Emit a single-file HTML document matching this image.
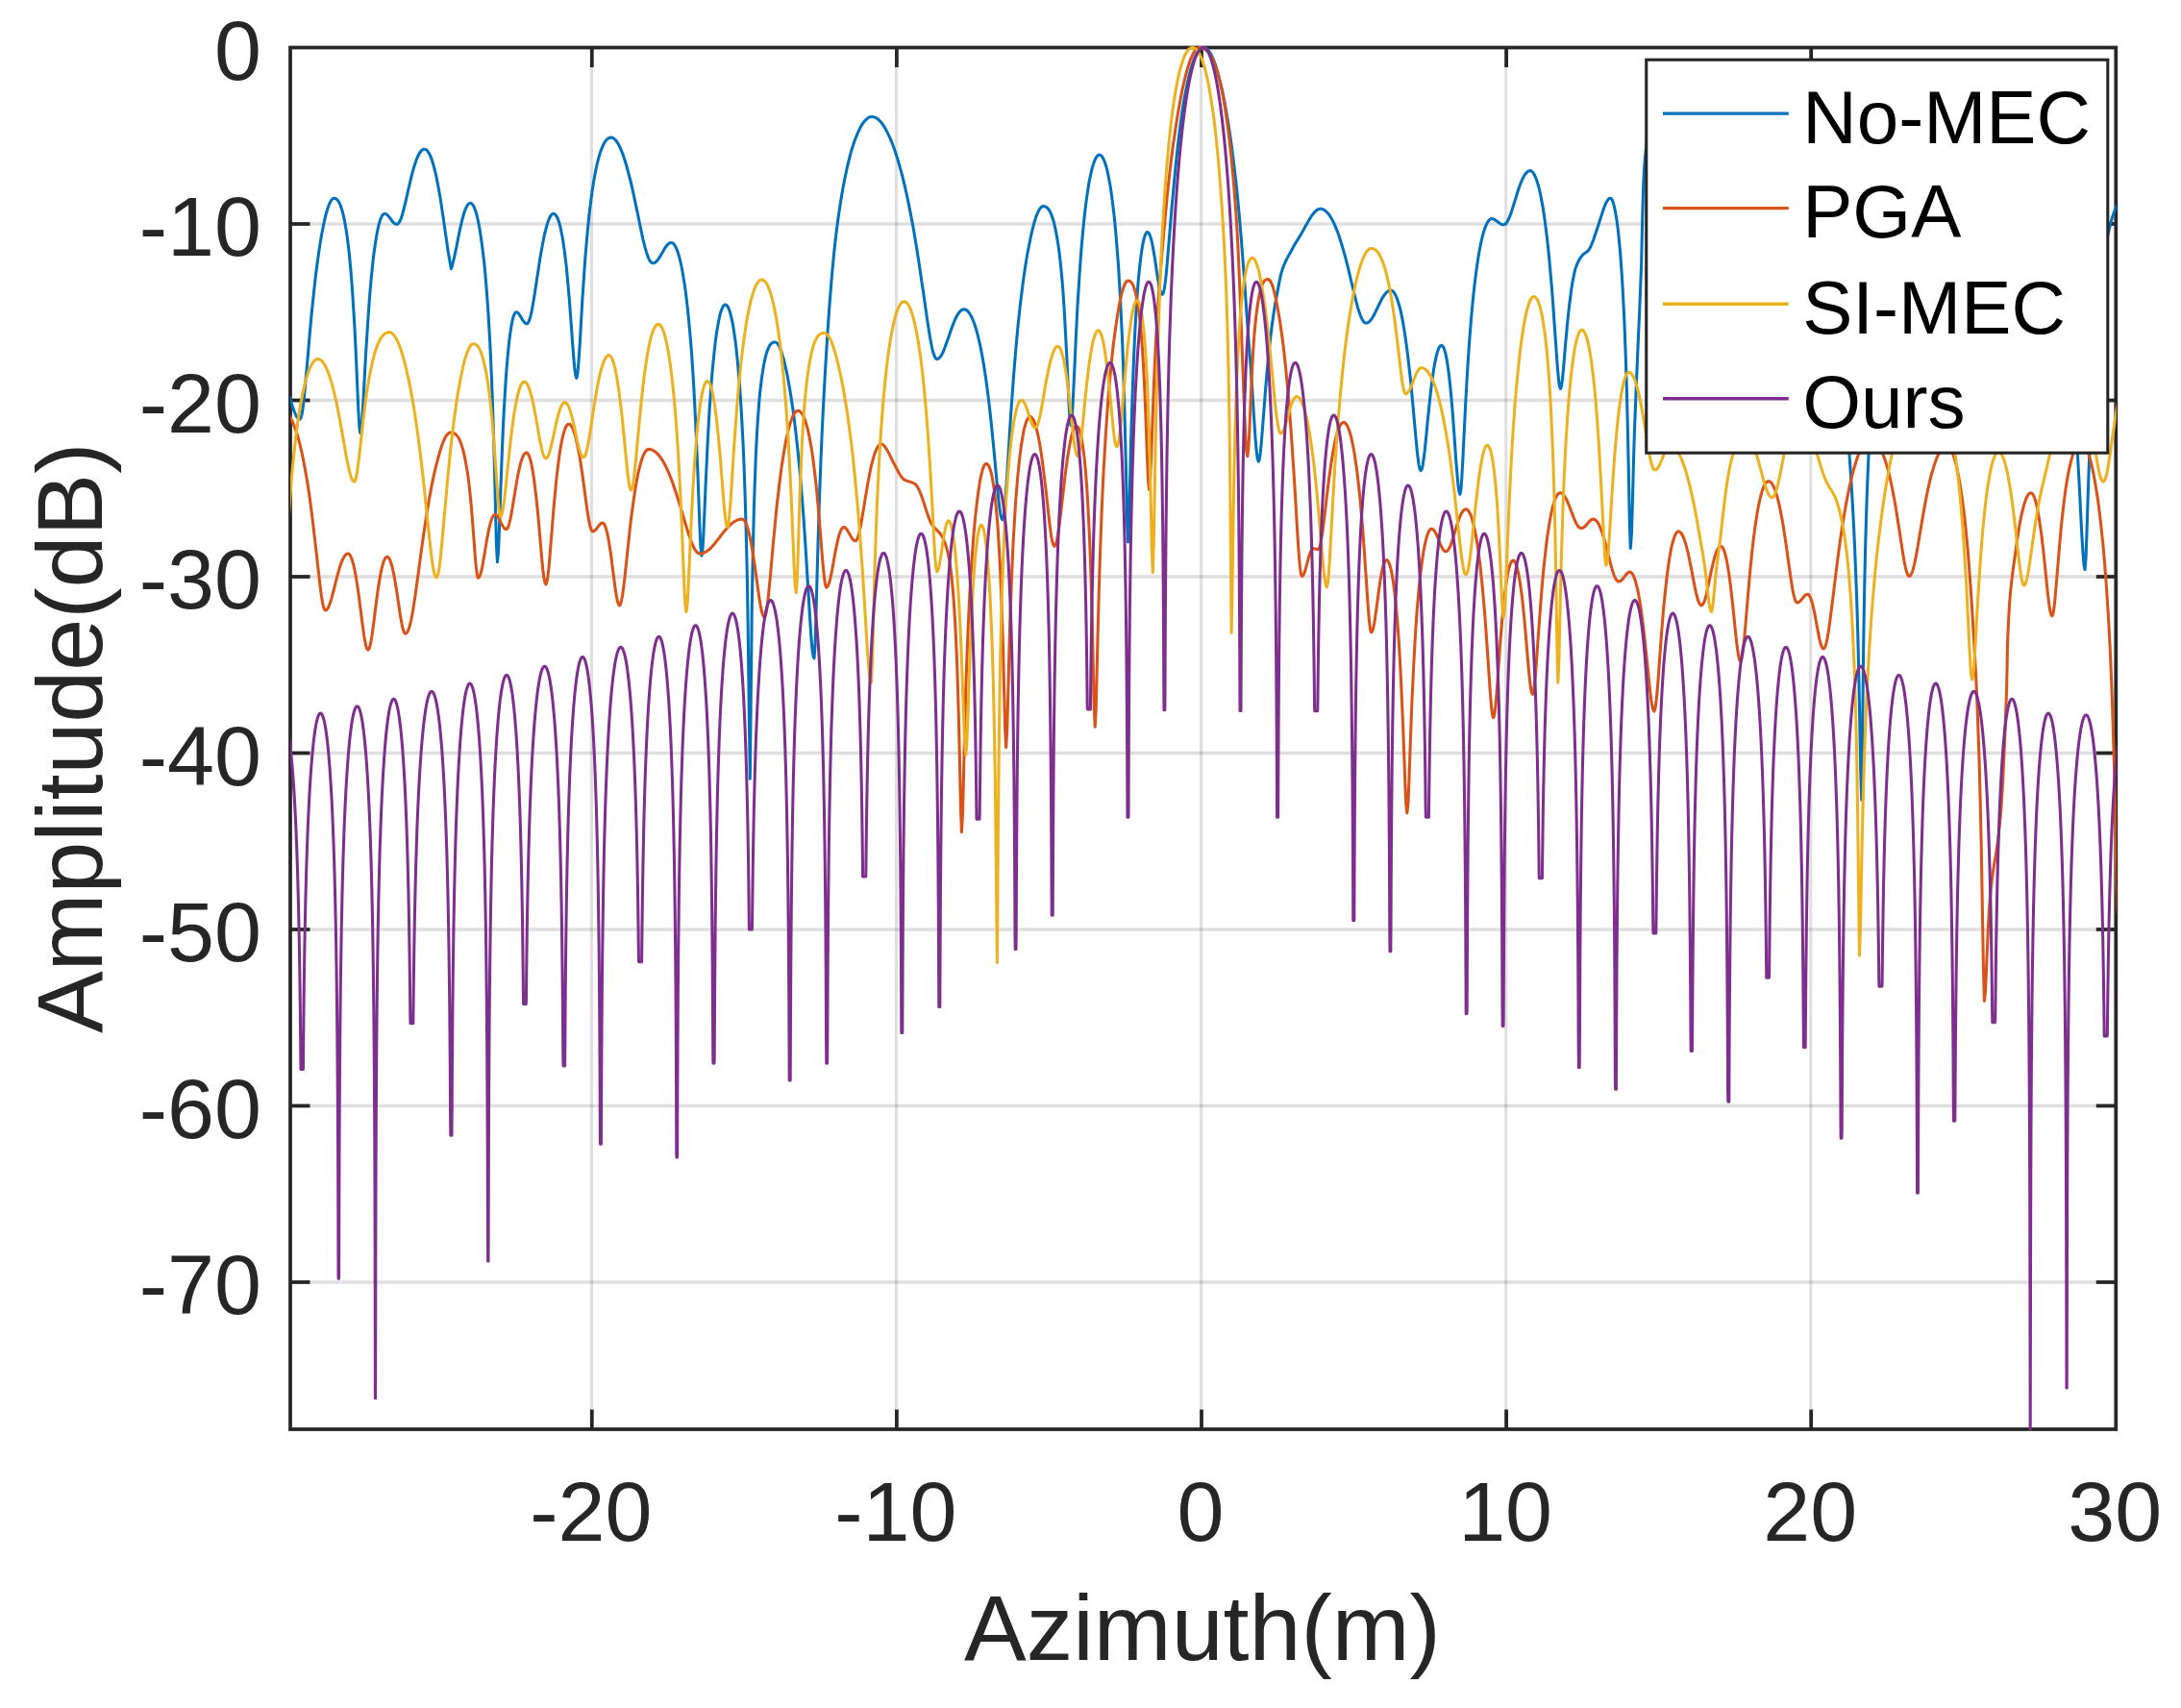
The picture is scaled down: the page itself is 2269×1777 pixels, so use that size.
<!DOCTYPE html>
<html lang="en"><head><meta charset="utf-8"><title>Azimuth profile</title>
<style>html,body{margin:0;padding:0;background:#fff}svg{display:block}text{font-family:"Liberation Sans",Arial,Helvetica,sans-serif}</style></head><body>
<svg width="2269" height="1777" viewBox="0 0 2269 1777">
<rect width="2269" height="1777" fill="#fff"/>
<defs><clipPath id="cp"><rect x="302.00" y="47.62" width="1899.80" height="1441.25"/></clipPath></defs>
<g stroke="#262626" stroke-opacity="0.15">
<line x1="615.40" y1="49.50" x2="615.40" y2="1487.00" stroke-width="3.1"/>
<line x1="932.50" y1="49.50" x2="932.50" y2="1487.00" stroke-width="3.1"/>
<line x1="1249.60" y1="49.50" x2="1249.60" y2="1487.00" stroke-width="3.1"/>
<line x1="1566.70" y1="49.50" x2="1566.70" y2="1487.00" stroke-width="3.1"/>
<line x1="1883.80" y1="49.50" x2="1883.80" y2="1487.00" stroke-width="3.1"/>
<line x1="302.00" y1="1334.00" x2="2201.30" y2="1334.00" stroke-width="3.5"/>
<line x1="302.00" y1="1150.50" x2="2201.30" y2="1150.50" stroke-width="3.5"/>
<line x1="302.00" y1="967.00" x2="2201.30" y2="967.00" stroke-width="3.5"/>
<line x1="302.00" y1="783.50" x2="2201.30" y2="783.50" stroke-width="3.5"/>
<line x1="302.00" y1="600.00" x2="2201.30" y2="600.00" stroke-width="3.5"/>
<line x1="302.00" y1="416.50" x2="2201.30" y2="416.50" stroke-width="3.5"/>
<line x1="302.00" y1="233.00" x2="2201.30" y2="233.00" stroke-width="3.5"/>
</g>
<g stroke="#262626" stroke-width="3.75" fill="none">
<rect x="302.00" y="49.50" width="1899.30" height="1437.50"/>
<line x1="615.80" y1="1487.00" x2="615.80" y2="1466.50"/>
<line x1="615.80" y1="49.50" x2="615.80" y2="70.00"/>
<line x1="932.90" y1="1487.00" x2="932.90" y2="1466.50"/>
<line x1="932.90" y1="49.50" x2="932.90" y2="70.00"/>
<line x1="1250.00" y1="1487.00" x2="1250.00" y2="1466.50"/>
<line x1="1250.00" y1="49.50" x2="1250.00" y2="70.00"/>
<line x1="1567.10" y1="1487.00" x2="1567.10" y2="1466.50"/>
<line x1="1567.10" y1="49.50" x2="1567.10" y2="70.00"/>
<line x1="1884.20" y1="1487.00" x2="1884.20" y2="1466.50"/>
<line x1="1884.20" y1="49.50" x2="1884.20" y2="70.00"/>
<line x1="302.00" y1="1334.00" x2="322.50" y2="1334.00"/>
<line x1="2201.30" y1="1334.00" x2="2180.80" y2="1334.00"/>
<line x1="302.00" y1="1150.50" x2="322.50" y2="1150.50"/>
<line x1="2201.30" y1="1150.50" x2="2180.80" y2="1150.50"/>
<line x1="302.00" y1="967.00" x2="322.50" y2="967.00"/>
<line x1="2201.30" y1="967.00" x2="2180.80" y2="967.00"/>
<line x1="302.00" y1="783.50" x2="322.50" y2="783.50"/>
<line x1="2201.30" y1="783.50" x2="2180.80" y2="783.50"/>
<line x1="302.00" y1="600.00" x2="322.50" y2="600.00"/>
<line x1="2201.30" y1="600.00" x2="2180.80" y2="600.00"/>
<line x1="302.00" y1="416.50" x2="322.50" y2="416.50"/>
<line x1="2201.30" y1="416.50" x2="2180.80" y2="416.50"/>
<line x1="302.00" y1="233.00" x2="322.50" y2="233.00"/>
<line x1="2201.30" y1="233.00" x2="2180.80" y2="233.00"/>
</g>
<g clip-path="url(#cp)">
<polyline points="290.0,392.0 291.0,392.2 292.0,392.8 293.0,393.7 294.0,395.0 295.0,396.6 296.0,398.6 297.0,400.9 298.0,403.5 299.0,406.2 300.0,409.2 301.0,412.3 302.0,415.5 303.0,418.7 304.0,421.9 305.0,424.9 306.0,427.6 307.0,430.1 308.0,432.2 309.0,433.9 310.0,435.2 311.0,435.9 312.0,436.1 313.0,434.8 314.1,430.9 315.1,424.4 316.1,416.0 317.1,405.9 318.1,394.9 319.2,383.2 320.2,371.4 321.2,359.6 322.2,348.0 323.2,336.8 324.2,326.0 325.3,315.7 326.3,305.9 327.3,296.6 328.3,287.8 329.3,279.5 330.4,271.7 331.4,264.4 332.4,257.5 333.4,251.2 334.4,245.2 335.5,239.7 336.5,234.5 337.5,229.7 338.5,225.4 339.5,221.5 340.6,218.0 341.6,214.9 342.6,212.3 343.6,210.1 344.6,208.4 345.6,207.2 346.7,206.5 347.7,206.2 348.7,206.4 349.7,206.9 350.7,207.7 351.7,208.9 352.7,210.5 353.7,212.5 354.7,215.1 355.7,218.2 356.7,221.8 357.7,226.1 358.7,231.0 359.7,236.6 360.7,243.0 361.7,250.3 362.7,258.5 363.7,267.8 364.7,278.5 365.7,290.7 366.7,304.4 367.7,320.1 368.8,337.8 369.8,357.6 370.8,379.6 371.8,403.0 372.8,425.7 373.8,443.5 374.8,450.5 375.8,446.4 376.8,435.1 377.8,419.0 378.8,400.8 379.8,382.2 380.8,364.2 381.9,347.4 382.9,331.8 383.9,317.6 384.9,304.7 385.9,292.9 386.9,282.3 387.9,272.8 388.9,264.2 390.0,256.6 391.0,249.8 392.0,243.8 393.0,238.7 394.0,234.3 395.0,230.6 396.0,227.6 397.1,225.3 398.1,223.6 399.1,222.6 400.1,222.3 401.2,222.5 402.2,223.1 403.3,224.0 404.3,225.1 405.4,226.5 406.5,227.9 407.5,229.4 408.6,230.7 409.7,231.8 410.7,232.7 411.8,233.2 412.9,233.3 413.9,233.0 414.9,232.0 415.9,230.3 417.0,228.0 418.0,225.1 419.0,221.7 420.0,217.9 421.0,213.8 422.1,209.4 423.1,205.0 424.1,200.4 425.1,195.9 426.2,191.5 427.2,187.2 428.2,183.0 429.2,179.1 430.2,175.4 431.3,172.0 432.3,168.9 433.3,166.0 434.3,163.5 435.4,161.3 436.4,159.4 437.4,157.9 438.4,156.7 439.4,155.8 440.5,155.3 441.5,155.2 442.5,155.4 443.6,155.9 444.6,156.9 445.6,158.3 446.7,160.1 447.7,162.3 448.7,164.9 449.8,167.9 450.8,171.3 451.8,175.1 452.9,179.3 453.9,183.9 454.9,188.9 456.0,194.4 457.0,200.2 458.1,206.3 459.1,212.9 460.1,219.7 461.2,226.7 462.2,233.9 463.2,241.2 464.3,248.5 465.3,255.5 466.3,262.3 467.4,268.6 468.4,274.4 469.4,279.6 470.5,276.2 471.5,272.2 472.6,267.8 473.6,263.0 474.7,257.9 475.7,252.7 476.7,247.5 477.8,242.3 478.8,237.4 479.9,232.7 480.9,228.4 482.0,224.5 483.0,221.1 484.0,218.1 485.1,215.7 486.1,213.8 487.2,212.4 488.2,211.6 489.3,211.3 490.3,211.6 491.3,212.4 492.3,213.8 493.3,215.7 494.3,218.2 495.3,221.3 496.3,225.0 497.3,229.3 498.3,234.3 499.3,240.0 500.3,246.4 501.3,253.6 502.3,261.6 503.4,270.6 504.4,280.5 505.4,291.6 506.4,303.9 507.4,317.7 508.4,333.1 509.4,350.5 510.4,370.2 511.4,392.8 512.4,418.8 513.4,449.3 514.4,484.9 515.4,525.6 516.4,565.6 517.4,584.8 518.5,574.4 519.5,549.1 520.5,519.0 521.6,489.9 522.6,463.8 523.6,440.8 524.7,420.7 525.7,403.3 526.7,388.2 527.8,375.1 528.8,363.9 529.8,354.2 530.9,346.1 531.9,339.4 532.9,334.0 533.9,329.9 535.0,327.0 536.0,325.3 537.0,324.7 538.0,324.9 539.0,325.7 540.0,326.8 541.0,328.3 542.0,330.0 543.0,331.8 544.0,333.4 545.1,334.8 546.1,335.9 547.1,336.6 548.1,336.8 549.1,336.3 550.1,334.6 551.1,331.9 552.2,328.1 553.2,323.4 554.2,318.0 555.2,311.9 556.3,305.5 557.3,298.7 558.3,291.9 559.4,285.0 560.4,278.3 561.4,271.7 562.4,265.5 563.5,259.5 564.5,254.0 565.5,248.7 566.5,243.9 567.6,239.6 568.6,235.6 569.6,232.2 570.7,229.2 571.7,226.8 572.7,224.8 573.7,223.4 574.8,222.6 575.8,222.3 576.8,222.6 577.9,223.4 578.9,224.8 580.0,226.9 581.0,229.5 582.1,232.9 583.1,237.0 584.1,241.8 585.2,247.5 586.2,254.0 587.3,261.4 588.3,269.8 589.4,279.2 590.4,289.7 591.4,301.3 592.5,314.0 593.5,327.7 594.6,342.1 595.6,356.7 596.7,370.6 597.7,382.4 598.8,390.5 599.8,393.4 600.8,389.5 601.8,378.7 602.9,363.4 603.9,346.1 604.9,328.4 605.9,311.3 607.0,295.1 608.0,280.2 609.0,266.4 610.1,253.8 611.1,242.3 612.1,231.8 613.1,222.2 614.2,213.4 615.2,205.3 616.2,198.0 617.2,191.3 618.3,185.3 619.3,179.7 620.3,174.7 621.3,170.1 622.4,165.9 623.4,162.2 624.4,158.9 625.4,155.9 626.5,153.3 627.5,151.0 628.5,149.0 629.5,147.4 630.6,146.0 631.6,144.9 632.6,144.1 633.6,143.5 634.7,143.2 635.7,143.0 636.7,143.2 637.7,143.6 638.7,144.2 639.7,145.1 640.8,146.2 641.8,147.5 642.8,149.1 643.8,150.9 644.8,152.9 645.8,155.2 646.8,157.6 647.9,160.3 648.9,163.2 649.9,166.2 650.9,169.5 651.9,172.9 652.9,176.5 653.9,180.3 654.9,184.2 656.0,188.4 657.0,192.6 658.0,197.0 659.0,201.6 660.0,206.3 661.0,211.1 662.0,215.9 663.1,220.8 664.1,225.8 665.1,230.7 666.1,235.6 667.1,240.4 668.1,245.1 669.1,249.6 670.2,253.8 671.2,257.8 672.2,261.4 673.2,264.6 674.2,267.4 675.2,269.7 676.2,271.5 677.3,272.8 678.3,273.6 679.3,273.8 680.3,273.7 681.3,273.3 682.3,272.6 683.3,271.6 684.3,270.4 685.3,269.0 686.3,267.4 687.3,265.7 688.4,264.0 689.4,262.2 690.4,260.4 691.4,258.7 692.4,257.2 693.4,255.8 694.4,254.7 695.4,253.7 696.4,253.0 697.4,252.6 698.4,252.5 699.5,252.7 700.5,253.4 701.5,254.5 702.5,256.0 703.5,258.1 704.5,260.5 705.5,263.5 706.6,267.0 707.6,271.0 708.6,275.5 709.6,280.5 710.6,286.2 711.6,292.4 712.7,299.3 713.7,307.0 714.7,315.4 715.7,324.6 716.7,334.7 717.7,345.8 718.8,358.1 719.8,371.6 720.8,386.6 721.8,403.2 722.8,421.7 723.8,442.3 724.8,465.4 725.9,491.0 726.9,518.7 727.9,546.5 728.9,569.1 729.9,578.2 731.0,571.4 732.0,553.8 733.0,530.8 734.0,506.7 735.1,483.7 736.1,462.5 737.1,443.4 738.1,426.2 739.2,410.8 740.2,397.0 741.2,384.7 742.3,373.8 743.3,364.0 744.3,355.3 745.3,347.7 746.4,341.0 747.4,335.2 748.4,330.3 749.4,326.1 750.5,322.8 751.5,320.3 752.5,318.4 753.6,317.4 754.6,317.0 755.6,317.3 756.6,318.4 757.7,320.1 758.7,322.6 759.7,325.8 760.7,329.7 761.8,334.4 762.8,340.0 763.8,346.4 764.9,353.8 765.9,362.2 766.9,371.7 767.9,382.4 769.0,394.5 770.0,408.3 771.0,423.8 772.0,441.6 773.1,462.1 774.1,486.0 775.1,514.4 776.1,549.1 777.2,593.1 778.2,652.1 779.2,735.7 780.3,810.3 781.3,718.1 782.3,629.3 783.4,570.5 784.4,528.2 785.5,496.0 786.5,470.6 787.5,450.2 788.6,433.5 789.6,419.9 790.6,408.7 791.7,399.4 792.7,391.5 793.8,384.6 794.8,378.7 795.8,373.7 796.9,369.4 797.9,366.0 799.0,363.1 800.0,360.8 801.0,359.1 802.1,357.8 803.1,356.9 804.2,356.3 805.2,356.0 806.2,356.0 807.3,356.2 808.3,356.9 809.3,358.1 810.3,359.7 811.3,361.8 812.3,364.3 813.4,367.2 814.4,370.6 815.4,374.3 816.4,378.4 817.4,382.9 818.5,387.7 819.5,392.8 820.5,398.3 821.5,404.0 822.5,410.1 823.5,416.6 824.6,423.6 825.6,431.0 826.6,438.9 827.6,447.3 828.6,456.2 829.7,465.7 830.7,475.7 831.7,486.4 832.7,497.7 833.7,509.7 834.8,522.4 835.8,535.9 836.8,550.2 837.8,565.3 838.8,581.1 839.8,597.6 840.9,614.6 841.9,631.6 842.9,648.1 843.9,662.9 844.9,674.7 846.0,682.4 847.0,685.0 848.0,671.7 849.0,639.3 850.0,601.7 851.0,565.7 852.0,533.2 853.0,504.1 854.0,478.2 855.0,454.7 856.0,433.5 857.0,414.0 858.0,395.7 859.0,378.2 860.0,361.6 861.0,345.9 862.0,331.2 863.0,317.3 864.0,304.3 865.0,292.1 866.0,280.7 867.0,270.1 868.0,260.1 869.0,250.9 870.0,242.4 871.0,234.4 872.0,227.0 873.0,220.1 874.0,213.5 875.0,207.2 876.0,201.3 877.0,195.6 878.0,190.3 879.0,185.2 880.0,180.4 881.0,175.8 882.0,171.4 883.0,167.3 884.0,163.4 885.0,159.7 886.0,156.2 887.0,152.8 888.0,149.7 889.0,146.7 890.1,144.0 891.1,141.4 892.1,138.9 893.1,136.7 894.1,134.6 895.1,132.6 896.1,130.8 897.1,129.2 898.1,127.7 899.1,126.4 900.1,125.3 901.1,124.3 902.1,123.4 903.1,122.7 904.1,122.2 905.1,121.8 906.1,121.5 907.1,121.5 908.1,121.5 909.1,121.7 910.1,122.1 911.1,122.5 912.1,123.1 913.1,123.8 914.1,124.7 915.2,125.7 916.2,126.8 917.2,128.0 918.2,129.3 919.2,130.8 920.2,132.4 921.2,134.1 922.2,135.9 923.2,137.8 924.2,139.9 925.2,142.1 926.3,144.4 927.3,146.8 928.3,149.3 929.3,152.0 930.3,154.8 931.3,157.7 932.3,160.8 933.3,163.9 934.3,167.2 935.3,170.7 936.3,174.2 937.3,177.9 938.4,181.7 939.4,185.7 940.4,189.8 941.4,194.1 942.4,198.5 943.4,203.0 944.4,207.7 945.4,212.6 946.4,217.6 947.4,222.8 948.4,228.1 949.5,233.6 950.5,239.3 951.5,245.1 952.5,251.1 953.5,257.3 954.5,263.6 955.5,270.0 956.5,276.6 957.5,283.3 958.5,290.2 959.5,297.1 960.6,304.1 961.6,311.2 962.6,318.2 963.6,325.2 964.6,332.1 965.6,338.8 966.6,345.2 967.6,351.2 968.6,356.7 969.6,361.6 970.6,365.8 971.7,369.2 972.7,371.6 973.7,373.1 974.7,373.6 975.7,373.4 976.7,372.8 977.7,371.9 978.7,370.6 979.7,369.0 980.7,367.0 981.7,364.8 982.7,362.3 983.7,359.6 984.7,356.8 985.7,353.9 986.8,350.9 987.8,348.0 988.8,345.1 989.8,342.2 990.8,339.5 991.8,336.8 992.8,334.4 993.8,332.1 994.8,330.0 995.8,328.1 996.8,326.5 997.8,325.1 998.8,323.9 999.8,323.0 1000.8,322.4 1001.9,322.0 1002.9,321.8 1003.9,322.0 1004.9,322.3 1005.9,323.0 1006.9,323.9 1007.9,325.0 1008.9,326.4 1009.9,328.1 1010.9,330.0 1011.9,332.2 1012.9,334.7 1013.9,337.5 1014.9,340.5 1015.9,343.9 1016.9,347.5 1017.9,351.5 1018.9,355.8 1019.9,360.4 1020.9,365.4 1021.9,370.7 1022.9,376.4 1023.9,382.4 1024.9,388.9 1025.9,395.8 1026.9,403.1 1027.9,410.9 1028.9,419.1 1029.9,427.8 1030.9,437.0 1031.9,446.6 1032.9,456.7 1033.9,467.2 1034.9,478.0 1035.9,488.9 1036.9,499.8 1037.9,510.4 1038.9,520.1 1039.9,528.6 1040.9,535.1 1041.9,539.3 1042.9,540.7 1043.9,538.2 1045.0,530.9 1046.0,519.4 1047.0,505.2 1048.0,489.5 1049.0,473.1 1050.0,456.8 1051.0,440.9 1052.0,425.6 1053.1,411.0 1054.1,397.2 1055.1,384.1 1056.1,371.8 1057.1,360.1 1058.1,349.1 1059.1,338.7 1060.1,328.9 1061.1,319.6 1062.2,310.8 1063.2,302.6 1064.2,294.8 1065.2,287.4 1066.2,280.5 1067.2,274.0 1068.2,267.9 1069.2,262.1 1070.3,256.7 1071.3,251.6 1072.3,246.7 1073.3,242.2 1074.3,238.0 1075.3,234.0 1076.3,230.5 1077.3,227.2 1078.3,224.3 1079.4,221.8 1080.4,219.6 1081.4,217.8 1082.4,216.4 1083.4,215.4 1084.4,214.8 1085.4,214.6 1086.5,214.7 1087.5,215.0 1088.5,215.5 1089.5,216.3 1090.5,217.4 1091.6,218.8 1092.6,220.6 1093.6,222.9 1094.6,225.6 1095.7,228.8 1096.7,232.5 1097.7,236.9 1098.7,241.9 1099.7,247.5 1100.8,253.9 1101.8,261.2 1102.8,269.5 1103.8,279.2 1104.9,290.3 1105.9,303.2 1106.9,317.9 1107.9,334.8 1108.9,353.8 1110.0,374.9 1111.0,397.4 1112.0,419.2 1113.0,436.2 1114.1,442.8 1115.1,436.7 1116.1,420.8 1117.1,399.5 1118.2,376.7 1119.2,354.5 1120.2,333.8 1121.2,314.9 1122.3,297.7 1123.3,282.0 1124.3,267.9 1125.3,255.0 1126.4,243.3 1127.4,232.7 1128.4,223.1 1129.4,214.3 1130.5,206.4 1131.5,199.3 1132.5,192.9 1133.5,187.1 1134.6,182.0 1135.6,177.5 1136.6,173.6 1137.6,170.2 1138.7,167.4 1139.7,165.1 1140.7,163.4 1141.7,162.1 1142.8,161.3 1143.8,161.1 1144.8,161.4 1145.8,162.1 1146.9,163.4 1147.9,165.2 1148.9,167.6 1149.9,170.4 1151.0,173.9 1152.0,177.9 1153.0,182.6 1154.0,187.8 1155.1,193.8 1156.1,200.4 1157.1,207.9 1158.1,216.1 1159.2,225.3 1160.2,235.5 1161.2,246.8 1162.2,259.3 1163.3,273.3 1164.3,289.0 1165.3,306.7 1166.3,326.8 1167.4,349.8 1168.4,376.7 1169.4,408.3 1170.4,446.2 1171.5,491.3 1172.5,538.9 1173.5,563.9 1174.5,544.2 1175.5,503.4 1176.5,462.2 1177.6,426.5 1178.6,396.3 1179.6,370.7 1180.6,348.9 1181.6,330.1 1182.6,314.0 1183.6,300.0 1184.6,287.9 1185.7,277.5 1186.7,268.7 1187.7,261.2 1188.7,255.0 1189.7,250.1 1190.7,246.3 1191.7,243.6 1192.7,242.0 1193.8,241.5 1194.8,242.0 1195.8,243.6 1196.8,246.2 1197.9,249.9 1198.9,254.5 1199.9,259.9 1201.0,266.1 1202.0,272.7 1203.0,279.7 1204.0,286.6 1205.1,293.0 1206.1,298.6 1207.1,302.9 1208.1,305.5 1209.2,306.4 1210.2,305.1 1211.2,301.1 1212.2,294.4 1213.2,285.5 1214.2,274.8 1215.2,263.1 1216.2,250.9 1217.2,238.5 1218.2,226.3 1219.2,214.4 1220.3,202.9 1221.3,191.7 1222.3,181.1 1223.3,171.0 1224.3,161.3 1225.3,152.2 1226.3,143.6 1227.3,135.5 1228.3,127.8 1229.3,120.6 1230.3,113.8 1231.3,107.5 1232.3,101.5 1233.4,96.0 1234.4,90.8 1235.4,86.0 1236.4,81.5 1237.4,77.4 1238.4,73.5 1239.4,70.0 1240.4,66.9 1241.4,64.0 1242.4,61.4 1243.4,59.0 1244.4,57.0 1245.4,55.2 1246.5,53.6 1247.5,52.4 1248.5,51.3 1249.5,50.5 1250.5,49.9 1251.5,49.6 1252.5,49.5 1253.5,49.6 1254.5,50.1 1255.5,50.7 1256.6,51.7 1257.6,52.9 1258.6,54.3 1259.6,56.0 1260.6,58.0 1261.6,60.2 1262.6,62.6 1263.7,65.3 1264.7,68.2 1265.7,71.4 1266.7,74.8 1267.7,78.4 1268.7,82.3 1269.7,86.4 1270.7,90.7 1271.8,95.4 1272.8,100.2 1273.8,105.4 1274.8,110.8 1275.8,116.4 1276.8,122.4 1277.8,128.6 1278.9,135.2 1279.9,142.0 1280.9,149.2 1281.9,156.8 1282.9,164.7 1283.9,173.0 1284.9,181.7 1286.0,190.9 1287.0,200.5 1288.0,210.6 1289.0,221.3 1290.0,232.6 1291.0,244.6 1292.0,257.2 1293.0,270.5 1294.1,284.3 1295.1,298.4 1296.1,312.8 1297.1,327.2 1298.1,341.3 1299.1,355.0 1300.1,368.6 1301.2,382.4 1302.2,396.9 1303.2,412.4 1304.2,428.3 1305.2,443.9 1306.2,458.1 1307.2,469.8 1308.3,477.5 1309.3,480.2 1310.3,477.6 1311.3,470.5 1312.3,460.1 1313.3,447.8 1314.3,434.7 1315.3,421.6 1316.3,408.8 1317.3,396.6 1318.3,385.1 1319.3,374.4 1320.3,364.4 1321.3,355.1 1322.3,346.5 1323.3,338.6 1324.3,331.4 1325.3,324.8 1326.3,318.6 1327.3,312.7 1328.4,307.0 1329.4,301.4 1330.4,296.0 1331.4,290.9 1332.4,286.4 1333.4,282.6 1334.4,279.5 1335.4,276.8 1336.4,274.3 1337.4,272.1 1338.4,270.0 1339.4,268.1 1340.4,266.2 1341.4,264.5 1342.4,262.7 1343.4,260.9 1344.4,259.0 1345.4,257.1 1346.4,255.3 1347.4,253.6 1348.4,252.0 1349.4,250.3 1350.5,248.7 1351.5,247.0 1352.5,245.4 1353.5,243.7 1354.5,242.0 1355.5,240.2 1356.5,238.4 1357.5,236.6 1358.5,234.8 1359.5,233.0 1360.5,231.2 1361.5,229.5 1362.5,227.8 1363.5,226.2 1364.5,224.7 1365.5,223.3 1366.5,222.0 1367.5,220.8 1368.5,219.8 1369.5,218.9 1370.5,218.2 1371.5,217.7 1372.6,217.4 1373.6,217.2 1374.6,217.3 1375.6,217.6 1376.6,217.9 1377.6,218.5 1378.6,219.1 1379.6,220.0 1380.6,221.0 1381.7,222.1 1382.7,223.4 1383.7,224.9 1384.7,226.5 1385.7,228.2 1386.7,230.1 1387.7,232.2 1388.7,234.4 1389.7,236.8 1390.8,239.3 1391.8,242.0 1392.8,244.8 1393.8,247.8 1394.8,250.9 1395.8,254.2 1396.8,257.6 1397.8,261.1 1398.9,264.8 1399.9,268.6 1400.9,272.5 1401.9,276.5 1402.9,280.6 1403.9,284.8 1404.9,289.0 1405.9,293.3 1407.0,297.6 1408.0,301.8 1409.0,306.0 1410.0,310.1 1411.0,314.0 1412.0,317.8 1413.0,321.3 1414.0,324.6 1415.0,327.5 1416.1,330.1 1417.1,332.2 1418.1,333.9 1419.1,335.2 1420.1,335.9 1421.1,336.1 1422.1,336.0 1423.2,335.6 1424.2,334.9 1425.2,333.9 1426.3,332.7 1427.3,331.3 1428.3,329.6 1429.4,327.8 1430.4,325.8 1431.4,323.7 1432.5,321.5 1433.5,319.3 1434.5,317.2 1435.5,315.1 1436.6,313.0 1437.6,311.1 1438.6,309.3 1439.7,307.7 1440.7,306.2 1441.7,305.0 1442.8,303.9 1443.8,303.1 1444.8,302.5 1445.8,302.1 1446.9,302.0 1447.9,302.2 1448.9,302.8 1449.9,303.9 1450.9,305.3 1451.9,307.1 1452.9,309.4 1453.9,312.1 1454.9,315.3 1456.0,318.9 1457.0,322.9 1458.0,327.4 1459.0,332.4 1460.0,337.9 1461.0,344.0 1462.0,350.5 1463.0,357.6 1464.0,365.3 1465.0,373.6 1466.0,382.4 1467.1,391.8 1468.1,401.8 1469.1,412.3 1470.1,423.3 1471.1,434.5 1472.1,445.9 1473.1,456.9 1474.1,467.3 1475.1,476.4 1476.1,483.5 1477.1,488.1 1478.1,489.7 1479.2,488.2 1480.2,483.8 1481.2,477.0 1482.3,468.3 1483.3,458.4 1484.3,447.9 1485.3,437.3 1486.4,426.9 1487.4,417.1 1488.4,407.9 1489.4,399.4 1490.5,391.7 1491.5,384.9 1492.5,378.8 1493.6,373.6 1494.6,369.2 1495.6,365.6 1496.6,362.8 1497.7,360.8 1498.7,359.7 1499.7,359.3 1500.7,359.8 1501.7,361.3 1502.7,363.9 1503.8,367.5 1504.8,372.3 1505.8,378.1 1506.8,385.0 1507.8,393.1 1508.8,402.4 1509.8,412.8 1510.8,424.5 1511.8,437.2 1512.8,451.0 1513.8,465.3 1514.8,479.6 1515.9,493.0 1516.9,504.2 1517.9,511.7 1518.9,514.3 1519.9,509.3 1520.9,495.8 1521.9,477.2 1522.9,456.7 1523.9,436.2 1524.9,416.6 1525.9,398.5 1526.9,381.7 1527.9,366.3 1528.9,352.3 1529.9,339.4 1530.9,327.5 1531.9,316.7 1532.9,306.7 1533.9,297.6 1534.9,289.2 1535.9,281.5 1536.9,274.4 1537.9,268.0 1538.9,262.1 1539.9,256.7 1540.9,251.9 1541.9,247.5 1542.9,243.6 1543.9,240.2 1544.9,237.2 1545.9,234.6 1546.9,232.5 1547.9,230.7 1548.9,229.3 1549.9,228.4 1550.9,227.8 1551.9,227.6 1552.9,227.7 1554.0,228.0 1555.0,228.5 1556.0,229.2 1557.0,230.0 1558.1,230.8 1559.1,231.6 1560.1,232.3 1561.2,232.9 1562.2,233.4 1563.2,233.7 1564.2,233.8 1565.3,233.5 1566.3,232.9 1567.3,231.7 1568.3,230.2 1569.3,228.2 1570.4,225.9 1571.4,223.3 1572.4,220.4 1573.4,217.3 1574.4,214.0 1575.4,210.7 1576.5,207.4 1577.5,204.1 1578.5,200.8 1579.5,197.7 1580.5,194.7 1581.6,191.9 1582.6,189.3 1583.6,186.9 1584.6,184.8 1585.6,182.9 1586.7,181.3 1587.7,180.0 1588.7,179.0 1589.7,178.2 1590.7,177.8 1591.8,177.6 1592.8,177.8 1593.8,178.5 1594.8,179.5 1595.8,181.0 1596.9,183.0 1597.9,185.3 1598.9,188.2 1599.9,191.5 1601.0,195.2 1602.0,199.5 1603.0,204.3 1604.0,209.6 1605.1,215.4 1606.1,221.8 1607.1,228.9 1608.1,236.6 1609.1,244.9 1610.2,254.0 1611.2,263.8 1612.2,274.5 1613.2,285.9 1614.3,298.3 1615.3,311.4 1616.3,325.4 1617.3,339.9 1618.4,354.8 1619.4,369.5 1620.4,383.1 1621.4,394.3 1622.4,401.8 1623.5,404.4 1624.5,401.7 1625.5,394.3 1626.5,383.8 1627.5,371.9 1628.5,359.7 1629.6,347.9 1630.6,336.9 1631.6,326.9 1632.6,318.0 1633.6,310.0 1634.6,302.5 1635.6,295.8 1636.7,289.8 1637.7,284.7 1638.7,280.5 1639.7,277.4 1640.7,274.8 1641.7,272.5 1642.7,270.6 1643.8,268.9 1644.8,267.4 1645.8,266.1 1646.8,265.0 1647.8,264.1 1648.8,263.4 1649.8,262.8 1650.9,262.0 1651.9,261.1 1652.9,260.0 1653.9,258.4 1654.9,256.5 1655.9,254.1 1656.9,251.5 1658.0,248.7 1659.0,245.7 1660.0,242.8 1661.0,239.8 1662.0,236.8 1663.0,233.7 1664.0,230.5 1665.1,227.3 1666.1,224.1 1667.1,221.0 1668.1,218.0 1669.1,215.2 1670.1,212.7 1671.1,210.5 1672.2,208.7 1673.2,207.4 1674.2,206.5 1675.2,206.2 1676.2,206.7 1677.2,208.2 1678.2,210.6 1679.2,214.1 1680.2,218.6 1681.2,224.2 1682.3,231.0 1683.3,239.1 1684.3,248.5 1685.3,259.3 1686.3,271.9 1687.3,286.4 1688.3,303.1 1689.3,322.4 1690.3,345.0 1691.3,371.7 1692.3,403.6 1693.3,442.5 1694.3,489.7 1695.3,541.8 1696.3,570.5 1697.4,556.0 1698.4,521.6 1699.4,482.2 1700.4,449.1 1701.5,421.5 1702.5,396.9 1703.5,373.4 1704.5,349.9 1705.6,325.7 1706.6,300.8 1707.6,274.9 1708.6,231.4 1709.7,192.3 1710.7,173.4 1711.7,161.4 1712.7,151.7 1713.8,144.0 1714.8,138.0 1715.8,133.5 1716.8,130.2 1717.9,127.9 1718.9,126.5 1719.9,125.6 1720.9,125.2 1722.0,125.0 1723.0,125.0 1724.0,125.0 1725.0,125.0 1726.0,125.2 1727.0,125.4 1728.0,125.7 1729.0,126.1 1730.0,126.6 1731.0,127.2 1732.0,127.8 1733.0,128.6 1734.0,129.4 1735.0,130.4 1736.0,131.4 1737.0,132.5 1738.0,133.7 1739.0,135.0 1740.0,136.4 1741.0,137.9 1742.0,139.5 1743.0,141.2 1744.0,143.0 1745.0,144.9 1746.0,146.9 1747.0,149.0 1748.0,151.2 1749.0,153.5 1750.0,155.8 1751.0,158.4 1752.0,161.0 1753.0,163.7 1754.0,166.5 1755.0,169.5 1756.0,172.5 1757.0,175.7 1758.0,179.0 1759.0,182.4 1760.0,185.9 1761.0,189.5 1762.0,193.2 1763.0,197.1 1764.0,201.1 1765.0,205.2 1766.0,209.4 1767.0,213.7 1768.0,218.1 1769.0,222.6 1770.0,227.2 1771.0,231.9 1772.0,236.6 1773.0,241.4 1774.0,246.3 1775.0,251.1 1776.0,256.0 1777.0,260.8 1778.0,265.5 1779.0,270.2 1780.0,274.6 1781.0,278.9 1782.0,282.9 1783.0,286.7 1784.0,290.0 1785.0,293.0 1786.0,295.4 1787.0,297.4 1788.0,298.8 1789.0,299.7 1790.0,300.0 1791.0,299.7 1792.0,298.8 1793.0,297.3 1794.0,295.3 1795.0,292.8 1796.0,289.9 1797.0,286.6 1798.0,283.0 1799.0,279.2 1800.0,275.3 1801.0,271.2 1802.0,267.0 1803.0,262.8 1804.0,258.6 1805.0,254.5 1806.0,250.5 1807.0,246.5 1808.0,242.7 1809.0,239.0 1810.0,235.4 1811.0,231.9 1812.0,228.6 1813.0,225.5 1814.0,222.5 1815.0,219.6 1816.0,216.9 1817.0,214.3 1818.0,211.8 1819.0,209.5 1820.0,207.3 1821.0,205.1 1822.0,203.1 1823.0,201.2 1824.0,199.3 1825.0,197.6 1826.0,196.0 1827.0,194.4 1828.0,193.0 1829.0,191.6 1830.0,190.4 1831.0,189.2 1832.0,188.1 1833.0,187.1 1834.0,186.2 1835.0,185.3 1836.0,184.5 1837.0,183.8 1838.0,183.2 1839.0,182.6 1840.0,182.1 1841.0,181.7 1842.0,181.3 1843.0,181.0 1844.0,180.7 1845.0,180.5 1846.0,180.3 1847.0,180.2 1848.0,180.1 1849.0,180.0 1850.0,180.0 1851.0,180.0 1852.0,180.2 1853.0,180.4 1854.0,180.8 1855.0,181.2 1856.0,181.7 1857.1,182.3 1858.1,183.1 1859.1,183.9 1860.1,184.7 1861.1,185.7 1862.1,186.8 1863.1,188.0 1864.1,189.2 1865.1,190.5 1866.1,191.9 1867.1,193.4 1868.1,195.0 1869.2,196.7 1870.2,198.4 1871.2,200.3 1872.2,202.2 1873.2,204.2 1874.2,206.2 1875.2,208.4 1876.2,210.6 1877.2,212.9 1878.2,215.3 1879.2,217.8 1880.2,220.3 1881.3,222.9 1882.3,225.5 1883.3,228.3 1884.3,231.1 1885.3,234.0 1886.3,237.0 1887.3,240.2 1888.3,243.4 1889.3,246.7 1890.3,250.1 1891.3,253.7 1892.3,257.3 1893.3,261.1 1894.4,265.0 1895.4,269.0 1896.4,273.1 1897.4,277.4 1898.4,281.8 1899.4,286.3 1900.4,291.0 1901.4,295.8 1902.4,300.8 1903.4,306.0 1904.4,311.3 1905.4,316.9 1906.5,322.6 1907.5,328.5 1908.5,334.7 1909.5,341.0 1910.5,347.6 1911.5,354.5 1912.5,361.7 1913.5,369.1 1914.5,376.9 1915.5,385.1 1916.5,393.6 1917.5,402.5 1918.5,411.9 1919.6,421.8 1920.6,432.3 1921.6,443.4 1922.6,455.2 1923.6,467.9 1924.6,481.4 1925.6,496.1 1926.6,512.1 1927.6,529.5 1928.6,548.9 1929.6,570.5 1930.6,595.0 1931.7,623.4 1932.7,656.8 1933.7,697.0 1934.7,746.0 1935.7,801.0 1936.7,832.3 1937.7,755.0 1938.7,670.8 1939.7,611.8 1940.7,567.7 1941.7,532.9 1942.7,504.0 1943.7,479.5 1944.7,458.2 1945.7,439.4 1946.7,422.6 1947.8,407.4 1948.8,393.5 1949.8,380.8 1950.8,369.1 1951.8,358.2 1952.8,348.1 1953.8,338.7 1954.8,329.8 1955.8,321.5 1956.8,313.7 1957.8,306.4 1958.8,299.4 1959.8,292.8 1960.8,286.6 1961.8,280.7 1962.8,275.1 1963.8,269.8 1964.8,264.8 1965.8,260.0 1966.9,255.5 1967.9,251.2 1968.9,247.2 1969.9,243.3 1970.9,239.7 1971.9,236.2 1972.9,232.9 1973.9,229.8 1974.9,226.9 1975.9,224.2 1976.9,221.6 1977.9,219.2 1978.9,216.9 1979.9,214.8 1980.9,212.9 1981.9,211.1 1982.9,209.4 1983.9,207.9 1984.9,206.5 1986.0,205.3 1987.0,204.1 1988.0,203.2 1989.0,202.3 1990.0,201.6 1991.0,201.0 1992.0,200.6 1993.0,200.3 1994.0,200.1 1995.0,200.0 1996.0,200.1 1997.0,200.2 1998.0,200.5 1999.0,200.9 2000.0,201.4 2001.0,202.1 2002.0,202.8 2003.0,203.7 2004.0,204.7 2005.0,205.8 2006.0,207.0 2007.0,208.3 2008.0,209.8 2009.0,211.3 2010.0,213.0 2011.0,214.8 2012.0,216.8 2013.0,218.8 2014.0,221.0 2015.0,223.3 2016.0,225.7 2017.0,228.2 2018.0,230.9 2019.0,233.6 2020.0,236.5 2021.0,239.5 2022.0,242.6 2023.0,245.8 2024.0,249.2 2025.0,252.6 2026.0,256.2 2027.0,259.8 2028.0,263.6 2029.0,267.4 2030.0,271.3 2031.0,275.2 2032.0,279.2 2033.0,283.2 2034.0,287.3 2035.0,291.3 2036.0,295.3 2037.0,299.2 2038.0,303.1 2039.0,306.8 2040.0,310.4 2041.0,313.8 2042.0,317.0 2043.0,319.9 2044.0,322.5 2045.0,324.7 2046.0,326.6 2047.0,328.1 2048.0,329.1 2049.0,329.8 2050.0,330.0 2051.0,329.7 2052.0,328.7 2053.0,327.1 2054.0,324.9 2055.0,322.2 2056.0,319.0 2057.0,315.3 2058.0,311.4 2059.0,307.1 2060.0,302.7 2061.0,298.1 2062.0,293.4 2063.0,288.7 2064.0,283.9 2065.0,279.2 2066.0,274.6 2067.0,270.0 2068.0,265.5 2069.0,261.1 2070.0,256.8 2071.0,252.7 2072.0,248.7 2073.0,244.9 2074.0,241.2 2075.0,237.6 2076.0,234.2 2077.0,230.9 2078.0,227.8 2079.0,224.8 2080.0,221.9 2081.0,219.2 2082.0,216.7 2083.0,214.2 2084.0,211.9 2085.0,209.7 2086.0,207.7 2087.0,205.8 2088.0,204.0 2089.0,202.3 2090.0,200.7 2091.0,199.3 2092.0,197.9 2093.0,196.7 2094.0,195.6 2095.0,194.6 2096.0,193.7 2097.0,192.9 2098.0,192.2 2099.0,191.6 2100.0,191.1 2101.0,190.7 2102.0,190.4 2103.0,190.2 2104.0,190.0 2105.0,190.0 2106.0,190.1 2107.0,190.3 2108.0,190.6 2109.1,191.1 2110.1,191.7 2111.1,192.5 2112.1,193.3 2113.1,194.3 2114.1,195.5 2115.2,196.8 2116.2,198.2 2117.2,199.7 2118.2,201.4 2119.2,203.2 2120.2,205.2 2121.3,207.3 2122.3,209.5 2123.3,211.8 2124.3,214.3 2125.3,217.0 2126.3,219.8 2127.3,222.7 2128.4,225.7 2129.4,229.0 2130.4,232.3 2131.4,235.9 2132.4,239.6 2133.4,243.4 2134.5,247.5 2135.5,251.7 2136.5,256.1 2137.5,260.7 2138.5,265.5 2139.5,270.6 2140.5,275.8 2141.6,281.4 2142.6,287.1 2143.6,293.1 2144.6,299.5 2145.6,306.1 2146.6,313.0 2147.7,320.3 2148.7,327.9 2149.7,336.0 2150.7,344.5 2151.7,353.4 2152.7,362.8 2153.8,372.8 2154.8,383.5 2155.8,394.8 2156.8,406.8 2157.8,419.6 2158.8,433.4 2159.8,448.2 2160.9,464.1 2161.9,481.1 2162.9,499.4 2163.9,518.6 2164.9,538.6 2165.9,558.1 2167.0,575.5 2168.0,587.9 2169.0,592.5 2170.0,581.1 2171.0,554.2 2172.0,522.8 2173.0,492.6 2174.0,465.4 2175.0,441.1 2176.0,419.6 2177.0,400.4 2178.0,383.1 2179.0,367.5 2180.0,353.3 2181.0,340.4 2182.0,328.5 2183.0,317.6 2184.0,307.6 2185.0,298.2 2186.0,289.6 2187.0,281.6 2188.0,274.2 2189.0,267.4 2190.0,261.0 2191.0,255.1 2192.0,249.6 2193.0,244.5 2194.0,239.8 2195.0,235.5 2196.0,231.6 2197.0,228.0 2198.0,224.7 2199.0,221.7 2200.0,219.1 2201.0,216.7 2202.0,214.6 2203.0,212.9 2204.0,211.4 2205.0,210.2 2206.0,209.2 2207.0,208.5 2208.0,208.1 2209.0,208.0" fill="none" stroke="#0072BD" stroke-width="3.05" stroke-linejoin="round" stroke-linecap="butt"/>
<polyline points="294.0,428.0 295.0,428.1 296.0,428.4 297.0,428.9 298.0,429.7 299.1,430.6 300.1,431.7 301.1,433.1 302.1,434.7 303.1,436.5 304.1,438.5 305.1,440.7 306.1,443.2 307.1,445.9 308.1,448.8 309.2,452.0 310.2,455.4 311.2,459.1 312.2,463.1 313.2,467.3 314.2,471.8 315.2,476.6 316.2,481.7 317.2,487.0 318.2,492.7 319.3,498.8 320.3,505.1 321.3,511.8 322.3,518.8 323.3,526.2 324.3,533.9 325.3,542.0 326.3,550.4 327.3,559.1 328.3,568.0 329.4,577.1 330.4,586.3 331.4,595.4 332.4,604.2 333.4,612.5 334.4,619.9 335.4,626.2 336.4,631.0 337.4,634.0 338.4,635.0 339.5,634.6 340.5,633.6 341.5,632.0 342.5,629.7 343.6,626.9 344.6,623.6 345.6,620.0 346.6,616.1 347.7,612.0 348.7,607.9 349.7,603.8 350.7,599.8 351.8,596.0 352.8,592.4 353.8,589.1 354.8,586.1 355.9,583.5 356.9,581.2 357.9,579.4 358.9,577.9 360.0,576.8 361.0,576.2 362.0,576.0 363.0,576.3 364.1,577.5 365.1,579.4 366.2,582.1 367.2,585.6 368.3,589.8 369.3,594.8 370.4,600.5 371.4,606.9 372.5,613.9 373.5,621.5 374.5,629.4 375.6,637.7 376.6,645.9 377.7,653.9 378.7,661.2 379.8,667.4 380.8,672.2 381.9,675.2 382.9,676.1 384.0,675.1 385.0,672.0 386.0,667.0 387.1,660.6 388.1,653.0 389.2,644.9 390.2,636.5 391.3,628.2 392.3,620.2 393.3,612.7 394.4,605.9 395.4,599.7 396.5,594.4 397.5,589.8 398.6,586.0 399.6,583.1 400.6,580.9 401.7,579.7 402.7,579.3 403.8,579.7 404.8,581.0 405.9,583.1 406.9,586.0 408.0,589.7 409.0,594.2 410.1,599.4 411.1,605.3 412.2,611.8 413.3,618.7 414.3,625.9 415.4,633.1 416.4,640.0 417.5,646.3 418.5,651.7 419.6,655.8 420.6,658.3 421.7,659.2 422.7,658.8 423.7,657.7 424.7,655.8 425.7,653.0 426.7,649.5 427.7,645.1 428.7,640.0 429.7,634.4 430.7,628.1 431.7,621.5 432.7,614.5 433.7,607.3 434.7,600.0 435.7,592.6 436.7,585.1 437.7,577.7 438.7,570.4 439.7,563.3 440.7,556.3 441.7,549.4 442.7,542.8 443.7,536.3 444.7,530.1 445.7,524.1 446.7,518.3 447.7,512.8 448.7,507.5 449.7,502.4 450.7,497.6 451.7,493.0 452.7,488.6 453.7,484.4 454.8,480.3 455.8,476.5 456.8,472.8 457.8,469.3 458.8,466.1 459.8,463.2 460.8,460.5 461.8,458.1 462.8,456.0 463.8,454.2 464.8,452.7 465.8,451.6 466.8,450.7 467.8,450.2 468.8,450.0 469.8,450.1 470.8,450.2 471.9,450.5 472.9,451.0 473.9,451.7 474.9,452.6 475.9,453.9 477.0,455.5 478.0,457.4 479.0,459.8 480.0,462.6 481.1,465.9 482.1,469.7 483.1,474.0 484.1,478.9 485.1,484.4 486.2,490.5 487.2,497.6 488.2,505.9 489.2,515.5 490.3,526.4 491.3,538.6 492.3,551.7 493.3,565.4 494.3,578.8 495.4,590.4 496.4,598.4 497.4,601.3 498.4,600.6 499.5,598.4 500.5,595.0 501.6,590.4 502.6,584.9 503.6,578.9 504.7,572.7 505.7,566.5 506.7,560.5 507.8,554.9 508.8,549.9 509.8,545.5 510.9,541.9 511.9,539.0 513.0,536.9 514.0,535.6 515.0,535.2 516.1,535.5 517.1,536.5 518.2,537.9 519.3,539.8 520.3,541.9 521.4,544.1 522.5,546.3 523.5,548.1 524.6,549.5 525.6,550.4 526.7,550.6 527.7,550.0 528.8,547.9 529.8,544.6 530.9,540.1 531.9,534.8 533.0,528.8 534.0,522.5 535.1,516.0 536.1,509.6 537.2,503.4 538.2,497.6 539.2,492.2 540.3,487.4 541.3,483.1 542.4,479.4 543.4,476.4 544.5,474.0 545.5,472.3 546.6,471.3 547.6,470.9 548.6,471.4 549.6,472.7 550.7,474.9 551.7,478.1 552.7,482.1 553.7,487.1 554.7,493.0 555.7,499.8 556.7,507.6 557.7,516.4 558.8,526.0 559.8,536.5 560.8,547.7 561.8,559.3 562.8,571.1 563.8,582.5 564.8,592.7 565.8,600.8 566.9,606.1 567.9,607.9 568.9,605.8 569.9,599.7 571.0,590.4 572.0,578.8 573.0,566.2 574.1,553.1 575.1,540.2 576.1,527.9 577.2,516.2 578.2,505.4 579.2,495.5 580.3,486.5 581.3,478.4 582.3,471.1 583.4,464.7 584.4,459.1 585.4,454.3 586.5,450.3 587.5,447.0 588.5,444.4 589.6,442.6 590.6,441.6 591.6,441.2 592.7,441.5 593.7,442.3 594.8,443.8 595.8,445.7 596.8,448.3 597.9,451.4 598.9,455.1 599.9,459.4 601.0,464.2 602.0,469.5 603.1,475.4 604.1,481.8 605.1,488.6 606.2,495.9 607.2,503.4 608.2,511.2 609.3,518.9 610.3,526.5 611.3,533.6 612.4,540.1 613.4,545.4 614.5,549.5 615.5,552.0 616.5,552.8 617.6,552.7 618.6,552.1 619.6,551.2 620.7,549.9 621.7,548.6 622.7,547.2 623.8,545.9 624.8,544.9 625.8,544.3 626.9,544.0 627.9,544.5 629.0,546.0 630.0,548.5 631.0,551.9 632.1,556.3 633.1,561.5 634.1,567.7 635.2,574.6 636.2,582.1 637.2,590.1 638.3,598.4 639.3,606.5 640.3,614.1 641.4,620.6 642.4,625.7 643.5,628.8 644.5,629.9 645.5,628.7 646.5,625.3 647.5,619.8 648.5,612.6 649.6,604.2 650.6,595.1 651.6,585.5 652.6,575.8 653.6,566.2 654.6,556.8 655.6,547.9 656.6,539.3 657.7,531.2 658.7,523.7 659.7,516.6 660.7,510.0 661.7,504.0 662.7,498.4 663.7,493.4 664.7,488.8 665.8,484.6 666.8,481.0 667.8,477.8 668.8,475.0 669.8,472.7 670.8,470.8 671.8,469.3 672.9,468.2 673.9,467.6 674.9,467.4 675.9,467.5 676.9,467.6 677.9,467.9 678.9,468.3 679.9,468.8 680.9,469.5 681.9,470.2 682.9,471.1 683.9,472.1 684.9,473.1 685.9,474.3 686.9,475.7 687.9,477.1 689.0,478.6 690.0,480.3 691.0,482.1 692.0,484.0 693.0,486.0 694.0,488.1 695.0,490.3 696.0,492.6 697.0,495.1 698.0,497.6 699.0,500.3 700.0,503.0 701.0,505.9 702.0,508.8 703.0,511.8 704.0,514.9 705.0,518.1 706.0,521.3 707.0,524.6 708.1,528.0 709.1,531.4 710.1,534.8 711.1,538.2 712.1,541.6 713.1,545.0 714.1,548.3 715.1,551.6 716.1,554.7 717.1,557.8 718.1,560.6 719.1,563.3 720.1,565.9 721.1,568.1 722.1,570.2 723.1,571.9 724.1,573.4 725.1,574.5 726.2,575.3 727.2,575.8 728.2,576.0 729.2,575.9 730.2,575.8 731.2,575.5 732.3,575.2 733.3,574.7 734.3,574.2 735.3,573.5 736.3,572.8 737.4,572.0 738.4,571.1 739.4,570.1 740.4,569.1 741.4,567.9 742.5,566.8 743.5,565.6 744.5,564.3 745.5,563.0 746.6,561.7 747.6,560.4 748.6,559.1 749.6,557.7 750.6,556.4 751.7,555.1 752.7,553.8 753.7,552.6 754.7,551.3 755.8,550.2 756.8,549.0 757.8,547.9 758.8,546.9 759.8,545.9 760.9,545.0 761.9,544.2 762.9,543.4 763.9,542.7 765.0,542.1 766.0,541.6 767.0,541.1 768.0,540.7 769.0,540.5 770.1,540.2 771.1,540.1 772.1,540.1 773.1,540.4 774.1,541.3 775.1,542.7 776.1,544.8 777.1,547.4 778.1,550.7 779.1,554.5 780.2,558.9 781.2,563.8 782.2,569.3 783.2,575.3 784.2,581.7 785.2,588.5 786.2,595.7 787.2,603.0 788.2,610.3 789.2,617.4 790.2,624.1 791.2,630.1 792.2,635.2 793.2,638.9 794.2,641.2 795.2,642.0 796.3,640.6 797.3,636.4 798.3,629.7 799.3,621.0 800.3,610.9 801.4,599.8 802.4,588.3 803.4,576.7 804.4,565.3 805.5,554.1 806.5,543.4 807.5,533.2 808.5,523.4 809.6,514.2 810.6,505.5 811.6,497.3 812.6,489.6 813.6,482.4 814.7,475.7 815.7,469.5 816.7,463.7 817.7,458.4 818.8,453.5 819.8,449.0 820.8,444.9 821.8,441.3 822.9,438.0 823.9,435.2 824.9,432.8 825.9,430.9 826.9,429.3 828.0,428.2 829.0,427.6 830.0,427.3 831.0,427.5 832.1,428.0 833.1,428.9 834.1,430.1 835.1,431.8 836.2,433.8 837.2,436.3 838.2,439.2 839.2,442.6 840.3,446.5 841.3,451.0 842.3,455.9 843.3,461.5 844.4,467.6 845.4,474.5 846.4,482.0 847.4,490.2 848.5,499.2 849.5,509.0 850.5,519.7 851.5,531.1 852.6,543.2 853.6,555.9 854.6,568.8 855.6,581.5 856.7,593.1 857.7,602.6 858.7,609.0 859.7,611.2 860.7,610.6 861.7,608.8 862.8,605.9 863.8,602.1 864.8,597.4 865.8,592.2 866.8,586.7 867.8,581.1 868.8,575.6 869.8,570.3 870.8,565.5 871.8,561.1 872.8,557.3 873.8,554.2 874.8,551.7 875.8,549.9 876.8,548.8 877.8,548.4 878.8,548.7 879.8,549.4 880.8,550.6 881.8,552.1 882.8,553.8 883.9,555.7 884.9,557.6 885.9,559.3 886.9,560.8 887.9,561.9 888.9,562.5 889.9,562.8 890.9,562.2 892.0,560.4 893.0,557.5 894.0,553.5 895.1,548.7 896.1,543.3 897.1,537.3 898.2,531.1 899.2,524.7 900.2,518.3 901.3,512.0 902.3,506.0 903.3,500.2 904.4,494.7 905.4,489.6 906.4,484.9 907.5,480.6 908.5,476.8 909.5,473.3 910.6,470.4 911.6,467.9 912.6,465.8 913.7,464.2 914.7,463.0 915.7,462.4 916.8,462.1 917.8,462.3 918.8,462.9 919.8,463.8 920.8,465.0 921.8,466.4 922.8,468.1 923.8,469.9 924.8,471.9 925.8,473.9 926.9,476.0 927.9,478.0 928.9,480.0 929.9,481.9 930.9,483.8 931.9,485.7 932.9,487.6 933.9,489.6 934.9,491.4 935.9,493.2 936.9,494.8 937.9,496.3 938.9,497.5 940.0,498.5 941.0,499.2 942.0,499.7 943.0,500.1 944.0,500.5 945.0,500.8 946.0,501.1 947.0,501.4 948.0,501.7 949.0,502.0 950.0,502.5 951.0,503.0 952.1,503.7 953.1,504.7 954.1,506.0 955.1,507.7 956.1,509.7 957.1,512.0 958.1,514.5 959.1,517.2 960.1,520.1 961.1,523.1 962.1,526.2 963.1,529.4 964.1,532.5 965.2,535.6 966.2,538.4 967.2,541.1 968.2,543.3 969.2,545.2 970.2,546.6 971.2,547.9 972.2,549.1 973.2,550.1 974.2,551.1 975.2,552.1 976.2,553.1 977.3,554.2 978.3,555.4 979.3,556.8 980.3,558.5 981.3,560.5 982.3,562.8 983.3,565.4 984.3,568.4 985.3,572.0 986.3,576.1 987.3,580.9 988.3,587.0 989.3,594.5 990.4,603.7 991.4,614.6 992.4,627.7 993.4,643.4 994.4,662.3 995.4,685.1 996.4,713.2 997.4,747.9 998.4,790.9 999.4,838.8 1000.4,865.8 1001.5,846.9 1002.5,806.5 1003.5,764.8 1004.5,727.7 1005.5,695.9 1006.6,668.4 1007.6,644.4 1008.6,623.4 1009.6,604.8 1010.7,588.2 1011.7,573.3 1012.7,560.0 1013.7,548.1 1014.7,537.4 1015.8,527.8 1016.8,519.2 1017.8,511.5 1018.8,504.7 1019.8,498.9 1020.9,493.9 1021.9,489.8 1022.9,486.6 1023.9,484.3 1025.0,482.9 1026.0,482.4 1027.0,482.7 1028.0,483.8 1029.1,485.6 1030.1,488.3 1031.2,491.9 1032.2,496.6 1033.2,502.4 1034.3,509.4 1035.3,517.8 1036.3,527.8 1037.4,539.6 1038.4,553.7 1039.4,570.3 1040.5,590.1 1041.5,613.8 1042.5,642.3 1043.6,676.7 1044.6,716.9 1045.6,757.6 1046.7,777.7 1047.7,759.5 1048.8,721.0 1049.8,681.2 1050.8,646.1 1051.9,616.1 1052.9,590.4 1053.9,568.2 1055.0,548.9 1056.0,532.0 1057.0,517.1 1058.1,504.0 1059.1,492.4 1060.2,482.1 1061.2,473.1 1062.2,465.1 1063.3,458.2 1064.3,452.2 1065.3,447.1 1066.4,442.9 1067.4,439.5 1068.4,436.9 1069.5,435.0 1070.5,433.9 1071.6,433.5 1072.6,433.8 1073.6,434.6 1074.6,436.0 1075.6,438.0 1076.6,440.6 1077.6,443.7 1078.6,447.5 1079.7,451.8 1080.7,456.7 1081.7,462.2 1082.7,468.3 1083.7,475.0 1084.7,482.3 1085.7,490.1 1086.7,498.4 1087.8,507.2 1088.8,516.3 1089.8,525.6 1090.8,534.7 1091.8,543.6 1092.8,551.6 1093.8,558.5 1094.9,563.8 1095.9,567.1 1096.9,568.3 1097.9,567.3 1099.0,564.5 1100.0,559.9 1101.0,553.7 1102.1,546.2 1103.1,537.7 1104.2,528.8 1105.2,519.6 1106.3,510.4 1107.3,501.5 1108.3,492.9 1109.4,484.9 1110.4,477.5 1111.5,470.7 1112.5,464.5 1113.6,459.1 1114.6,454.4 1115.6,450.5 1116.7,447.4 1117.7,445.1 1118.8,443.8 1119.8,443.3 1120.8,443.7 1121.9,445.0 1122.9,447.2 1123.9,450.5 1124.9,454.8 1125.9,460.4 1126.9,467.3 1128.0,475.7 1129.0,485.7 1130.0,497.7 1131.0,511.9 1132.0,528.9 1133.0,549.2 1134.1,573.6 1135.1,603.3 1136.1,639.7 1137.1,683.7 1138.1,731.2 1139.2,756.3 1140.2,738.2 1141.2,698.4 1142.2,656.2 1143.2,618.3 1144.2,585.3 1145.2,556.4 1146.2,531.0 1147.2,508.4 1148.2,488.0 1149.3,469.6 1150.3,452.9 1151.3,437.5 1152.3,423.4 1153.3,410.3 1154.3,398.3 1155.3,387.2 1156.3,376.8 1157.3,367.3 1158.3,358.4 1159.4,350.2 1160.4,342.7 1161.4,335.7 1162.4,329.2 1163.4,323.1 1164.4,317.5 1165.4,312.3 1166.4,307.7 1167.4,303.7 1168.5,300.2 1169.5,297.3 1170.5,295.1 1171.5,293.4 1172.5,292.4 1173.5,292.1 1174.5,292.2 1175.5,292.6 1176.5,293.3 1177.5,294.5 1178.5,296.2 1179.5,298.5 1180.5,301.4 1181.5,305.2 1182.5,309.7 1183.5,315.3 1184.5,321.9 1185.5,329.6 1186.5,338.6 1187.5,349.6 1188.5,362.9 1189.5,379.1 1190.5,398.5 1191.5,421.4 1192.5,447.7 1193.5,475.6 1194.5,499.5 1195.5,509.5 1196.5,501.1 1197.5,479.6 1198.5,452.5 1199.5,425.1 1200.5,399.4 1201.5,376.1 1202.5,355.1 1203.6,336.3 1204.6,319.8 1205.6,304.9 1206.6,291.2 1207.6,278.5 1208.6,266.5 1209.6,254.9 1210.6,243.6 1211.6,232.5 1212.6,221.5 1213.6,211.0 1214.6,201.0 1215.6,191.5 1216.6,182.4 1217.6,173.8 1218.6,165.5 1219.6,157.5 1220.6,149.9 1221.7,142.7 1222.7,135.7 1223.7,129.1 1224.7,122.7 1225.7,116.7 1226.7,110.9 1227.7,105.3 1228.7,100.1 1229.7,95.1 1230.7,90.3 1231.7,85.9 1232.7,81.6 1233.7,77.6 1234.7,73.9 1235.7,70.4 1236.7,67.2 1237.7,64.2 1238.7,61.5 1239.8,59.1 1240.8,56.9 1241.8,55.0 1242.8,53.3 1243.8,52.0 1244.8,50.9 1245.8,50.1 1246.8,49.7 1247.8,49.5 1248.8,49.5 1249.8,49.7 1250.8,49.9 1251.8,50.3 1252.8,50.8 1253.8,51.4 1254.8,52.1 1255.8,53.0 1256.8,54.1 1257.8,55.4 1258.8,56.8 1259.8,58.4 1260.8,60.2 1261.8,62.2 1262.8,64.5 1263.8,67.0 1264.8,69.8 1265.8,72.8 1266.8,76.1 1267.8,79.7 1268.8,83.6 1269.8,87.8 1270.8,92.3 1271.8,97.3 1272.8,102.6 1273.8,108.3 1274.8,114.4 1275.8,121.0 1276.8,128.1 1277.8,135.7 1278.8,143.8 1279.8,152.6 1280.8,161.9 1281.8,172.0 1282.8,182.9 1283.8,194.6 1284.8,207.2 1285.8,220.9 1286.8,236.1 1287.8,254.3 1288.8,275.8 1289.8,300.0 1290.8,326.0 1291.8,352.4 1292.8,378.9 1293.8,406.1 1294.8,432.4 1295.8,454.9 1296.8,469.8 1297.8,474.7 1298.8,466.7 1299.9,447.0 1300.9,423.0 1301.9,399.8 1302.9,379.4 1303.9,362.1 1304.9,348.0 1306.0,336.6 1307.0,327.4 1308.0,319.6 1309.0,313.0 1310.0,307.4 1311.0,302.8 1312.1,299.2 1313.1,296.3 1314.1,294.1 1315.1,292.6 1316.1,291.6 1317.1,291.0 1318.2,290.6 1319.2,290.6 1320.2,290.9 1321.2,291.9 1322.2,293.5 1323.2,295.7 1324.2,298.5 1325.2,301.9 1326.2,305.8 1327.2,310.2 1328.2,315.2 1329.2,320.6 1330.2,326.4 1331.3,332.6 1332.3,339.2 1333.3,346.2 1334.3,353.8 1335.3,361.9 1336.3,370.7 1337.3,380.1 1338.3,390.1 1339.3,400.8 1340.3,412.2 1341.3,424.3 1342.3,437.2 1343.3,451.0 1344.3,465.5 1345.3,480.9 1346.4,497.0 1347.4,513.7 1348.4,530.8 1349.4,547.9 1350.4,564.2 1351.4,578.6 1352.4,590.0 1353.4,597.1 1354.4,599.5 1355.5,598.9 1356.5,597.2 1357.6,594.4 1358.6,590.8 1359.7,586.7 1360.8,582.6 1361.8,578.7 1362.9,575.4 1364.0,572.8 1365.0,571.2 1366.1,570.7 1367.1,570.8 1368.2,571.0 1369.2,571.3 1370.3,571.5 1371.4,571.6 1372.4,570.6 1373.4,567.6 1374.4,562.9 1375.4,556.7 1376.4,549.3 1377.5,541.2 1378.5,532.6 1379.5,523.9 1380.5,515.3 1381.5,506.9 1382.5,498.8 1383.6,491.2 1384.6,484.0 1385.6,477.4 1386.6,471.3 1387.6,465.7 1388.6,460.7 1389.6,456.2 1390.7,452.2 1391.7,448.8 1392.7,445.9 1393.7,443.6 1394.7,441.8 1395.7,440.5 1396.8,439.7 1397.8,439.4 1398.8,439.7 1399.8,440.5 1400.9,441.8 1401.9,443.6 1402.9,446.0 1404.0,448.9 1405.0,452.3 1406.0,456.4 1407.0,461.0 1408.1,466.2 1409.1,472.1 1410.1,478.7 1411.2,485.9 1412.2,493.9 1413.2,502.7 1414.3,512.4 1415.3,522.9 1416.3,534.3 1417.4,546.6 1418.4,560.0 1419.4,574.2 1420.4,589.2 1421.5,604.8 1422.5,620.2 1423.5,634.7 1424.6,646.8 1425.6,655.0 1426.6,657.9 1427.7,656.8 1428.7,653.5 1429.8,648.2 1430.8,641.4 1431.9,633.8 1433.0,625.7 1434.0,617.6 1435.1,610.0 1436.1,603.0 1437.2,597.0 1438.2,591.9 1439.3,587.8 1440.4,584.9 1441.4,583.2 1442.5,582.6 1443.5,583.0 1444.5,584.5 1445.5,586.8 1446.5,590.2 1447.6,594.6 1448.6,600.0 1449.6,606.6 1450.6,614.3 1451.6,623.3 1452.6,633.7 1453.7,645.6 1454.7,659.1 1455.7,674.5 1456.7,692.0 1457.7,711.9 1458.7,734.4 1459.8,759.7 1460.8,787.1 1461.8,814.6 1462.8,837.0 1463.8,845.9 1464.9,836.4 1465.9,812.9 1466.9,784.3 1467.9,756.1 1468.9,730.2 1470.0,707.1 1471.0,686.5 1472.0,668.3 1473.0,652.1 1474.0,637.7 1475.1,624.9 1476.1,613.4 1477.1,603.1 1478.1,594.0 1479.2,586.0 1480.2,578.8 1481.2,572.6 1482.2,567.2 1483.2,562.6 1484.3,558.8 1485.3,555.6 1486.3,553.3 1487.3,551.6 1488.4,550.5 1489.4,550.2 1490.4,550.5 1491.5,551.3 1492.5,552.7 1493.6,554.5 1494.6,556.7 1495.7,559.2 1496.8,561.8 1497.8,564.5 1498.9,567.0 1499.9,569.3 1501.0,571.2 1502.0,572.6 1503.1,573.5 1504.1,573.8 1505.2,573.5 1506.2,572.6 1507.3,571.1 1508.3,569.1 1509.4,566.6 1510.4,563.7 1511.4,560.4 1512.5,557.0 1513.5,553.5 1514.6,550.0 1515.6,546.6 1516.7,543.4 1517.7,540.4 1518.8,537.7 1519.8,535.3 1520.9,533.3 1521.9,531.8 1523.0,530.6 1524.0,530.0 1525.0,529.7 1526.1,530.0 1527.1,530.8 1528.1,532.1 1529.1,533.9 1530.2,536.2 1531.2,539.1 1532.2,542.6 1533.2,546.6 1534.2,551.2 1535.3,556.5 1536.3,562.3 1537.3,568.9 1538.3,576.1 1539.4,584.1 1540.4,592.9 1541.4,602.5 1542.4,612.9 1543.4,624.3 1544.5,636.6 1545.5,649.9 1546.5,664.0 1547.5,678.9 1548.6,694.3 1549.6,709.6 1550.6,723.8 1551.6,735.8 1552.6,743.8 1553.7,746.6 1554.7,743.9 1555.7,736.3 1556.7,725.0 1557.8,711.3 1558.8,696.7 1559.8,682.2 1560.8,668.2 1561.9,655.1 1562.9,643.2 1563.9,632.3 1564.9,622.6 1566.0,614.1 1567.0,606.6 1568.0,600.3 1569.0,594.9 1570.0,590.6 1571.1,587.3 1572.1,584.9 1573.1,583.5 1574.1,583.0 1575.2,583.5 1576.2,584.8 1577.2,587.0 1578.2,590.2 1579.2,594.3 1580.2,599.3 1581.2,605.2 1582.2,612.1 1583.3,620.0 1584.3,628.8 1585.3,638.6 1586.3,649.2 1587.3,660.6 1588.3,672.5 1589.3,684.5 1590.3,696.2 1591.4,706.6 1592.4,715.1 1593.4,720.5 1594.4,722.4 1595.4,719.8 1596.4,712.5 1597.5,701.5 1598.5,688.2 1599.5,673.7 1600.5,659.1 1601.6,644.7 1602.6,631.0 1603.6,618.2 1604.6,606.1 1605.6,595.0 1606.7,584.7 1607.7,575.3 1608.7,566.6 1609.7,558.7 1610.8,551.6 1611.8,545.1 1612.8,539.3 1613.8,534.1 1614.8,529.5 1615.9,525.5 1616.9,522.1 1617.9,519.2 1618.9,516.9 1620.0,515.1 1621.0,513.8 1622.0,513.0 1623.0,512.8 1624.0,512.9 1625.0,513.4 1626.0,514.2 1627.0,515.4 1628.0,516.8 1629.0,518.5 1630.0,520.4 1631.0,522.6 1632.0,525.0 1633.0,527.5 1634.0,530.1 1635.0,532.8 1636.0,535.4 1637.0,538.0 1638.0,540.5 1639.0,542.7 1640.0,544.7 1641.0,546.4 1642.0,547.8 1643.0,548.8 1644.0,549.3 1645.0,549.5 1646.1,549.4 1647.1,549.0 1648.2,548.3 1649.2,547.3 1650.3,546.2 1651.3,544.9 1652.4,543.7 1653.4,542.5 1654.5,541.5 1655.5,540.7 1656.5,540.2 1657.6,540.1 1658.6,540.3 1659.6,540.8 1660.6,541.7 1661.7,542.9 1662.7,544.5 1663.7,546.4 1664.7,548.7 1665.7,551.2 1666.7,554.1 1667.8,557.2 1668.8,560.6 1669.8,564.2 1670.8,567.9 1671.8,571.9 1672.8,575.9 1673.9,579.9 1674.9,583.9 1675.9,587.7 1676.9,591.4 1677.9,594.8 1678.9,597.8 1680.0,600.3 1681.0,602.4 1682.0,603.8 1683.0,604.7 1684.0,605.0 1685.1,604.8 1686.1,604.3 1687.2,603.4 1688.3,602.3 1689.3,600.9 1690.4,599.5 1691.4,598.1 1692.5,596.9 1693.6,595.9 1694.6,595.3 1695.7,595.1 1696.7,595.4 1697.7,596.3 1698.7,597.7 1699.7,599.8 1700.7,602.4 1701.7,605.6 1702.7,609.5 1703.8,613.9 1704.8,619.0 1705.8,624.7 1706.8,631.1 1707.8,638.1 1708.8,645.7 1709.8,654.0 1710.8,662.8 1711.8,672.2 1712.8,681.9 1713.9,692.0 1714.9,702.1 1715.9,711.9 1716.9,720.9 1717.9,728.8 1718.9,734.9 1719.9,738.7 1720.9,740.0 1721.9,737.6 1722.9,730.8 1724.0,720.5 1725.0,707.9 1726.0,694.2 1727.0,680.2 1728.0,666.4 1729.0,653.3 1730.0,641.0 1731.0,629.5 1732.1,619.0 1733.1,609.3 1734.1,600.5 1735.1,592.5 1736.1,585.4 1737.1,579.0 1738.1,573.4 1739.1,568.5 1740.2,564.3 1741.2,560.7 1742.2,557.9 1743.2,555.7 1744.2,554.1 1745.2,553.2 1746.2,552.8 1747.3,553.1 1748.3,553.9 1749.3,555.1 1750.4,556.9 1751.4,559.1 1752.4,561.9 1753.5,565.1 1754.5,568.7 1755.5,572.8 1756.6,577.2 1757.6,582.0 1758.6,587.1 1759.7,592.4 1760.7,597.8 1761.7,603.2 1762.8,608.6 1763.8,613.6 1764.8,618.2 1765.9,622.2 1766.9,625.5 1768.0,627.9 1769.0,629.4 1770.0,629.9 1771.0,629.4 1772.0,628.0 1773.1,625.7 1774.1,622.6 1775.1,618.8 1776.1,614.4 1777.1,609.7 1778.1,604.8 1779.1,599.9 1780.1,595.0 1781.2,590.4 1782.2,586.0 1783.2,582.0 1784.2,578.5 1785.2,575.4 1786.2,572.9 1787.2,570.9 1788.2,569.4 1789.3,568.5 1790.3,568.3 1791.3,568.7 1792.3,569.9 1793.3,572.0 1794.4,575.0 1795.4,578.8 1796.4,583.5 1797.4,589.0 1798.5,595.4 1799.5,602.6 1800.5,610.6 1801.5,619.3 1802.6,628.7 1803.6,638.6 1804.6,648.7 1805.6,658.7 1806.7,668.1 1807.7,676.3 1808.7,682.8 1809.7,686.9 1810.8,688.3 1811.8,686.5 1812.8,681.3 1813.8,673.3 1814.8,663.2 1815.8,651.8 1816.8,639.8 1817.8,627.7 1818.8,615.8 1819.8,604.4 1820.8,593.5 1821.8,583.2 1822.8,573.7 1823.8,564.8 1824.8,556.5 1825.8,548.9 1826.8,542.0 1827.8,535.6 1828.8,529.8 1829.8,524.6 1830.8,520.0 1831.8,515.8 1832.8,512.2 1833.8,509.1 1834.8,506.5 1835.8,504.4 1836.8,502.8 1837.8,501.6 1838.8,500.9 1839.8,500.7 1840.8,500.9 1841.9,501.5 1842.9,502.5 1843.9,503.9 1844.9,505.8 1846.0,508.0 1847.0,510.7 1848.0,513.8 1849.0,517.4 1850.1,521.3 1851.1,525.7 1852.1,530.4 1853.1,535.7 1854.2,541.3 1855.2,547.3 1856.2,553.6 1857.2,560.4 1858.3,567.4 1859.3,574.6 1860.3,582.0 1861.3,589.4 1862.4,596.7 1863.4,603.7 1864.4,610.1 1865.4,615.9 1866.5,620.6 1867.5,624.1 1868.5,626.3 1869.5,627.0 1870.5,626.9 1871.5,626.4 1872.5,625.6 1873.5,624.6 1874.5,623.4 1875.5,622.1 1876.5,620.9 1877.5,619.8 1878.5,619.0 1879.5,618.4 1880.5,618.2 1881.6,618.7 1882.6,620.0 1883.6,622.1 1884.7,625.0 1885.7,628.7 1886.7,633.0 1887.8,637.9 1888.8,643.3 1889.8,648.9 1890.9,654.6 1891.9,660.1 1892.9,665.1 1894.0,669.3 1895.0,672.5 1896.0,674.4 1897.1,675.0 1898.1,674.3 1899.1,672.2 1900.1,668.6 1901.1,663.8 1902.1,658.0 1903.1,651.2 1904.1,643.8 1905.1,636.0 1906.1,627.8 1907.2,619.5 1908.2,611.2 1909.2,602.9 1910.2,594.7 1911.2,586.7 1912.2,579.0 1913.2,571.4 1914.2,564.1 1915.2,557.1 1916.2,550.3 1917.2,543.8 1918.3,537.5 1919.3,531.6 1920.3,525.8 1921.3,520.4 1922.3,515.2 1923.3,510.2 1924.3,505.5 1925.3,501.0 1926.3,496.8 1927.3,492.8 1928.3,489.0 1929.4,485.4 1930.4,482.0 1931.4,478.8 1932.4,475.8 1933.4,473.1 1934.4,470.6 1935.4,468.3 1936.4,466.1 1937.4,464.3 1938.4,462.6 1939.4,461.1 1940.5,459.9 1941.5,458.9 1942.5,458.1 1943.5,457.5 1944.5,457.2 1945.5,457.1 1946.5,457.1 1947.5,457.4 1948.6,457.8 1949.6,458.4 1950.6,459.1 1951.6,460.0 1952.6,461.2 1953.6,462.5 1954.7,464.0 1955.7,465.7 1956.7,467.6 1957.7,469.8 1958.7,472.2 1959.8,474.8 1960.8,477.6 1961.8,480.7 1962.8,484.1 1963.8,487.7 1964.9,491.6 1965.9,495.7 1966.9,500.1 1967.9,504.8 1968.9,509.8 1969.9,515.1 1971.0,520.7 1972.0,526.6 1973.0,532.7 1974.0,539.0 1975.0,545.6 1976.1,552.2 1977.1,559.0 1978.1,565.7 1979.1,572.3 1980.1,578.5 1981.1,584.3 1982.2,589.5 1983.2,593.7 1984.2,596.9 1985.2,598.9 1986.2,599.5 1987.2,599.1 1988.2,597.7 1989.3,595.4 1990.3,592.2 1991.3,588.3 1992.3,583.8 1993.3,578.8 1994.3,573.4 1995.3,567.7 1996.3,561.8 1997.3,555.8 1998.3,549.8 1999.3,543.8 2000.3,538.0 2001.3,532.3 2002.3,526.7 2003.3,521.4 2004.3,516.2 2005.3,511.3 2006.3,506.6 2007.3,502.1 2008.3,497.9 2009.3,494.0 2010.4,490.3 2011.4,486.8 2012.4,483.6 2013.4,480.6 2014.4,477.9 2015.4,475.4 2016.4,473.2 2017.4,471.2 2018.4,469.4 2019.4,467.9 2020.4,466.6 2021.4,465.5 2022.4,464.7 2023.4,464.1 2024.4,463.8 2025.4,463.7 2026.5,463.9 2027.5,464.6 2028.5,465.8 2029.5,467.4 2030.6,469.4 2031.6,471.9 2032.6,474.8 2033.6,478.2 2034.7,482.0 2035.7,486.3 2036.7,491.0 2037.7,496.3 2038.8,502.0 2039.8,508.2 2040.8,515.0 2041.8,522.4 2042.9,530.4 2043.9,539.1 2044.9,548.5 2045.9,558.8 2047.0,570.0 2048.0,582.3 2049.0,595.6 2050.0,609.8 2051.1,625.1 2052.1,641.1 2053.1,657.8 2054.1,675.6 2055.2,694.7 2056.2,715.6 2057.2,739.1 2058.2,766.3 2059.3,798.8 2060.3,838.4 2061.3,885.0 2062.3,941.2 2063.4,1005.3 2064.4,1041.5 2065.4,1032.7 2066.4,1011.8 2067.4,987.6 2068.4,965.4 2069.4,947.1 2070.5,933.0 2071.5,922.1 2072.5,913.5 2073.5,906.4 2074.5,900.2 2075.5,894.4 2076.5,888.5 2077.5,882.1 2078.5,874.7 2079.5,866.1 2080.5,856.1 2081.6,844.4 2082.6,830.0 2083.6,812.6 2084.6,792.2 2085.6,769.1 2086.6,744.0 2087.6,716.8 2088.6,667.4 2089.6,644.7 2090.6,628.1 2091.6,615.5 2092.7,605.4 2093.7,597.0 2094.7,589.5 2095.7,582.5 2096.7,575.5 2097.7,568.2 2098.7,560.9 2099.7,554.2 2100.7,548.0 2101.7,542.3 2102.7,537.2 2103.8,532.6 2104.8,528.5 2105.8,524.8 2106.8,521.7 2107.8,519.0 2108.8,516.8 2109.8,515.0 2110.8,513.8 2111.8,513.0 2112.8,512.8 2113.8,513.1 2114.8,514.2 2115.8,516.0 2116.8,518.5 2117.8,521.7 2118.8,525.7 2119.8,530.4 2120.8,535.9 2121.8,542.1 2122.8,549.0 2123.9,556.7 2124.9,565.0 2125.9,573.9 2126.9,583.4 2127.9,593.2 2128.9,603.1 2129.9,612.8 2130.9,621.8 2131.9,629.7 2132.9,635.8 2133.9,639.6 2134.9,640.9 2135.9,638.8 2136.9,632.6 2137.9,623.4 2138.9,612.1 2139.9,599.9 2141.0,587.3 2142.0,575.0 2143.0,563.2 2144.0,552.1 2145.0,541.8 2146.1,532.3 2147.1,523.6 2148.1,515.6 2149.1,508.3 2150.1,501.7 2151.1,495.8 2152.2,490.4 2153.2,485.6 2154.2,481.3 2155.2,477.4 2156.2,474.1 2157.3,471.1 2158.3,468.6 2159.3,466.5 2160.3,464.8 2161.3,463.4 2162.3,462.4 2163.4,461.6 2164.4,461.2 2165.4,461.1 2166.4,461.3 2167.4,461.9 2168.4,463.0 2169.5,464.5 2170.5,466.4 2171.5,468.7 2172.5,471.4 2173.5,474.5 2174.5,478.1 2175.6,482.0 2176.6,486.4 2177.6,491.1 2178.6,496.3 2179.6,501.9 2180.6,508.0 2181.7,514.5 2182.7,521.5 2183.7,529.1 2184.7,537.3 2185.7,546.1 2186.7,555.6 2187.8,565.9 2188.8,577.0 2189.8,589.0 2190.8,602.1 2191.8,616.4 2192.8,632.0 2193.9,649.3 2194.9,668.5 2195.9,690.1 2196.9,714.7 2197.9,743.2 2198.9,776.7 2200.0,817.0 2201.0,865.8 2202.0,919.9 2203.0,950.0" fill="none" stroke="#D95319" stroke-width="3.05" stroke-linejoin="round" stroke-linecap="butt"/>
<polyline points="291.0,700.0 292.0,694.1 293.0,678.5 294.1,657.5 295.1,635.0 296.1,613.0 297.1,592.4 298.1,573.3 299.2,555.9 300.2,539.9 301.2,525.3 302.2,511.8 303.2,499.5 304.2,488.1 305.3,477.6 306.3,467.9 307.3,458.9 308.3,450.5 309.3,442.8 310.4,435.6 311.4,428.9 312.4,422.7 313.4,417.0 314.4,411.7 315.5,406.8 316.5,402.3 317.5,398.2 318.5,394.4 319.5,391.0 320.5,387.9 321.6,385.1 322.6,382.7 323.6,380.5 324.6,378.7 325.6,377.1 326.7,375.8 327.7,374.8 328.7,374.1 329.7,373.7 330.7,373.6 331.8,373.7 332.8,374.1 333.8,374.7 334.8,375.6 335.9,376.7 336.9,378.1 337.9,379.8 338.9,381.7 339.9,383.8 341.0,386.3 342.0,388.9 343.0,391.9 344.0,395.1 345.1,398.6 346.1,402.3 347.1,406.3 348.1,410.5 349.2,415.0 350.2,419.7 351.2,424.7 352.2,429.9 353.3,435.3 354.3,440.9 355.3,446.6 356.3,452.4 357.3,458.2 358.4,464.1 359.4,469.9 360.4,475.5 361.4,480.8 362.5,485.7 363.5,490.2 364.5,494.0 365.5,497.0 366.6,499.3 367.6,500.6 368.6,501.1 369.6,499.8 370.6,496.2 371.6,490.5 372.6,483.2 373.7,474.8 374.7,465.8 375.7,456.7 376.7,447.5 377.7,438.6 378.7,430.1 379.7,422.0 380.7,414.5 381.7,407.4 382.7,400.9 383.7,394.8 384.8,389.3 385.8,384.2 386.8,379.6 387.8,375.3 388.8,371.3 389.8,367.7 390.8,364.4 391.8,361.5 392.8,358.8 393.8,356.5 394.8,354.4 395.9,352.5 396.9,350.9 397.9,349.6 398.9,348.5 399.9,347.5 400.9,346.8 401.9,346.3 402.9,345.9 403.9,345.7 404.9,345.6 405.9,345.7 406.9,346.1 407.9,346.8 408.9,347.7 409.9,348.9 410.9,350.3 411.9,352.0 413.0,353.9 414.0,356.0 415.0,358.4 416.0,361.0 417.0,363.8 418.0,366.9 419.0,370.2 420.0,373.7 421.0,377.4 422.0,381.3 423.0,385.4 424.0,389.8 425.0,394.3 426.0,399.1 427.0,404.2 428.0,409.5 429.0,415.1 430.0,420.9 431.0,427.1 432.0,433.5 433.0,440.2 434.0,447.2 435.0,454.5 436.0,462.1 437.0,470.1 438.0,478.3 439.0,486.9 440.0,495.7 441.0,504.9 442.0,514.3 443.0,523.9 444.0,533.6 445.0,543.4 446.0,553.0 447.0,562.5 448.0,571.4 449.0,579.7 450.0,586.9 451.0,592.9 452.0,597.3 453.0,600.0 454.0,600.8 455.0,599.6 456.1,595.9 457.1,589.8 458.1,581.7 459.1,572.0 460.1,561.3 461.1,550.0 462.1,538.4 463.2,526.7 464.2,515.2 465.2,504.0 466.2,493.1 467.2,482.7 468.2,472.7 469.2,463.2 470.3,454.2 471.3,445.6 472.3,437.5 473.3,429.8 474.3,422.6 475.3,415.8 476.3,409.4 477.4,403.4 478.4,397.8 479.4,392.5 480.4,387.6 481.4,383.0 482.4,378.7 483.4,374.9 484.5,371.3 485.5,368.2 486.5,365.5 487.5,363.1 488.5,361.2 489.5,359.7 490.5,358.6 491.6,357.9 492.6,357.7 493.6,357.8 494.6,358.2 495.6,358.8 496.6,359.8 497.6,361.1 498.6,362.7 499.6,364.8 500.6,367.2 501.6,370.2 502.6,373.6 503.6,377.5 504.6,382.1 505.7,387.2 506.7,392.9 507.7,399.3 508.7,406.6 509.7,414.7 510.7,423.9 511.7,434.1 512.7,445.4 513.7,457.9 514.7,471.3 515.7,485.6 516.7,500.2 517.7,514.2 518.7,526.2 519.7,534.5 520.8,537.4 521.8,536.1 522.8,532.2 523.8,526.1 524.9,518.2 525.9,509.0 526.9,499.2 527.9,489.1 529.0,479.0 530.0,469.3 531.0,460.0 532.1,451.3 533.1,443.1 534.1,435.7 535.1,428.9 536.2,422.8 537.2,417.4 538.2,412.6 539.2,408.5 540.3,405.0 541.3,402.2 542.3,400.0 543.4,398.4 544.4,397.5 545.4,397.2 546.4,397.5 547.5,398.3 548.5,399.7 549.5,401.7 550.5,404.2 551.5,407.2 552.6,410.8 553.6,414.9 554.6,419.4 555.6,424.3 556.6,429.7 557.7,435.3 558.7,441.1 559.7,447.0 560.7,452.8 561.7,458.4 562.8,463.5 563.8,468.1 564.8,471.8 565.8,474.6 566.8,476.3 567.9,476.9 568.9,476.4 570.0,475.0 571.0,472.6 572.0,469.4 573.1,465.5 574.1,461.1 575.2,456.4 576.2,451.5 577.3,446.6 578.3,441.8 579.3,437.3 580.4,433.1 581.4,429.4 582.5,426.1 583.5,423.4 584.6,421.3 585.6,419.8 586.6,418.8 587.7,418.5 588.7,418.8 589.7,419.8 590.7,421.3 591.8,423.4 592.8,426.0 593.8,429.2 594.8,432.9 595.8,437.0 596.9,441.4 597.9,446.1 598.9,450.9 599.9,455.8 600.9,460.4 602.0,464.7 603.0,468.5 604.0,471.6 605.0,473.9 606.0,475.3 607.1,475.8 608.1,475.1 609.1,473.2 610.1,470.0 611.1,465.7 612.1,460.5 613.2,454.6 614.2,448.2 615.2,441.5 616.2,434.7 617.2,428.0 618.2,421.4 619.3,415.0 620.3,409.0 621.3,403.3 622.3,398.0 623.3,393.1 624.3,388.7 625.4,384.7 626.4,381.2 627.4,378.1 628.4,375.5 629.4,373.4 630.4,371.7 631.5,370.6 632.5,369.8 633.5,369.6 634.5,370.0 635.5,371.0 636.5,372.7 637.5,375.1 638.5,378.1 639.5,381.9 640.5,386.4 641.5,391.6 642.5,397.5 643.5,404.2 644.5,411.6 645.5,419.7 646.6,428.6 647.6,438.0 648.6,448.0 649.6,458.4 650.6,469.0 651.6,479.4 652.6,489.1 653.6,497.6 654.6,504.3 655.6,508.5 656.6,509.9 657.6,508.4 658.6,503.8 659.6,496.7 660.6,487.7 661.6,477.3 662.6,466.3 663.6,455.1 664.7,443.9 665.7,433.2 666.7,422.9 667.7,413.1 668.7,404.0 669.7,395.5 670.7,387.7 671.7,380.4 672.7,373.8 673.7,367.8 674.7,362.3 675.7,357.5 676.7,353.2 677.7,349.4 678.7,346.1 679.8,343.4 680.8,341.2 681.8,339.4 682.8,338.2 683.8,337.5 684.8,337.2 685.8,337.5 686.8,338.3 687.8,339.5 688.8,341.3 689.8,343.6 690.8,346.4 691.8,349.8 692.8,353.8 693.8,358.3 694.8,363.4 695.8,369.2 696.8,375.7 697.8,382.9 698.8,390.9 699.8,399.8 700.8,409.5 701.8,420.3 702.8,432.2 703.8,445.4 704.8,459.9 705.8,476.0 706.8,493.9 707.8,513.7 708.8,535.7 709.8,559.8 710.8,585.1 711.8,609.8 712.8,629.0 713.9,636.5 714.9,630.4 715.9,614.2 716.9,592.7 717.9,569.8 718.9,547.7 719.9,527.3 720.9,508.7 721.9,492.1 722.9,477.3 723.9,464.0 724.9,452.3 725.9,441.9 726.9,432.8 727.9,424.9 728.9,418.0 729.9,412.2 730.9,407.3 731.9,403.4 732.9,400.4 733.9,398.2 734.9,396.9 735.9,396.5 736.9,397.0 738.0,398.4 739.0,400.7 740.1,403.9 741.1,408.1 742.1,413.3 743.2,419.5 744.2,426.7 745.3,435.0 746.3,444.3 747.4,454.6 748.4,466.0 749.5,478.2 750.5,491.2 751.6,504.6 752.6,517.7 753.6,529.8 754.7,539.7 755.7,546.2 756.8,548.4 757.8,545.4 758.8,536.7 759.9,523.9 760.9,508.8 761.9,492.7 762.9,476.6 763.9,461.1 765.0,446.3 766.0,432.4 767.0,419.4 768.0,407.4 769.1,396.1 770.1,385.7 771.1,376.1 772.1,367.2 773.2,358.9 774.2,351.2 775.2,344.1 776.2,337.6 777.2,331.6 778.3,326.1 779.3,321.0 780.3,316.4 781.3,312.2 782.4,308.4 783.4,305.0 784.4,302.0 785.4,299.4 786.4,297.2 787.5,295.3 788.5,293.7 789.5,292.5 790.5,291.7 791.6,291.2 792.6,291.0 793.6,291.2 794.6,291.7 795.6,292.6 796.7,293.8 797.7,295.4 798.7,297.3 799.7,299.6 800.7,302.3 801.8,305.4 802.8,308.9 803.8,312.8 804.8,317.1 805.8,321.9 806.9,327.1 807.9,332.9 808.9,339.1 809.9,346.0 810.9,353.4 812.0,361.5 813.0,370.2 814.0,379.8 815.0,390.2 816.0,401.5 817.0,413.9 818.1,427.4 819.1,442.2 820.1,458.5 821.1,476.5 822.1,496.4 823.2,518.3 824.2,542.0 825.2,566.9 826.2,590.9 827.2,609.5 828.3,616.7 829.3,603.6 830.3,573.8 831.3,541.0 832.3,511.0 833.3,485.2 834.3,463.4 835.3,445.0 836.3,429.5 837.3,416.5 838.4,405.6 839.4,396.5 840.4,388.9 841.4,382.2 842.4,376.3 843.4,371.1 844.4,366.5 845.4,362.5 846.4,359.1 847.4,356.3 848.5,353.9 849.5,351.9 850.5,350.3 851.5,349.0 852.5,348.1 853.5,347.4 854.5,347.0 855.5,346.7 856.5,346.5 857.5,346.5 858.6,346.7 859.6,347.2 860.6,348.1 861.6,349.3 862.6,350.9 863.7,352.7 864.7,354.9 865.7,357.4 866.7,360.2 867.7,363.3 868.7,366.7 869.8,370.4 870.8,374.3 871.8,378.4 872.8,382.8 873.8,387.3 874.9,392.1 875.9,397.1 876.9,402.3 877.9,407.9 878.9,413.8 879.9,420.0 881.0,426.5 882.0,433.4 883.0,440.7 884.0,448.3 885.0,456.4 886.1,464.8 887.1,473.7 888.1,483.1 889.1,493.0 890.1,503.4 891.1,514.4 892.2,525.9 893.2,538.1 894.2,551.0 895.2,564.6 896.2,578.9 897.3,593.9 898.3,609.6 899.3,625.9 900.3,642.5 901.3,659.1 902.3,675.0 903.4,689.2 904.4,700.6 905.4,707.8 906.4,710.3 907.4,692.7 908.4,655.1 909.4,616.0 910.4,581.2 911.4,551.2 912.4,525.3 913.4,502.7 914.5,482.9 915.5,465.2 916.5,449.4 917.5,435.2 918.5,422.3 919.5,410.6 920.5,400.0 921.5,390.2 922.5,381.3 923.5,373.1 924.5,365.7 925.5,358.8 926.5,352.6 927.5,346.9 928.5,341.7 929.5,337.1 930.5,332.9 931.5,329.1 932.5,325.8 933.5,322.9 934.5,320.5 935.5,318.4 936.5,316.7 937.5,315.4 938.5,314.4 939.5,313.9 940.5,313.7 941.6,313.9 942.6,314.4 943.6,315.3 944.6,316.6 945.6,318.3 946.6,320.3 947.6,322.7 948.6,325.5 949.6,328.7 950.6,332.4 951.6,336.5 952.6,341.0 953.6,346.0 954.6,351.5 955.6,357.5 956.6,364.0 957.6,371.2 958.6,378.9 959.6,387.4 960.6,396.5 961.6,406.5 962.6,417.2 963.6,429.0 964.6,441.7 965.6,455.5 966.6,470.6 967.7,486.9 968.7,504.4 969.7,523.0 970.7,542.4 971.7,561.4 972.7,578.3 973.7,590.3 974.7,594.7 975.7,593.6 976.7,590.5 977.7,585.6 978.7,579.4 979.7,572.5 980.7,565.5 981.7,558.9 982.8,553.0 983.8,548.2 984.8,544.7 985.8,542.6 986.8,541.8 987.8,542.5 988.8,544.4 989.8,547.6 990.8,552.2 991.8,558.1 992.8,565.5 993.8,574.5 994.8,585.2 995.8,597.8 996.8,612.4 997.8,629.3 998.8,648.8 999.8,671.1 1000.8,696.3 1001.8,724.1 1002.8,752.4 1003.8,775.6 1004.8,785.0 1005.8,773.9 1006.9,747.3 1007.9,716.2 1008.9,686.7 1009.9,660.5 1010.9,637.8 1011.9,618.4 1012.9,602.0 1013.9,588.0 1014.9,576.4 1015.9,566.9 1016.9,559.3 1017.9,553.5 1018.9,549.5 1019.9,547.0 1020.9,546.2 1021.9,547.1 1023.0,549.6 1024.0,553.9 1025.0,560.0 1026.1,568.1 1027.1,578.3 1028.1,590.8 1029.2,606.0 1030.2,624.4 1031.2,646.7 1032.3,674.1 1033.3,708.2 1034.3,752.5 1035.4,813.4 1036.4,904.8 1037.4,1001.4 1038.4,859.8 1039.5,759.2 1040.5,696.0 1041.5,650.4 1042.5,615.0 1043.5,586.2 1044.5,562.0 1045.5,541.4 1046.5,523.5 1047.6,507.8 1048.6,494.1 1049.6,481.9 1050.6,471.1 1051.6,461.6 1052.6,453.2 1053.6,445.8 1054.6,439.4 1055.7,433.8 1056.7,429.1 1057.7,425.1 1058.7,421.9 1059.7,419.5 1060.7,417.7 1061.7,416.7 1062.8,416.3 1063.8,416.7 1064.8,417.6 1065.8,419.2 1066.8,421.4 1067.9,424.0 1068.9,427.0 1069.9,430.2 1070.9,433.5 1072.0,436.6 1073.0,439.4 1074.0,441.8 1075.0,443.5 1076.0,444.6 1077.1,445.0 1078.1,444.4 1079.1,442.7 1080.1,439.9 1081.2,436.1 1082.2,431.5 1083.2,426.3 1084.2,420.7 1085.3,414.8 1086.3,408.8 1087.3,402.8 1088.3,397.0 1089.4,391.5 1090.4,386.3 1091.4,381.6 1092.4,377.2 1093.5,373.3 1094.5,369.9 1095.5,367.0 1096.5,364.6 1097.5,362.8 1098.6,361.4 1099.6,360.6 1100.6,360.4 1101.6,360.8 1102.7,362.0 1103.7,364.1 1104.7,367.0 1105.7,370.7 1106.8,375.2 1107.8,380.6 1108.8,386.8 1109.8,393.8 1110.9,401.5 1111.9,409.9 1112.9,418.9 1113.9,428.3 1115.0,437.9 1116.0,447.3 1117.0,456.1 1118.0,463.7 1119.1,469.7 1120.1,473.4 1121.1,474.7 1122.1,473.2 1123.2,468.8 1124.2,461.9 1125.2,453.2 1126.2,443.2 1127.3,432.7 1128.3,422.0 1129.3,411.7 1130.3,401.8 1131.4,392.6 1132.4,384.1 1133.4,376.4 1134.5,369.5 1135.5,363.4 1136.5,358.2 1137.5,353.8 1138.6,350.2 1139.6,347.4 1140.6,345.4 1141.6,344.2 1142.7,343.9 1143.7,344.3 1144.7,345.7 1145.7,348.1 1146.7,351.4 1147.7,355.6 1148.7,360.8 1149.7,366.9 1150.7,374.0 1151.7,382.0 1152.8,390.9 1153.8,400.6 1154.8,410.8 1155.8,421.5 1156.8,432.2 1157.8,442.4 1158.8,451.5 1159.8,458.6 1160.8,463.2 1161.8,464.8 1162.9,463.3 1163.9,458.7 1165.0,451.3 1166.0,441.5 1167.1,430.2 1168.1,418.0 1169.2,405.5 1170.2,393.2 1171.2,381.4 1172.3,370.2 1173.3,360.0 1174.4,350.6 1175.4,342.2 1176.5,334.6 1177.5,328.1 1178.6,322.6 1179.6,318.3 1180.7,315.2 1181.7,313.2 1182.7,312.6 1183.8,313.1 1184.8,314.7 1185.8,317.5 1186.9,321.6 1187.9,327.4 1188.9,334.9 1190.0,344.4 1191.0,356.2 1192.0,370.8 1193.1,389.0 1194.1,411.7 1195.1,440.0 1196.2,475.6 1197.2,519.8 1198.2,568.9 1199.3,595.8 1200.3,565.0 1201.3,507.4 1202.3,454.2 1203.3,409.5 1204.3,371.7 1205.3,339.2 1206.3,309.7 1207.3,283.3 1208.3,260.0 1209.3,239.7 1210.4,222.1 1211.4,206.4 1212.4,192.1 1213.4,179.0 1214.4,166.9 1215.4,155.8 1216.4,145.5 1217.4,136.0 1218.4,127.2 1219.4,119.1 1220.4,111.6 1221.4,104.7 1222.5,98.3 1223.5,92.3 1224.5,86.9 1225.5,81.9 1226.5,77.4 1227.5,73.2 1228.5,69.4 1229.5,66.1 1230.5,63.0 1231.5,60.3 1232.5,57.9 1233.5,55.9 1234.6,54.1 1235.6,52.7 1236.6,51.5 1237.6,50.6 1238.6,50.0 1239.6,49.6 1240.6,49.5 1241.6,49.6 1242.6,50.0 1243.6,50.6 1244.6,51.5 1245.7,52.6 1246.7,54.0 1247.7,55.7 1248.7,57.7 1249.7,60.0 1250.7,62.6 1251.7,65.6 1252.7,68.8 1253.8,72.5 1254.8,76.4 1255.8,80.8 1256.8,85.6 1257.8,90.7 1258.8,96.4 1259.8,102.4 1260.8,109.0 1261.9,116.1 1262.9,123.8 1263.9,132.0 1264.9,140.9 1265.9,150.5 1266.9,160.9 1267.9,172.1 1268.9,184.2 1269.9,197.4 1271.0,211.8 1272.0,227.6 1273.0,244.7 1274.0,263.5 1275.0,285.0 1276.0,310.5 1277.0,342.3 1278.0,384.5 1279.1,445.3 1280.1,541.6 1281.1,658.5 1282.1,607.0 1283.1,536.5 1284.1,482.9 1285.1,442.3 1286.1,410.6 1287.1,385.2 1288.1,364.3 1289.1,347.0 1290.1,332.5 1291.1,320.4 1292.1,310.2 1293.1,301.5 1294.1,294.1 1295.1,287.9 1296.1,282.7 1297.1,278.5 1298.1,275.1 1299.1,272.5 1300.1,270.6 1301.1,269.3 1302.1,268.6 1303.1,268.3 1304.1,268.7 1305.1,269.7 1306.1,271.4 1307.1,273.8 1308.1,276.7 1309.2,280.3 1310.2,284.5 1311.2,289.3 1312.2,294.6 1313.2,300.4 1314.2,306.7 1315.2,313.5 1316.2,320.9 1317.2,328.7 1318.2,337.2 1319.3,346.1 1320.3,355.5 1321.3,365.4 1322.3,375.6 1323.3,386.1 1324.3,396.7 1325.3,407.2 1326.3,417.3 1327.3,426.6 1328.3,434.9 1329.4,441.8 1330.4,446.9 1331.4,449.9 1332.4,450.9 1333.4,450.5 1334.4,449.3 1335.5,447.4 1336.5,444.8 1337.5,441.7 1338.6,438.2 1339.6,434.4 1340.6,430.6 1341.7,426.9 1342.7,423.4 1343.7,420.3 1344.8,417.6 1345.8,415.4 1346.8,413.9 1347.9,412.9 1348.9,412.6 1349.9,412.8 1350.9,413.4 1351.9,414.4 1353.0,415.9 1354.0,417.8 1355.0,420.1 1356.0,422.8 1357.0,426.0 1358.0,429.7 1359.1,433.8 1360.1,438.4 1361.1,443.5 1362.1,449.1 1363.1,455.3 1364.1,462.0 1365.1,469.3 1366.2,477.1 1367.2,485.6 1368.2,494.8 1369.2,504.6 1370.2,515.0 1371.2,526.0 1372.3,537.6 1373.3,549.6 1374.3,561.9 1375.3,574.0 1376.3,585.4 1377.3,595.6 1378.4,603.7 1379.4,609.0 1380.4,610.8 1381.4,607.0 1382.4,596.5 1383.4,581.2 1384.4,563.3 1385.4,544.6 1386.4,526.0 1387.4,508.1 1388.4,491.2 1389.4,475.4 1390.4,460.5 1391.4,446.5 1392.4,433.5 1393.5,421.2 1394.5,409.8 1395.5,399.0 1396.5,388.8 1397.5,379.2 1398.5,370.2 1399.5,361.7 1400.5,353.7 1401.5,346.1 1402.5,338.9 1403.5,332.1 1404.5,325.7 1405.5,319.7 1406.5,314.0 1407.5,308.6 1408.5,303.6 1409.5,298.8 1410.5,294.3 1411.5,290.0 1412.5,286.0 1413.6,282.3 1414.6,278.8 1415.6,275.6 1416.6,272.7 1417.6,270.0 1418.6,267.6 1419.6,265.5 1420.6,263.6 1421.6,262.1 1422.6,260.8 1423.6,259.7 1424.6,259.0 1425.6,258.6 1426.6,258.4 1427.6,258.5 1428.7,258.8 1429.7,259.2 1430.7,259.8 1431.7,260.7 1432.7,261.7 1433.8,263.0 1434.8,264.6 1435.8,266.4 1436.8,268.5 1437.8,270.8 1438.9,273.5 1439.9,276.4 1440.9,279.7 1441.9,283.4 1442.9,287.3 1443.9,291.7 1445.0,296.4 1446.0,301.5 1447.0,307.1 1448.0,313.1 1449.0,319.7 1450.1,326.7 1451.1,334.2 1452.1,342.1 1453.1,350.4 1454.1,359.0 1455.2,367.8 1456.2,376.6 1457.2,385.2 1458.2,393.0 1459.2,399.9 1460.3,405.2 1461.3,408.6 1462.3,409.7 1463.3,409.5 1464.4,408.7 1465.4,407.4 1466.4,405.7 1467.5,403.6 1468.5,401.1 1469.5,398.5 1470.5,395.8 1471.6,393.2 1472.6,390.7 1473.6,388.4 1474.7,386.4 1475.7,384.8 1476.7,383.6 1477.8,382.9 1478.8,382.6 1479.8,382.7 1480.8,383.0 1481.8,383.5 1482.8,384.2 1483.8,385.0 1484.8,386.1 1485.8,387.3 1486.8,388.8 1487.9,390.4 1488.9,392.3 1489.9,394.4 1490.9,396.6 1491.9,399.1 1492.9,401.8 1493.9,404.8 1494.9,407.9 1495.9,411.3 1496.9,414.9 1497.9,418.8 1498.9,422.9 1499.9,427.3 1500.9,432.0 1501.9,436.9 1502.9,442.1 1503.9,447.7 1504.9,453.5 1505.9,459.6 1507.0,466.1 1508.0,472.9 1509.0,480.1 1510.0,487.6 1511.0,495.4 1512.0,503.6 1513.0,512.1 1514.0,520.9 1515.0,529.9 1516.0,539.1 1517.0,548.4 1518.0,557.7 1519.0,566.6 1520.0,575.0 1521.0,582.6 1522.0,589.0 1523.0,593.9 1524.0,597.0 1525.0,598.0 1526.0,597.0 1527.0,594.2 1528.0,589.4 1529.0,582.8 1530.0,574.9 1531.0,565.9 1532.0,556.4 1533.1,546.5 1534.1,536.6 1535.1,527.0 1536.1,517.8 1537.1,509.1 1538.1,501.1 1539.1,493.7 1540.1,486.9 1541.1,480.9 1542.1,475.7 1543.1,471.3 1544.1,467.8 1545.1,465.3 1546.1,463.8 1547.1,463.2 1548.1,463.6 1549.1,464.9 1550.1,467.1 1551.1,470.3 1552.1,474.8 1553.1,480.5 1554.1,487.8 1555.1,496.6 1556.2,507.3 1557.2,520.0 1558.2,535.2 1559.2,553.0 1560.2,573.3 1561.2,595.5 1562.2,617.6 1563.2,635.1 1564.2,642.0 1565.2,635.0 1566.3,616.6 1567.3,592.3 1568.3,566.7 1569.3,542.0 1570.3,519.1 1571.3,498.2 1572.3,479.0 1573.3,461.6 1574.3,445.7 1575.3,431.2 1576.3,417.9 1577.3,405.7 1578.4,394.5 1579.4,384.2 1580.4,374.7 1581.4,366.0 1582.4,358.0 1583.4,350.8 1584.4,344.1 1585.4,338.0 1586.4,332.4 1587.4,327.5 1588.4,323.1 1589.5,319.3 1590.5,316.1 1591.5,313.4 1592.5,311.3 1593.5,309.8 1594.5,308.9 1595.5,308.6 1596.5,308.8 1597.5,309.5 1598.5,310.7 1599.6,312.4 1600.6,314.7 1601.6,317.5 1602.6,321.1 1603.6,325.3 1604.6,330.3 1605.6,336.2 1606.6,343.0 1607.7,350.8 1608.7,359.8 1609.7,370.1 1610.7,382.0 1611.7,395.8 1612.7,411.7 1613.7,430.3 1614.7,452.3 1615.8,478.6 1616.8,510.8 1617.8,551.1 1618.8,603.0 1619.8,667.5 1620.8,710.3 1621.9,686.8 1622.9,640.9 1623.9,596.8 1625.0,559.5 1626.0,528.2 1627.0,501.7 1628.1,479.1 1629.1,459.5 1630.2,442.4 1631.2,427.3 1632.2,414.1 1633.3,402.4 1634.3,392.0 1635.3,382.9 1636.4,375.0 1637.4,368.0 1638.4,362.0 1639.5,356.9 1640.5,352.6 1641.6,349.2 1642.6,346.6 1643.6,344.7 1644.7,343.6 1645.7,343.2 1646.7,343.5 1647.7,344.5 1648.7,346.2 1649.8,348.5 1650.8,351.5 1651.8,355.3 1652.8,359.8 1653.8,365.0 1654.8,371.1 1655.8,377.9 1656.8,385.7 1657.9,394.5 1658.9,404.2 1659.9,415.1 1660.9,427.2 1661.9,440.6 1662.9,455.5 1663.9,471.8 1664.9,489.8 1666.0,509.2 1667.0,529.7 1668.0,550.5 1669.0,569.3 1670.0,583.0 1671.0,588.1 1672.0,584.7 1673.1,575.3 1674.1,561.5 1675.1,545.4 1676.1,528.6 1677.2,512.2 1678.2,496.5 1679.2,482.0 1680.2,468.7 1681.3,456.5 1682.3,445.5 1683.3,435.6 1684.3,426.8 1685.4,419.0 1686.4,412.1 1687.4,406.1 1688.4,401.0 1689.5,396.8 1690.5,393.3 1691.5,390.7 1692.5,388.8 1693.6,387.6 1694.6,387.3 1695.6,387.5 1696.7,388.2 1697.7,389.3 1698.7,391.0 1699.8,393.0 1700.8,395.6 1701.9,398.5 1702.9,402.0 1703.9,405.9 1705.0,410.2 1706.0,414.9 1707.0,420.1 1708.1,425.6 1709.1,431.4 1710.2,437.6 1711.2,443.9 1712.2,450.3 1713.3,456.8 1714.3,463.1 1715.3,469.2 1716.4,474.7 1717.4,479.6 1718.5,483.6 1719.5,486.6 1720.5,488.4 1721.6,489.0 1722.6,488.8 1723.6,488.0 1724.6,486.9 1725.7,485.3 1726.7,483.3 1727.7,481.0 1728.7,478.6 1729.7,476.1 1730.7,473.6 1731.8,471.2 1732.8,469.1 1733.8,467.2 1734.8,465.7 1735.8,464.6 1736.9,463.9 1737.9,463.7 1738.9,463.8 1739.9,464.1 1740.9,464.7 1741.9,465.4 1742.9,466.4 1743.9,467.6 1745.0,469.1 1746.0,470.7 1747.0,472.5 1748.0,474.5 1749.0,476.8 1750.0,479.2 1751.0,481.9 1752.0,484.8 1753.0,487.8 1754.1,491.1 1755.1,494.6 1756.1,498.3 1757.1,502.1 1758.1,506.2 1759.1,510.5 1760.1,514.9 1761.1,519.6 1762.2,524.4 1763.2,529.5 1764.2,534.8 1765.2,540.3 1766.2,546.0 1767.2,551.7 1768.2,557.3 1769.2,562.9 1770.2,568.7 1771.3,574.7 1772.3,581.2 1773.3,588.1 1774.3,595.7 1775.3,603.9 1776.3,612.7 1777.3,621.5 1778.3,629.2 1779.4,634.6 1780.4,636.5 1781.4,633.5 1782.4,625.5 1783.4,615.0 1784.4,604.1 1785.4,594.2 1786.4,585.6 1787.4,577.9 1788.4,570.6 1789.4,563.1 1790.4,554.8 1791.4,545.7 1792.4,536.4 1793.5,527.3 1794.5,518.6 1795.5,510.7 1796.5,503.7 1797.5,497.6 1798.5,492.0 1799.5,486.8 1800.5,482.1 1801.5,477.8 1802.5,473.9 1803.5,470.4 1804.5,467.3 1805.5,464.5 1806.5,462.1 1807.5,459.9 1808.5,458.1 1809.6,456.6 1810.6,455.3 1811.6,454.3 1812.6,453.6 1813.6,453.1 1814.6,452.8 1815.6,452.7 1816.6,452.8 1817.7,453.3 1818.7,454.1 1819.7,455.3 1820.8,456.8 1821.8,458.5 1822.8,460.6 1823.9,463.0 1824.9,465.7 1826.0,468.6 1827.0,471.7 1828.0,475.1 1829.1,478.7 1830.1,482.4 1831.1,486.2 1832.2,490.1 1833.2,494.0 1834.2,497.8 1835.3,501.4 1836.3,504.9 1837.3,508.0 1838.4,510.9 1839.4,513.2 1840.5,515.1 1841.5,516.5 1842.5,517.3 1843.6,517.6 1844.6,517.2 1845.6,516.0 1846.6,514.0 1847.6,511.2 1848.6,507.8 1849.7,503.8 1850.7,499.4 1851.7,494.7 1852.7,489.7 1853.7,484.6 1854.7,479.5 1855.7,474.4 1856.8,469.5 1857.8,464.7 1858.8,460.2 1859.8,455.9 1860.8,451.8 1861.8,448.1 1862.9,444.7 1863.9,441.7 1864.9,439.0 1865.9,436.6 1866.9,434.6 1867.9,432.9 1869.0,431.7 1870.0,430.7 1871.0,430.2 1872.0,430.0 1873.0,430.2 1874.0,430.7 1875.0,431.6 1876.0,432.8 1877.0,434.3 1878.0,436.0 1879.1,438.1 1880.1,440.3 1881.1,442.8 1882.1,445.5 1883.1,448.3 1884.1,451.3 1885.1,454.5 1886.1,457.7 1887.1,461.1 1888.1,464.5 1889.1,467.9 1890.1,471.4 1891.2,474.9 1892.2,478.3 1893.2,481.7 1894.2,485.0 1895.2,488.2 1896.2,491.3 1897.2,494.1 1898.2,496.8 1899.2,499.2 1900.2,501.4 1901.2,503.4 1902.2,505.3 1903.2,507.0 1904.3,508.7 1905.3,510.3 1906.3,511.9 1907.3,513.7 1908.3,515.6 1909.3,517.7 1910.3,520.1 1911.3,522.9 1912.3,526.1 1913.3,529.7 1914.3,533.7 1915.3,538.2 1916.4,543.2 1917.4,548.6 1918.4,554.7 1919.4,561.3 1920.4,568.7 1921.4,576.9 1922.4,586.2 1923.4,596.7 1924.4,608.7 1925.4,622.5 1926.4,638.3 1927.4,656.7 1928.4,678.4 1929.5,704.5 1930.5,736.9 1931.5,778.5 1932.5,835.2 1933.5,917.4 1934.5,994.1 1935.5,964.0 1936.5,910.2 1937.5,861.7 1938.5,821.7 1939.5,788.4 1940.5,760.1 1941.5,735.5 1942.6,713.9 1943.6,694.6 1944.6,677.1 1945.6,661.2 1946.6,646.5 1947.6,633.0 1948.6,620.4 1949.6,608.6 1950.6,597.6 1951.6,587.2 1952.6,577.4 1953.6,568.2 1954.6,559.4 1955.7,551.0 1956.7,543.0 1957.7,535.4 1958.7,528.2 1959.7,521.2 1960.7,514.6 1961.7,508.2 1962.7,502.2 1963.7,496.3 1964.7,490.7 1965.7,485.3 1966.7,480.2 1967.7,475.2 1968.8,470.4 1969.8,465.8 1970.8,461.5 1971.8,457.2 1972.8,453.2 1973.8,449.3 1974.8,445.6 1975.8,442.0 1976.8,438.6 1977.8,435.2 1978.8,432.1 1979.8,429.0 1980.8,426.1 1981.8,423.2 1982.9,420.6 1983.9,418.0 1984.9,415.6 1985.9,413.3 1986.9,411.1 1987.9,409.1 1988.9,407.2 1989.9,405.4 1990.9,403.8 1991.9,402.3 1992.9,400.9 1993.9,399.7 1994.9,398.6 1996.0,397.7 1997.0,396.8 1998.0,396.2 1999.0,395.7 2000.0,395.3 2001.0,395.1 2002.0,395.0 2003.0,395.0 2004.0,395.2 2005.0,395.4 2006.1,395.7 2007.1,396.1 2008.1,396.7 2009.1,397.3 2010.1,398.1 2011.1,399.0 2012.1,400.0 2013.1,401.2 2014.2,402.5 2015.2,404.0 2016.2,405.6 2017.2,407.4 2018.2,409.4 2019.2,411.6 2020.2,413.9 2021.2,416.5 2022.3,419.3 2023.3,422.3 2024.3,425.6 2025.3,429.1 2026.3,432.8 2027.3,436.9 2028.3,441.2 2029.3,445.9 2030.4,450.9 2031.4,456.4 2032.4,462.3 2033.4,468.7 2034.4,475.6 2035.4,483.1 2036.4,491.3 2037.5,500.1 2038.5,509.7 2039.5,520.2 2040.5,531.5 2041.5,544.0 2042.5,557.6 2043.5,572.6 2044.5,588.9 2045.6,606.8 2046.6,626.2 2047.6,646.8 2048.6,667.7 2049.6,687.1 2050.6,701.5 2051.6,707.0 2052.6,703.1 2053.7,692.2 2054.7,676.6 2055.7,658.8 2056.7,640.6 2057.7,622.8 2058.8,606.1 2059.8,590.6 2060.8,576.3 2061.8,563.2 2062.8,551.2 2063.9,540.3 2064.9,530.5 2065.9,521.5 2066.9,513.4 2067.9,506.2 2069.0,499.7 2070.0,493.9 2071.0,488.8 2072.0,484.4 2073.0,480.6 2074.1,477.4 2075.1,474.8 2076.1,472.8 2077.1,471.4 2078.1,470.6 2079.2,470.3 2080.2,470.5 2081.2,471.3 2082.2,472.7 2083.3,474.5 2084.3,476.9 2085.3,479.8 2086.3,483.3 2087.4,487.4 2088.4,492.0 2089.4,497.1 2090.4,502.8 2091.4,509.1 2092.5,516.0 2093.5,523.4 2094.5,531.3 2095.5,539.7 2096.6,548.5 2097.6,557.6 2098.6,566.8 2099.6,576.0 2100.7,584.7 2101.7,592.7 2102.7,599.5 2103.7,604.6 2104.8,607.9 2105.8,609.0 2106.8,608.1 2107.8,605.7 2108.8,601.8 2109.8,596.8 2110.8,590.8 2111.8,584.3 2112.8,577.3 2113.8,570.2 2114.8,563.0 2115.8,556.0 2116.8,549.0 2117.8,542.4 2118.8,536.0 2119.8,529.9 2120.9,524.3 2121.9,519.1 2122.9,514.2 2123.9,509.6 2124.9,505.2 2125.9,500.9 2126.9,496.7 2127.9,492.5 2128.9,488.3 2129.9,484.1 2130.9,479.8 2131.9,475.4 2132.9,470.8 2133.9,466.3 2134.9,461.8 2135.9,457.3 2136.9,453.0 2137.9,448.8 2138.9,444.6 2139.9,440.6 2140.9,436.7 2141.9,432.9 2142.9,429.2 2143.9,425.7 2144.9,422.3 2145.9,419.1 2147.0,416.0 2148.0,413.2 2149.0,410.5 2150.0,407.9 2151.0,405.6 2152.0,403.5 2153.0,401.6 2154.0,399.9 2155.0,398.5 2156.0,397.2 2157.0,396.3 2158.0,395.6 2159.0,395.1 2160.0,395.0 2161.0,395.2 2162.0,395.8 2163.0,396.8 2164.0,398.2 2165.0,400.1 2166.0,402.3 2167.0,404.9 2168.0,408.0 2169.1,411.4 2170.1,415.3 2171.1,419.5 2172.1,424.1 2173.1,429.0 2174.1,434.3 2175.1,440.0 2176.1,445.8 2177.1,451.9 2178.1,458.2 2179.1,464.5 2180.1,470.7 2181.1,476.8 2182.1,482.5 2183.1,487.8 2184.1,492.4 2185.1,496.1 2186.2,498.9 2187.2,500.6 2188.2,501.1 2189.2,500.4 2190.2,498.3 2191.3,494.8 2192.3,490.2 2193.3,484.5 2194.3,478.2 2195.4,471.3 2196.4,464.2 2197.4,457.0 2198.5,449.8 2199.5,442.8 2200.5,436.0 2201.6,429.6 2202.6,423.5 2203.6,417.9 2204.7,412.6 2205.7,407.9 2206.7,403.5 2207.8,399.6 2208.8,396.2 2209.8,393.2 2210.8,390.7 2211.9,388.6 2212.9,387.0 2213.9,385.9 2215.0,385.2 2216.0,385.0" fill="none" stroke="#EDB120" stroke-width="3.05" stroke-linejoin="round" stroke-linecap="butt"/>
<polyline points="300.0,763.2 300.2,764.4 300.4,765.6 300.6,766.9 300.8,768.2 301.0,769.6 301.2,771.0 301.4,772.5 301.6,774.0 301.8,775.6 302.0,777.3 302.2,779.0 302.4,780.8 302.6,782.6 302.8,784.5 303.0,786.4 303.2,788.5 303.4,790.6 303.6,792.8 303.8,795.0 304.0,797.3 304.2,799.7 304.4,802.2 304.6,804.7 304.8,807.4 305.0,810.1 305.2,812.9 305.4,815.9 305.6,818.9 305.8,822.0 306.0,825.2 306.2,828.5 306.4,832.0 306.6,835.5 306.8,839.2 307.0,843.0 307.2,847.0 307.4,851.1 307.6,855.3 307.8,859.8 308.0,864.3 308.2,869.1 308.4,874.1 308.6,879.2 308.8,884.6 309.0,890.2 309.2,896.1 309.4,902.2 309.6,908.6 309.8,915.4 310.0,922.5 310.2,929.9 310.4,937.8 310.6,946.1 310.8,954.9 311.0,964.3 311.2,974.4 311.4,985.1 311.6,996.7 311.8,1009.3 312.0,1023.0 312.2,1038.0 312.4,1054.6 312.6,1073.2 312.8,1094.4 313.0,1112.4 313.2,1112.4 313.4,1112.4 313.6,1112.4 313.8,1112.4 314.0,1112.4 314.2,1112.4 314.2,1112.4 314.4,1112.4 314.6,1112.4 314.8,1112.4 315.0,1112.4 315.2,1112.4 315.4,1112.4 315.6,1089.8 315.8,1068.5 316.0,1049.9 316.2,1033.2 316.4,1018.1 316.6,1004.4 316.8,991.7 317.0,980.1 317.2,969.3 317.4,959.2 317.6,949.7 317.8,940.8 318.0,932.4 318.2,924.5 318.4,917.0 318.6,909.8 318.8,903.1 319.0,896.6 319.2,890.4 319.4,884.5 319.6,878.8 319.8,873.4 320.0,868.2 320.2,863.2 320.4,858.3 320.6,853.7 320.8,849.3 321.0,845.0 321.2,840.8 321.4,836.8 321.6,832.9 321.8,829.2 322.0,825.6 322.2,822.1 322.4,818.7 322.6,815.5 322.8,812.3 323.0,809.3 323.2,806.3 323.4,803.5 323.6,800.7 323.8,798.0 324.0,795.5 324.2,792.9 324.4,790.5 324.6,788.2 324.8,785.9 325.0,783.7 325.2,781.6 325.4,779.5 325.6,777.5 325.8,775.6 326.0,773.7 326.2,771.9 326.4,770.2 326.6,768.5 326.8,766.9 327.0,765.4 327.2,763.9 327.4,762.4 327.6,761.0 327.8,759.7 328.0,758.4 328.2,757.2 328.4,756.0 328.6,754.9 328.8,753.8 329.0,752.8 329.2,751.8 329.4,750.9 329.6,750.0 329.8,749.2 330.0,748.4 330.2,747.7 330.4,747.0 330.6,746.4 330.8,745.8 331.0,745.2 331.2,744.7 331.4,744.2 331.6,743.8 331.8,743.4 332.0,743.1 332.2,742.8 332.4,742.6 332.6,742.4 332.8,742.2 333.0,742.1 333.2,742.0 333.4,742.0 333.6,742.0 333.8,742.1 334.0,742.2 334.2,742.3 334.4,742.5 334.6,742.8 334.8,743.1 335.0,743.4 335.2,743.7 335.4,744.2 335.6,744.6 335.8,745.1 336.0,745.7 336.2,746.2 336.4,746.9 336.6,747.6 336.8,748.3 337.0,749.1 337.2,749.9 337.4,750.8 337.6,751.7 337.8,752.7 338.0,753.7 338.2,754.8 338.4,755.9 338.6,757.1 338.8,758.3 339.0,759.6 339.2,760.9 339.4,762.3 339.6,763.8 339.8,765.3 340.0,766.9 340.2,768.5 340.4,770.2 340.6,771.9 340.8,773.7 341.0,775.6 341.2,777.6 341.4,779.6 341.6,781.7 341.8,783.8 342.0,786.1 342.2,788.4 342.4,790.8 342.6,793.3 342.8,795.8 343.0,798.5 343.2,801.2 343.4,804.0 343.6,807.0 343.8,810.0 344.0,813.1 344.2,816.4 344.4,819.7 344.6,823.2 344.8,826.8 345.0,830.5 345.2,834.3 345.4,838.3 345.6,842.5 345.8,846.8 346.0,851.3 346.2,855.9 346.4,860.8 346.6,865.8 346.8,871.0 347.0,876.5 347.2,882.2 347.4,888.2 347.6,894.4 347.8,901.0 348.0,907.9 348.2,915.1 348.4,922.8 348.6,930.9 348.8,939.4 349.0,948.5 349.2,958.2 349.4,968.6 349.6,979.7 349.8,991.8 350.0,1004.8 350.2,1019.1 350.4,1034.9 350.6,1052.5 350.8,1072.3 351.0,1094.9 351.2,1121.4 351.4,1153.3 351.6,1193.3 351.8,1246.8 352.0,1328.2 352.2,1330.4 352.3,1330.4 352.4,1330.4 352.6,1328.5 352.8,1247.1 353.0,1193.4 353.2,1153.4 353.4,1121.4 353.6,1094.9 353.8,1072.1 354.0,1052.2 354.2,1034.6 354.4,1018.8 354.6,1004.4 354.8,991.2 355.0,979.1 355.2,967.9 355.4,957.4 355.6,947.7 355.8,938.5 356.0,929.9 356.2,921.7 356.4,914.0 356.6,906.7 356.8,899.7 357.0,893.1 357.2,886.7 357.4,880.7 357.6,874.9 357.8,869.3 358.0,864.0 358.2,858.9 358.4,854.0 358.6,849.3 358.8,844.7 359.0,840.3 359.2,836.1 359.4,832.0 359.6,828.1 359.8,824.3 360.0,820.6 360.2,817.1 360.4,813.6 360.6,810.3 360.8,807.1 361.0,804.0 361.2,801.0 361.4,798.1 361.6,795.3 361.8,792.6 362.0,789.9 362.2,787.4 362.4,784.9 362.6,782.5 362.8,780.2 363.0,777.9 363.2,775.8 363.4,773.7 363.6,771.6 363.8,769.7 364.0,767.8 364.2,765.9 364.4,764.2 364.6,762.5 364.8,760.8 365.0,759.2 365.2,757.7 365.4,756.2 365.6,754.8 365.8,753.4 366.0,752.1 366.2,750.9 366.4,749.6 366.6,748.5 366.8,747.4 367.0,746.3 367.2,745.3 367.4,744.4 367.6,743.5 367.8,742.6 368.0,741.8 368.2,741.0 368.4,740.3 368.6,739.6 368.8,739.0 369.0,738.4 369.2,737.9 369.4,737.4 369.6,736.9 369.8,736.5 370.0,736.1 370.2,735.8 370.4,735.5 370.6,735.3 370.8,735.1 371.0,735.0 371.2,734.9 371.4,734.8 371.6,734.8 371.8,734.8 372.0,734.9 372.2,735.0 372.4,735.2 372.6,735.4 372.8,735.6 373.0,735.9 373.2,736.2 373.4,736.6 373.6,737.0 373.8,737.5 374.0,738.0 374.2,738.5 374.4,739.1 374.6,739.8 374.8,740.5 375.0,741.2 375.2,742.0 375.4,742.8 375.6,743.7 375.8,744.6 376.0,745.6 376.2,746.6 376.4,747.7 376.6,748.8 376.8,750.0 377.0,751.3 377.2,752.6 377.4,753.9 377.6,755.3 377.8,756.7 378.0,758.3 378.2,759.8 378.4,761.5 378.6,763.2 378.8,764.9 379.0,766.7 379.2,768.6 379.4,770.6 379.6,772.6 379.8,774.7 380.0,776.9 380.2,779.1 380.4,781.4 380.6,783.8 380.8,786.3 381.0,788.8 381.2,791.5 381.4,794.2 381.6,797.1 381.8,800.0 382.0,803.0 382.2,806.1 382.4,809.4 382.6,812.7 382.8,816.2 383.0,819.8 383.2,823.5 383.4,827.4 383.6,831.4 383.8,835.5 384.0,839.8 384.2,844.3 384.4,849.0 384.6,853.8 384.8,858.8 385.0,864.1 385.2,869.6 385.4,875.3 385.6,881.2 385.8,887.5 386.0,894.1 386.2,900.9 386.4,908.2 386.6,915.8 386.8,923.9 387.0,932.5 387.2,941.6 387.4,951.3 387.6,961.6 387.8,972.8 388.0,984.8 388.2,997.9 388.4,1012.2 388.6,1028.0 388.8,1045.5 389.0,1065.3 389.2,1088.0 389.4,1114.5 389.6,1146.4 389.8,1186.3 390.0,1239.9 390.2,1321.2 390.4,1454.7 390.5,1454.7 390.6,1454.7 390.8,1319.4 391.0,1238.0 391.2,1184.4 391.4,1144.3 391.6,1112.4 391.8,1085.8 392.0,1063.1 392.2,1043.2 392.4,1025.5 392.6,1009.7 392.8,995.3 393.0,982.2 393.2,970.1 393.4,958.8 393.6,948.4 393.8,938.6 394.0,929.4 394.2,920.8 394.4,912.7 394.6,905.0 394.8,897.6 395.0,890.7 395.2,884.0 395.4,877.7 395.6,871.7 395.8,865.9 396.0,860.3 396.2,855.0 396.4,849.9 396.6,845.0 396.8,840.3 397.0,835.8 397.2,831.4 397.4,827.2 397.6,823.1 397.8,819.2 398.0,815.4 398.2,811.7 398.4,808.2 398.6,804.8 398.8,801.5 399.0,798.3 399.2,795.2 399.4,792.2 399.6,789.3 399.8,786.5 400.0,783.8 400.2,781.1 400.4,778.6 400.6,776.1 400.8,773.8 401.0,771.5 401.2,769.2 401.4,767.1 401.6,765.0 401.8,763.0 402.0,761.0 402.2,759.2 402.4,757.3 402.6,755.6 402.8,753.9 403.0,752.3 403.2,750.7 403.4,749.2 403.6,747.7 403.8,746.3 404.0,745.0 404.2,743.7 404.4,742.5 404.6,741.3 404.8,740.1 405.0,739.1 405.2,738.0 405.4,737.1 405.6,736.1 405.8,735.2 406.0,734.4 406.2,733.6 406.4,732.9 406.6,732.2 406.8,731.6 407.0,731.0 407.2,730.4 407.4,729.9 407.6,729.4 407.8,729.0 408.0,728.6 408.2,728.3 408.4,728.0 408.6,727.8 408.8,727.6 409.0,727.4 409.2,727.3 409.4,727.3 409.6,727.3 409.8,727.3 410.0,727.3 410.2,727.5 410.4,727.6 410.6,727.8 410.8,728.1 411.0,728.4 411.2,728.7 411.4,729.1 411.6,729.5 411.8,730.0 412.0,730.5 412.2,731.1 412.4,731.7 412.6,732.3 412.8,733.0 413.0,733.8 413.2,734.6 413.4,735.4 413.6,736.3 413.8,737.3 414.0,738.3 414.2,739.3 414.4,740.4 414.6,741.6 414.8,742.8 415.0,744.1 415.2,745.4 415.4,746.7 415.6,748.2 415.8,749.7 416.0,751.2 416.2,752.8 416.4,754.5 416.6,756.2 416.8,758.0 417.0,759.9 417.2,761.8 417.4,763.8 417.6,765.9 417.8,768.0 418.0,770.2 418.2,772.5 418.4,774.9 418.6,777.4 418.8,779.9 419.0,782.6 419.2,785.3 419.4,788.1 419.6,791.0 419.8,794.0 420.0,797.1 420.2,800.4 420.4,803.7 420.6,807.1 420.8,810.7 421.0,814.4 421.2,818.3 421.4,822.3 421.6,826.4 421.8,830.7 422.0,835.2 422.2,839.8 422.4,844.6 422.6,849.6 422.8,854.9 423.0,860.3 423.2,866.0 423.4,872.0 423.6,878.3 423.8,884.8 424.0,891.7 424.2,898.9 424.4,906.6 424.6,914.6 424.8,923.2 425.0,932.3 425.2,941.9 425.4,952.3 425.6,963.5 425.8,975.5 426.0,988.6 426.2,1002.9 426.4,1018.6 426.6,1036.2 426.8,1056.0 427.0,1064.7 427.2,1064.7 427.4,1064.7 427.6,1064.7 427.8,1064.7 428.0,1064.7 428.2,1064.7 428.3,1064.7 428.4,1064.7 428.6,1064.7 428.8,1064.7 429.0,1064.7 429.2,1064.7 429.4,1064.7 429.6,1064.7 429.8,1064.7 430.0,1048.7 430.2,1031.1 430.4,1015.2 430.6,1000.8 430.8,987.6 431.0,975.5 431.2,964.3 431.4,953.8 431.6,944.0 431.8,934.8 432.0,926.1 432.2,917.9 432.4,910.1 432.6,902.8 432.8,895.8 433.0,889.1 433.2,882.7 433.4,876.6 433.6,870.8 433.8,865.2 434.0,859.8 434.2,854.6 434.4,849.6 434.6,844.8 434.8,840.2 435.0,835.8 435.2,831.5 435.4,827.3 435.6,823.3 435.8,819.4 436.0,815.7 436.2,812.1 436.4,808.5 436.6,805.1 436.8,801.8 437.0,798.6 437.2,795.5 437.4,792.5 437.6,789.6 437.8,786.8 438.0,784.1 438.2,781.4 438.4,778.8 438.6,776.3 438.8,773.9 439.0,771.5 439.2,769.2 439.4,767.0 439.6,764.9 439.8,762.8 440.0,760.8 440.2,758.8 440.4,756.9 440.6,755.0 440.8,753.3 441.0,751.5 441.2,749.8 441.4,748.2 441.6,746.6 441.8,745.1 442.0,743.7 442.2,742.2 442.4,740.9 442.6,739.5 442.8,738.3 443.0,737.0 443.2,735.8 443.4,734.7 443.6,733.6 443.8,732.6 444.0,731.5 444.2,730.6 444.4,729.7 444.6,728.8 444.8,727.9 445.0,727.1 445.2,726.4 445.4,725.7 445.6,725.0 445.8,724.4 446.0,723.8 446.2,723.2 446.4,722.7 446.6,722.2 446.8,721.8 447.0,721.3 447.2,721.0 447.4,720.7 447.6,720.4 447.8,720.1 448.0,719.9 448.2,719.7 448.4,719.6 448.6,719.5 448.8,719.4 449.0,719.4 449.2,719.4 449.4,719.4 449.6,719.5 449.8,719.6 450.0,719.8 450.2,720.0 450.4,720.2 450.6,720.5 450.8,720.8 451.0,721.1 451.2,721.5 451.4,721.9 451.6,722.4 451.8,722.9 452.0,723.4 452.2,724.0 452.4,724.6 452.6,725.3 452.8,726.0 453.0,726.7 453.2,727.5 453.4,728.3 453.6,729.2 453.8,730.1 454.0,731.1 454.2,732.0 454.4,733.1 454.6,734.2 454.8,735.3 455.0,736.5 455.2,737.7 455.4,739.0 455.6,740.3 455.8,741.7 456.0,743.1 456.2,744.5 456.4,746.1 456.6,747.6 456.8,749.3 457.0,750.9 457.2,752.7 457.4,754.5 457.6,756.3 457.8,758.3 458.0,760.2 458.2,762.3 458.4,764.4 458.6,766.6 458.8,768.8 459.0,771.1 459.2,773.5 459.4,776.0 459.6,778.5 459.8,781.1 460.0,783.8 460.2,786.6 460.4,789.5 460.6,792.5 460.8,795.5 461.0,798.7 461.2,802.0 461.4,805.4 461.6,808.8 461.8,812.5 462.0,816.2 462.2,820.1 462.4,824.1 462.6,828.2 462.8,832.5 463.0,837.0 463.2,841.6 463.4,846.4 463.6,851.4 463.8,856.6 464.0,862.0 464.2,867.6 464.4,873.5 464.6,879.7 464.8,886.1 465.0,892.9 465.2,900.0 465.4,907.5 465.6,915.4 465.8,923.7 466.0,932.6 466.2,942.0 466.4,952.0 466.6,962.8 466.8,974.4 467.0,987.0 467.2,1000.7 467.4,1015.7 467.6,1032.3 467.8,1050.9 468.0,1072.1 468.2,1096.5 468.4,1125.5 468.6,1161.0 468.8,1181.1 469.0,1181.1 469.2,1181.1 469.4,1181.1 469.4,1181.1 469.6,1181.1 469.8,1181.1 470.0,1181.1 470.2,1149.8 470.4,1114.3 470.6,1085.2 470.8,1060.7 471.0,1039.5 471.2,1020.8 471.4,1004.1 471.6,989.0 471.8,975.3 472.0,962.6 472.2,951.0 472.4,940.2 472.6,930.0 472.8,920.6 473.0,911.7 473.2,903.3 473.4,895.3 473.6,887.8 473.8,880.7 474.0,873.9 474.2,867.4 474.4,861.2 474.6,855.2 474.8,849.6 475.0,844.1 475.2,838.9 475.4,833.9 475.6,829.0 475.8,824.4 476.0,819.9 476.2,815.6 476.4,811.4 476.6,807.4 476.8,803.5 477.0,799.8 477.2,796.2 477.4,792.7 477.6,789.3 477.8,786.0 478.0,782.9 478.2,779.8 478.4,776.8 478.6,773.9 478.8,771.2 479.0,768.5 479.2,765.9 479.4,763.3 479.6,760.9 479.8,758.5 480.0,756.2 480.2,754.0 480.4,751.9 480.6,749.8 480.8,747.8 481.0,745.8 481.2,743.9 481.4,742.1 481.6,740.4 481.8,738.7 482.0,737.0 482.2,735.5 482.4,733.9 482.6,732.5 482.8,731.1 483.0,729.7 483.2,728.4 483.4,727.1 483.6,725.9 483.8,724.8 484.0,723.7 484.2,722.6 484.4,721.6 484.6,720.7 484.8,719.8 485.0,718.9 485.2,718.1 485.4,717.4 485.6,716.6 485.8,716.0 486.0,715.3 486.2,714.7 486.4,714.2 486.6,713.7 486.8,713.3 487.0,712.8 487.2,712.5 487.4,712.2 487.6,711.9 487.8,711.6 488.0,711.4 488.2,711.3 488.4,711.2 488.6,711.1 488.8,711.1 489.0,711.1 489.2,711.2 489.4,711.3 489.6,711.4 489.8,711.6 490.0,711.9 490.2,712.1 490.4,712.5 490.6,712.8 490.8,713.2 491.0,713.7 491.2,714.2 491.4,714.7 491.6,715.3 491.8,715.9 492.0,716.6 492.2,717.3 492.4,718.1 492.6,718.9 492.8,719.8 493.0,720.7 493.2,721.7 493.4,722.7 493.6,723.7 493.8,724.9 494.0,726.0 494.2,727.2 494.4,728.5 494.6,729.8 494.8,731.2 495.0,732.6 495.2,734.1 495.4,735.7 495.6,737.3 495.8,738.9 496.0,740.7 496.2,742.5 496.4,744.3 496.6,746.2 496.8,748.2 497.0,750.3 497.2,752.4 497.4,754.6 497.6,756.9 497.8,759.3 498.0,761.7 498.2,764.2 498.4,766.8 498.6,769.5 498.8,772.3 499.0,775.2 499.2,778.2 499.4,781.3 499.6,784.4 499.8,787.7 500.0,791.2 500.2,794.7 500.4,798.3 500.6,802.1 500.8,806.1 501.0,810.1 501.2,814.4 501.4,818.8 501.6,823.3 501.8,828.1 502.0,833.0 502.2,838.1 502.4,843.5 502.6,849.1 502.8,854.9 503.0,861.0 503.2,867.4 503.4,874.1 503.6,881.2 503.8,888.6 504.0,896.5 504.2,904.8 504.4,913.6 504.6,923.0 504.8,933.0 505.0,943.8 505.2,955.3 505.4,967.9 505.6,981.5 505.8,996.5 506.0,1013.1 506.2,1031.7 506.4,1052.9 506.6,1077.3 506.8,1106.2 507.0,1141.7 507.2,1187.4 507.4,1252.0 507.6,1312.1 507.8,1312.1 507.8,1312.1 508.0,1312.1 508.2,1250.6 508.4,1185.9 508.6,1140.1 508.8,1104.5 509.0,1075.5 509.2,1051.0 509.4,1029.8 509.6,1011.1 509.8,994.4 510.0,979.3 510.2,965.5 510.4,952.9 510.6,941.3 510.8,930.4 511.0,920.3 511.2,910.8 511.4,901.9 511.6,893.5 511.8,885.6 512.0,878.1 512.2,870.9 512.4,864.1 512.6,857.7 512.8,851.5 513.0,845.5 513.2,839.9 513.4,834.4 513.6,829.2 513.8,824.2 514.0,819.4 514.2,814.7 514.4,810.2 514.6,805.9 514.8,801.8 515.0,797.8 515.2,793.9 515.4,790.2 515.6,786.5 515.8,783.0 516.0,779.7 516.2,776.4 516.4,773.2 516.6,770.2 516.8,767.2 517.0,764.4 517.2,761.6 517.4,758.9 517.6,756.3 517.8,753.8 518.0,751.3 518.2,749.0 518.4,746.7 518.6,744.5 518.8,742.4 519.0,740.3 519.2,738.3 519.4,736.4 519.6,734.5 519.8,732.7 520.0,730.9 520.2,729.3 520.4,727.6 520.6,726.1 520.8,724.6 521.0,723.1 521.2,721.7 521.4,720.4 521.6,719.1 521.8,717.9 522.0,716.7 522.2,715.5 522.4,714.5 522.6,713.4 522.8,712.4 523.0,711.5 523.2,710.6 523.4,709.8 523.6,709.0 523.8,708.2 524.0,707.5 524.2,706.9 524.4,706.3 524.6,705.7 524.8,705.2 525.0,704.7 525.2,704.3 525.4,703.9 525.6,703.6 525.8,703.3 526.0,703.0 526.2,702.8 526.4,702.7 526.6,702.5 526.8,702.5 527.0,702.4 527.2,702.4 527.4,702.5 527.6,702.6 527.8,702.7 528.0,702.9 528.2,703.1 528.4,703.4 528.6,703.7 528.8,704.1 529.0,704.5 529.2,704.9 529.4,705.4 529.6,705.9 529.8,706.5 530.0,707.1 530.2,707.8 530.4,708.5 530.6,709.3 530.8,710.1 531.0,711.0 531.2,711.9 531.4,712.9 531.6,713.9 531.8,714.9 532.0,716.1 532.2,717.2 532.4,718.4 532.6,719.7 532.8,721.0 533.0,722.4 533.2,723.9 533.4,725.4 533.6,726.9 533.8,728.5 534.0,730.2 534.2,732.0 534.4,733.8 534.6,735.7 534.8,737.6 535.0,739.6 535.2,741.7 535.4,743.8 535.6,746.1 535.8,748.4 536.0,750.7 536.2,753.2 536.4,755.8 536.6,758.4 536.8,761.1 537.0,763.9 537.2,766.9 537.4,769.9 537.6,773.0 537.8,776.2 538.0,779.6 538.2,783.0 538.4,786.6 538.6,790.3 538.8,794.2 539.0,798.2 539.2,802.3 539.4,806.6 539.6,811.1 539.8,815.7 540.0,820.5 540.2,825.5 540.4,830.8 540.6,836.2 540.8,841.9 541.0,847.9 541.2,854.1 541.4,860.7 541.6,867.6 541.8,874.8 542.0,882.4 542.2,890.5 542.4,899.1 542.6,908.1 542.8,917.8 543.0,928.2 543.2,939.3 543.4,951.4 543.6,964.4 543.8,978.7 544.0,994.5 544.2,1012.0 544.4,1031.8 544.6,1044.8 544.8,1044.8 545.0,1044.8 545.2,1044.8 545.4,1044.8 545.6,1044.8 545.8,1044.8 545.9,1044.8 546.0,1044.8 546.2,1044.8 546.4,1044.8 546.6,1044.8 546.8,1044.8 547.0,1044.8 547.2,1044.8 547.4,1042.4 547.6,1022.5 547.8,1004.8 548.0,988.9 548.2,974.5 548.4,961.3 548.6,949.2 548.8,937.9 549.0,927.5 549.2,917.6 549.4,908.4 549.6,899.8 549.8,891.6 550.0,883.8 550.2,876.4 550.4,869.4 550.6,862.7 550.8,856.4 551.0,850.2 551.2,844.4 551.4,838.8 551.6,833.4 551.8,828.2 552.0,823.3 552.2,818.5 552.4,813.9 552.6,809.4 552.8,805.1 553.0,800.9 553.2,796.9 553.4,793.1 553.6,789.3 553.8,785.7 554.0,782.2 554.2,778.8 554.4,775.5 554.6,772.3 554.8,769.2 555.0,766.2 555.2,763.2 555.4,760.4 555.6,757.7 555.8,755.0 556.0,752.4 556.2,749.9 556.4,747.5 556.6,745.1 556.8,742.9 557.0,740.6 557.2,738.5 557.4,736.4 557.6,734.4 557.8,732.4 558.0,730.5 558.2,728.7 558.4,726.9 558.6,725.1 558.8,723.5 559.0,721.8 559.2,720.3 559.4,718.8 559.6,717.3 559.8,715.9 560.0,714.5 560.2,713.2 560.4,711.9 560.6,710.7 560.8,709.5 561.0,708.4 561.2,707.3 561.4,706.2 561.6,705.2 561.8,704.3 562.0,703.4 562.2,702.5 562.4,701.6 562.6,700.9 562.8,700.1 563.0,699.4 563.2,698.7 563.4,698.1 563.6,697.5 563.8,696.9 564.0,696.4 564.2,696.0 564.4,695.5 564.6,695.1 564.8,694.8 565.0,694.5 565.2,694.2 565.4,693.9 565.6,693.7 565.8,693.6 566.0,693.4 566.2,693.3 566.4,693.3 566.6,693.3 566.8,693.3 567.0,693.3 567.2,693.4 567.4,693.6 567.6,693.7 567.8,693.9 568.0,694.2 568.2,694.5 568.4,694.8 568.6,695.2 568.8,695.6 569.0,696.0 569.2,696.5 569.4,697.0 569.6,697.6 569.8,698.2 570.0,698.8 570.2,699.5 570.4,700.2 570.6,701.0 570.8,701.8 571.0,702.6 571.2,703.5 571.4,704.4 571.6,705.4 571.8,706.4 572.0,707.5 572.2,708.6 572.4,709.8 572.6,711.0 572.8,712.2 573.0,713.5 573.2,714.9 573.4,716.3 573.6,717.7 573.8,719.2 574.0,720.8 574.2,722.4 574.4,724.1 574.6,725.8 574.8,727.6 575.0,729.4 575.2,731.3 575.4,733.3 575.6,735.3 575.8,737.4 576.0,739.6 576.2,741.8 576.4,744.1 576.6,746.5 576.8,748.9 577.0,751.4 577.2,754.0 577.4,756.7 577.6,759.5 577.8,762.4 578.0,765.3 578.2,768.4 578.4,771.5 578.6,774.8 578.8,778.2 579.0,781.7 579.2,785.3 579.4,789.0 579.6,792.8 579.8,796.8 580.0,801.0 580.2,805.2 580.4,809.7 580.6,814.3 580.8,819.1 581.0,824.1 581.2,829.2 581.4,834.6 581.6,840.3 581.8,846.2 582.0,852.3 582.2,858.8 582.4,865.5 582.6,872.6 582.8,880.1 583.0,888.0 583.2,896.3 583.4,905.1 583.6,914.5 583.8,924.6 584.0,935.4 584.2,946.9 584.4,959.5 584.6,973.2 584.8,988.2 585.0,1004.8 585.2,1023.4 585.4,1044.6 585.6,1069.0 585.8,1098.0 586.0,1108.9 586.2,1108.9 586.4,1108.9 586.6,1108.9 586.8,1108.9 586.8,1108.9 587.0,1108.9 587.2,1108.9 587.4,1108.9 587.6,1108.9 587.8,1086.2 588.0,1057.2 588.2,1032.6 588.4,1011.4 588.6,992.7 588.8,976.0 589.0,960.9 589.2,947.2 589.4,934.5 589.6,922.9 589.8,912.0 590.0,901.9 590.2,892.4 590.4,883.5 590.6,875.1 590.8,867.2 591.0,859.7 591.2,852.5 591.4,845.7 591.6,839.2 591.8,833.0 592.0,827.1 592.2,821.4 592.4,816.0 592.6,810.7 592.8,805.7 593.0,800.9 593.2,796.2 593.4,791.8 593.6,787.4 593.8,783.3 594.0,779.3 594.2,775.4 594.4,771.6 594.6,768.0 594.8,764.5 595.0,761.1 595.2,757.9 595.4,754.7 595.6,751.6 595.8,748.7 596.0,745.8 596.2,743.0 596.4,740.3 596.6,737.7 596.8,735.2 597.0,732.8 597.2,730.4 597.4,728.1 597.6,725.9 597.8,723.7 598.0,721.7 598.2,719.7 598.4,717.7 598.6,715.9 598.8,714.0 599.0,712.3 599.2,710.6 599.4,709.0 599.6,707.4 599.8,705.9 600.0,704.4 600.2,703.0 600.4,701.7 600.6,700.4 600.8,699.2 601.0,698.0 601.2,696.8 601.4,695.8 601.6,694.7 601.8,693.7 602.0,692.8 602.2,691.9 602.4,691.1 602.6,690.3 602.8,689.5 603.0,688.8 603.2,688.1 603.4,687.5 603.6,687.0 603.8,686.4 604.0,686.0 604.2,685.5 604.4,685.1 604.6,684.8 604.8,684.5 605.0,684.2 605.2,684.0 605.4,683.8 605.6,683.7 605.8,683.6 606.0,683.6 606.2,683.6 606.4,683.6 606.6,683.7 606.8,683.9 607.0,684.0 607.2,684.3 607.4,684.5 607.6,684.8 607.8,685.2 608.0,685.6 608.2,686.0 608.4,686.5 608.6,687.0 608.8,687.6 609.0,688.2 609.2,688.9 609.4,689.6 609.6,690.4 609.8,691.2 610.0,692.0 610.2,693.0 610.4,693.9 610.6,694.9 610.8,696.0 611.0,697.1 611.2,698.3 611.4,699.5 611.6,700.7 611.8,702.1 612.0,703.4 612.2,704.9 612.4,706.4 612.6,707.9 612.8,709.5 613.0,711.2 613.2,712.9 613.4,714.7 613.6,716.6 613.8,718.5 614.0,720.6 614.2,722.6 614.4,724.8 614.6,727.0 614.8,729.3 615.0,731.7 615.2,734.1 615.4,736.7 615.6,739.3 615.8,742.0 616.0,744.8 616.2,747.7 616.4,750.8 616.6,753.9 616.8,757.1 617.0,760.4 617.2,763.9 617.4,767.5 617.6,771.2 617.8,775.0 618.0,779.0 618.2,783.1 618.4,787.4 618.6,791.9 618.8,796.5 619.0,801.3 619.2,806.3 619.4,811.6 619.6,817.0 619.8,822.7 620.0,828.7 620.2,834.9 620.4,841.5 620.6,848.3 620.8,855.6 621.0,863.2 621.2,871.3 621.4,879.8 621.6,888.9 621.8,898.6 622.0,908.9 622.2,920.0 622.4,932.1 622.6,945.1 622.8,959.4 623.0,975.2 623.2,992.7 623.4,1012.5 623.6,1035.1 623.8,1061.6 624.0,1093.5 624.2,1133.4 624.4,1187.0 624.6,1190.3 624.8,1190.3 624.9,1190.3 625.0,1190.3 625.2,1190.3 625.4,1190.3 625.6,1145.5 625.8,1105.5 626.0,1073.5 626.2,1046.9 626.4,1024.1 626.6,1004.2 626.8,986.6 627.0,970.7 627.2,956.3 627.4,943.1 627.6,930.9 627.8,919.7 628.0,909.2 628.2,899.3 628.4,890.1 628.6,881.4 628.8,873.2 629.0,865.5 629.2,858.1 629.4,851.1 629.6,844.4 629.8,838.0 630.0,831.9 630.2,826.0 630.4,820.4 630.6,815.0 630.8,809.8 631.0,804.8 631.2,800.0 631.4,795.4 631.6,790.9 631.8,786.6 632.0,782.5 632.2,778.4 632.4,774.5 632.6,770.8 632.8,767.1 633.0,763.6 633.2,760.2 633.4,756.9 633.6,753.7 633.8,750.5 634.0,747.5 634.2,744.6 634.4,741.8 634.6,739.0 634.8,736.3 635.0,733.7 635.2,731.2 635.4,728.8 635.6,726.4 635.8,724.1 636.0,721.9 636.2,719.7 636.4,717.6 636.6,715.5 636.8,713.6 637.0,711.6 637.2,709.8 637.4,708.0 637.6,706.2 637.8,704.5 638.0,702.9 638.2,701.3 638.4,699.8 638.6,698.3 638.8,696.8 639.0,695.5 639.2,694.1 639.4,692.8 639.6,691.6 639.8,690.4 640.0,689.2 640.2,688.1 640.4,687.0 640.6,686.0 640.8,685.0 641.0,684.1 641.2,683.2 641.4,682.3 641.6,681.5 641.8,680.7 642.0,680.0 642.2,679.3 642.4,678.6 642.6,678.0 642.8,677.5 643.0,676.9 643.2,676.4 643.4,675.9 643.6,675.5 643.8,675.1 644.0,674.8 644.2,674.5 644.4,674.2 644.6,674.0 644.8,673.8 645.0,673.6 645.2,673.5 645.4,673.4 645.6,673.3 645.8,673.3 646.0,673.3 646.2,673.4 646.4,673.5 646.6,673.6 646.8,673.8 647.0,674.0 647.2,674.3 647.4,674.5 647.6,674.9 647.8,675.2 648.0,675.6 648.2,676.1 648.4,676.5 648.6,677.1 648.8,677.6 649.0,678.2 649.2,678.8 649.4,679.5 649.6,680.2 649.8,681.0 650.0,681.8 650.2,682.6 650.4,683.5 650.6,684.4 650.8,685.4 651.0,686.4 651.2,687.4 651.4,688.5 651.6,689.7 651.8,690.9 652.0,692.1 652.2,693.4 652.4,694.7 652.6,696.1 652.8,697.6 653.0,699.0 653.2,700.6 653.4,702.2 653.6,703.8 653.8,705.5 654.0,707.3 654.2,709.1 654.4,711.0 654.6,712.9 654.8,714.9 655.0,717.0 655.2,719.1 655.4,721.3 655.6,723.6 655.8,725.9 656.0,728.3 656.2,730.8 656.4,733.4 656.6,736.1 656.8,738.8 657.0,741.6 657.2,744.5 657.4,747.6 657.6,750.7 657.8,753.9 658.0,757.2 658.2,760.6 658.4,764.1 658.6,767.8 658.8,771.6 659.0,775.5 659.2,779.6 659.4,783.8 659.6,788.2 659.8,792.7 660.0,797.4 660.2,802.3 660.4,807.3 660.6,812.6 660.8,818.1 661.0,823.9 661.2,829.9 661.4,836.2 661.6,842.8 661.8,849.7 662.0,857.0 662.2,864.7 662.4,872.8 662.6,881.3 662.8,890.5 663.0,900.2 663.2,910.6 663.4,921.7 663.6,933.8 663.8,946.9 664.0,961.2 664.2,977.0 664.4,994.5 664.6,1000.7 664.8,1000.7 665.0,1000.7 665.2,1000.7 665.4,1000.7 665.6,1000.7 665.8,1000.7 666.0,1000.7 666.1,1000.7 666.2,1000.7 666.4,1000.7 666.6,1000.7 666.8,1000.7 667.0,1000.7 667.2,1000.7 667.4,1000.7 667.6,1000.7 667.8,981.2 668.0,963.5 668.2,947.7 668.4,933.3 668.6,920.1 668.8,908.0 669.0,896.7 669.2,886.2 669.4,876.5 669.6,867.3 669.8,858.6 670.0,850.4 670.2,842.7 670.4,835.4 670.6,828.4 670.8,821.7 671.0,815.4 671.2,809.3 671.4,803.5 671.6,797.9 671.8,792.6 672.0,787.5 672.2,782.5 672.4,777.8 672.6,773.2 672.8,768.8 673.0,764.6 673.2,760.5 673.4,756.5 673.6,752.7 673.8,749.0 674.0,745.5 674.2,742.0 674.4,738.7 674.6,735.4 674.8,732.3 675.0,729.3 675.2,726.4 675.4,723.5 675.6,720.8 675.8,718.2 676.0,715.6 676.2,713.1 676.4,710.7 676.6,708.4 676.8,706.1 677.0,703.9 677.2,701.8 677.4,699.7 677.6,697.8 677.8,695.9 678.0,694.0 678.2,692.2 678.4,690.5 678.6,688.8 678.8,687.2 679.0,685.7 679.2,684.2 679.4,682.8 679.6,681.4 679.8,680.1 680.0,678.8 680.2,677.6 680.4,676.4 680.6,675.3 680.8,674.2 681.0,673.2 681.2,672.2 681.4,671.3 681.6,670.4 681.8,669.6 682.0,668.8 682.2,668.1 682.4,667.4 682.6,666.7 682.8,666.1 683.0,665.6 683.2,665.1 683.4,664.6 683.6,664.2 683.8,663.8 684.0,663.5 684.2,663.2 684.4,663.0 684.6,662.8 684.8,662.6 685.0,662.5 685.2,662.4 685.4,662.4 685.6,662.4 685.8,662.5 686.0,662.6 686.2,662.7 686.4,662.9 686.6,663.1 686.8,663.4 687.0,663.7 687.2,664.1 687.4,664.5 687.6,665.0 687.8,665.5 688.0,666.0 688.2,666.6 688.4,667.3 688.6,667.9 688.8,668.7 689.0,669.5 689.2,670.3 689.4,671.2 689.6,672.1 689.8,673.1 690.0,674.1 690.2,675.2 690.4,676.3 690.6,677.5 690.8,678.7 691.0,680.0 691.2,681.3 691.4,682.7 691.6,684.2 691.8,685.7 692.0,687.3 692.2,688.9 692.4,690.6 692.6,692.4 692.8,694.2 693.0,696.1 693.2,698.1 693.4,700.1 693.6,702.2 693.8,704.4 694.0,706.6 694.2,709.0 694.4,711.4 694.6,713.9 694.8,716.4 695.0,719.1 695.2,721.9 695.4,724.7 695.6,727.7 695.8,730.7 696.0,733.9 696.2,737.2 696.4,740.6 696.6,744.1 696.8,747.7 697.0,751.5 697.2,755.4 697.4,759.4 697.6,763.6 697.8,768.0 698.0,772.5 698.2,777.2 698.4,782.2 698.6,787.3 698.8,792.6 699.0,798.2 699.2,804.0 699.4,810.1 699.6,816.5 699.8,823.1 700.0,830.2 700.2,837.6 700.4,845.4 700.6,853.7 700.8,862.5 701.0,871.9 701.2,881.9 701.4,892.6 701.6,904.2 701.8,916.7 702.0,930.3 702.2,945.3 702.4,961.9 702.6,980.5 702.8,1001.6 703.0,1026.0 703.2,1054.9 703.4,1090.4 703.6,1136.1 703.8,1200.6 704.0,1204.2 704.2,1204.2 704.2,1204.2 704.4,1204.2 704.6,1201.2 704.8,1136.6 705.0,1090.7 705.2,1055.1 705.4,1026.1 705.6,1001.6 705.8,980.3 706.0,961.6 706.2,944.9 706.4,929.8 706.6,916.0 706.8,903.4 707.0,891.7 707.2,880.9 707.4,870.7 707.6,861.3 707.8,852.3 708.0,843.9 708.2,836.0 708.4,828.4 708.6,821.3 708.8,814.4 709.0,807.9 709.2,801.7 709.4,795.8 709.6,790.1 709.8,784.6 710.0,779.4 710.2,774.3 710.4,769.5 710.6,764.8 710.8,760.3 711.0,756.0 711.2,751.8 711.4,747.8 711.6,743.9 711.8,740.1 712.0,736.5 712.2,733.0 712.4,729.6 712.6,726.3 712.8,723.1 713.0,720.0 713.2,717.0 713.4,714.2 713.6,711.4 713.8,708.7 714.0,706.0 714.2,703.5 714.4,701.0 714.6,698.6 714.8,696.3 715.0,694.1 715.2,691.9 715.4,689.8 715.6,687.8 715.8,685.9 716.0,684.0 716.2,682.1 716.4,680.4 716.6,678.7 716.8,677.0 717.0,675.4 717.2,673.9 717.4,672.4 717.6,671.0 717.8,669.6 718.0,668.3 718.2,667.0 718.4,665.8 718.6,664.7 718.8,663.5 719.0,662.5 719.2,661.5 719.4,660.5 719.6,659.6 719.8,658.7 720.0,657.9 720.2,657.1 720.4,656.4 720.6,655.7 720.8,655.1 721.0,654.5 721.2,653.9 721.4,653.4 721.6,652.9 721.8,652.5 722.0,652.2 722.2,651.8 722.4,651.5 722.6,651.3 722.8,651.1 723.0,650.9 723.2,650.8 723.4,650.7 723.6,650.7 723.8,650.7 724.0,650.8 724.2,650.9 724.4,651.0 724.6,651.2 724.8,651.4 725.0,651.7 725.2,652.0 725.4,652.4 725.6,652.8 725.8,653.2 726.0,653.7 726.2,654.2 726.4,654.8 726.6,655.5 726.8,656.1 727.0,656.8 727.2,657.6 727.4,658.4 727.6,659.3 727.8,660.2 728.0,661.2 728.2,662.2 728.4,663.2 728.6,664.3 728.8,665.5 729.0,666.7 729.2,668.0 729.4,669.3 729.6,670.7 729.8,672.1 730.0,673.6 730.2,675.2 730.4,676.8 730.6,678.5 730.8,680.2 731.0,682.0 731.2,683.9 731.4,685.8 731.6,687.8 731.8,689.9 732.0,692.0 732.2,694.2 732.4,696.5 732.6,698.9 732.8,701.4 733.0,703.9 733.2,706.5 733.4,709.2 733.6,712.1 733.8,715.0 734.0,718.0 734.2,721.1 734.4,724.3 734.6,727.6 734.8,731.1 735.0,734.6 735.2,738.3 735.4,742.2 735.6,746.2 735.8,750.3 736.0,754.6 736.2,759.0 736.4,763.6 736.6,768.5 736.8,773.5 737.0,778.7 737.2,784.1 737.4,789.8 737.6,795.8 737.8,802.0 738.0,808.5 738.2,815.4 738.4,822.6 738.6,830.2 738.8,838.3 739.0,846.8 739.2,855.9 739.4,865.6 739.6,875.9 739.8,887.0 740.0,899.1 740.2,912.1 740.4,926.4 740.6,942.1 740.8,959.7 741.0,979.4 741.2,1002.1 741.4,1028.6 741.6,1060.4 741.8,1100.3 742.0,1106.2 742.2,1106.2 742.4,1106.2 742.5,1106.2 742.6,1106.2 742.8,1106.2 743.0,1106.2 743.2,1100.3 743.4,1060.2 743.6,1028.2 743.8,1001.6 744.0,978.9 744.2,959.0 744.4,941.3 744.6,925.4 744.8,911.0 745.0,897.8 745.2,885.7 745.4,874.4 745.6,863.9 745.8,854.1 746.0,844.9 746.2,836.3 746.4,828.1 746.6,820.3 746.8,813.0 747.0,806.0 747.2,799.3 747.4,793.0 747.6,786.9 747.8,781.1 748.0,775.5 748.2,770.1 748.4,765.0 748.6,760.0 748.8,755.3 749.0,750.7 749.2,746.3 749.4,742.0 749.6,737.9 749.8,733.9 750.0,730.1 750.2,726.4 750.4,722.8 750.6,719.3 750.8,716.0 751.0,712.7 751.2,709.6 751.4,706.6 751.6,703.6 751.8,700.8 752.0,698.0 752.2,695.3 752.4,692.7 752.6,690.2 752.8,687.8 753.0,685.4 753.2,683.2 753.4,681.0 753.6,678.8 753.8,676.8 754.0,674.8 754.2,672.8 754.4,670.9 754.6,669.1 754.8,667.4 755.0,665.7 755.2,664.1 755.4,662.5 755.6,661.0 755.8,659.5 756.0,658.1 756.2,656.8 756.4,655.5 756.6,654.2 756.8,653.0 757.0,651.9 757.2,650.8 757.4,649.7 757.6,648.7 757.8,647.8 758.0,646.9 758.2,646.0 758.4,645.2 758.6,644.4 758.8,643.7 759.0,643.0 759.2,642.4 759.4,641.8 759.6,641.3 759.8,640.8 760.0,640.3 760.2,639.9 760.4,639.5 760.6,639.2 760.8,638.9 761.0,638.7 761.2,638.5 761.4,638.3 761.6,638.2 761.8,638.2 762.0,638.1 762.2,638.2 762.4,638.2 762.6,638.3 762.8,638.5 763.0,638.7 763.2,638.9 763.4,639.2 763.6,639.5 763.8,639.8 764.0,640.2 764.2,640.7 764.4,641.2 764.6,641.7 764.8,642.3 765.0,642.9 765.2,643.6 765.4,644.3 765.6,645.1 765.8,645.9 766.0,646.8 766.2,647.7 766.4,648.7 766.6,649.7 766.8,650.7 767.0,651.9 767.2,653.0 767.4,654.2 767.6,655.5 767.8,656.8 768.0,658.2 768.2,659.7 768.4,661.1 768.6,662.7 768.8,664.3 769.0,666.0 769.2,667.7 769.4,669.5 769.6,671.4 769.8,673.3 770.0,675.3 770.2,677.4 770.4,679.5 770.6,681.8 770.8,684.0 771.0,686.4 771.2,688.9 771.4,691.4 771.6,694.0 771.8,696.8 772.0,699.6 772.2,702.5 772.4,705.5 772.6,708.6 772.8,711.8 773.0,715.1 773.2,718.6 773.4,722.1 773.6,725.8 773.8,729.7 774.0,733.7 774.2,737.8 774.4,742.1 774.6,746.5 774.8,751.1 775.0,755.9 775.2,760.9 775.4,766.2 775.6,771.6 775.8,777.3 776.0,783.2 776.2,789.5 776.4,796.0 776.6,802.9 776.8,810.1 777.0,817.7 777.2,825.7 777.4,834.3 777.6,843.3 777.8,853.0 778.0,863.4 778.2,874.5 778.4,886.5 778.6,899.5 778.8,913.8 779.0,929.5 779.2,947.1 779.4,966.8 779.6,967.0 779.8,967.0 780.0,967.0 780.2,967.0 780.4,967.0 780.6,967.0 780.8,967.0 780.9,967.0 781.0,967.0 781.2,967.0 781.4,967.0 781.6,967.0 781.8,967.0 782.0,967.0 782.2,967.0 782.4,967.0 782.6,955.5 782.8,937.8 783.0,921.9 783.2,907.5 783.4,894.3 783.6,882.1 783.8,870.9 784.0,860.3 784.2,850.5 784.4,841.3 784.6,832.6 784.8,824.4 785.0,816.6 785.2,809.2 785.4,802.2 785.6,795.5 785.8,789.1 786.0,782.9 786.2,777.1 786.4,771.4 786.6,766.0 786.8,760.8 787.0,755.8 787.2,751.0 787.4,746.4 787.6,741.9 787.8,737.6 788.0,733.4 788.2,729.4 788.4,725.5 788.6,721.7 788.8,718.1 789.0,714.5 789.2,711.1 789.4,707.8 789.6,704.6 789.8,701.5 790.0,698.4 790.2,695.5 790.4,692.7 790.6,689.9 790.8,687.2 791.0,684.6 791.2,682.1 791.4,679.6 791.6,677.3 791.8,675.0 792.0,672.7 792.2,670.6 792.4,668.5 792.6,666.4 792.8,664.4 793.0,662.5 793.2,660.6 793.4,658.8 793.6,657.1 793.8,655.4 794.0,653.7 794.2,652.2 794.4,650.6 794.6,649.1 794.8,647.7 795.0,646.3 795.2,645.0 795.4,643.7 795.6,642.4 795.8,641.2 796.0,640.1 796.2,639.0 796.4,637.9 796.6,636.9 796.8,635.9 797.0,635.0 797.2,634.1 797.4,633.3 797.6,632.4 797.8,631.7 798.0,630.9 798.2,630.3 798.4,629.6 798.6,629.0 798.8,628.4 799.0,627.9 799.2,627.4 799.4,627.0 799.6,626.6 799.8,626.2 800.0,625.9 800.2,625.6 800.4,625.3 800.6,625.1 800.8,624.9 801.0,624.8 801.2,624.6 801.4,624.6 801.6,624.5 801.8,624.6 802.0,624.6 802.2,624.7 802.4,624.8 802.6,625.0 802.8,625.2 803.0,625.4 803.2,625.7 803.4,626.0 803.6,626.3 803.8,626.7 804.0,627.1 804.2,627.6 804.4,628.1 804.6,628.7 804.8,629.2 805.0,629.9 805.2,630.5 805.4,631.3 805.6,632.0 805.8,632.8 806.0,633.6 806.2,634.5 806.4,635.4 806.6,636.4 806.8,637.4 807.0,638.5 807.2,639.6 807.4,640.7 807.6,641.9 807.8,643.2 808.0,644.5 808.2,645.8 808.4,647.2 808.6,648.7 808.8,650.2 809.0,651.7 809.2,653.4 809.4,655.0 809.6,656.7 809.8,658.5 810.0,660.4 810.2,662.3 810.4,664.2 810.6,666.3 810.8,668.4 811.0,670.5 811.2,672.8 811.4,675.1 811.6,677.5 811.8,679.9 812.0,682.5 812.2,685.1 812.4,687.8 812.6,690.6 812.8,693.5 813.0,696.5 813.2,699.5 813.4,702.7 813.6,706.0 813.8,709.4 814.0,712.9 814.2,716.5 814.4,720.3 814.6,724.2 814.8,728.2 815.0,732.4 815.2,736.7 815.4,741.2 815.6,745.9 815.8,750.8 816.0,755.8 816.2,761.1 816.4,766.6 816.6,772.3 816.8,778.3 817.0,784.6 817.2,791.1 817.4,798.0 817.6,805.3 817.8,812.9 818.0,821.0 818.2,829.6 818.4,838.6 818.6,848.3 818.8,858.7 819.0,869.8 819.2,881.9 819.4,894.9 819.6,909.2 819.8,925.0 820.0,942.5 820.2,962.3 820.4,985.0 820.6,1011.4 820.8,1043.3 821.0,1083.2 821.2,1123.9 821.4,1123.9 821.6,1123.9 821.7,1123.9 821.8,1123.9 822.0,1123.9 822.2,1123.9 822.4,1073.5 822.6,1033.4 822.8,1001.4 823.0,974.8 823.2,952.0 823.4,932.1 823.6,914.4 823.8,898.5 824.0,884.1 824.2,870.9 824.4,858.7 824.6,847.5 824.8,837.0 825.0,827.1 825.2,817.9 825.4,809.3 825.6,801.1 825.8,793.3 826.0,785.9 826.2,778.9 826.4,772.2 826.6,765.9 826.8,759.8 827.0,753.9 827.2,748.3 827.4,743.0 827.6,737.8 827.8,732.8 828.0,728.1 828.2,723.5 828.4,719.0 828.6,714.8 828.8,710.6 829.0,706.7 829.2,702.8 829.4,699.1 829.6,695.5 829.8,692.0 830.0,688.6 830.2,685.4 830.4,682.2 830.6,679.2 830.8,676.2 831.0,673.3 831.2,670.6 831.4,667.9 831.6,665.3 831.8,662.7 832.0,660.3 832.2,657.9 832.4,655.6 832.6,653.4 832.8,651.3 833.0,649.2 833.2,647.2 833.4,645.2 833.6,643.3 833.8,641.5 834.0,639.7 834.2,638.0 834.4,636.4 834.6,634.8 834.8,633.2 835.0,631.8 835.2,630.3 835.4,629.0 835.6,627.6 835.8,626.4 836.0,625.2 836.2,624.0 836.4,622.9 836.6,621.8 836.8,620.8 837.0,619.8 837.2,618.9 837.4,618.0 837.6,617.2 837.8,616.4 838.0,615.7 838.2,615.0 838.4,614.3 838.6,613.7 838.8,613.1 839.0,612.6 839.2,612.1 839.4,611.7 839.6,611.3 839.8,611.0 840.0,610.7 840.2,610.4 840.4,610.2 840.6,610.0 840.8,609.9 841.0,609.8 841.2,609.7 841.4,609.7 841.6,609.8 841.8,609.9 842.0,610.0 842.2,610.1 842.4,610.3 842.6,610.6 842.8,610.9 843.0,611.2 843.2,611.6 843.4,612.0 843.6,612.5 843.8,613.0 844.0,613.6 844.2,614.2 844.4,614.8 844.6,615.5 844.8,616.3 845.0,617.0 845.2,617.9 845.4,618.8 845.6,619.7 845.8,620.7 846.0,621.7 846.2,622.8 846.4,623.9 846.6,625.1 846.8,626.3 847.0,627.6 847.2,629.0 847.4,630.4 847.6,631.8 847.8,633.4 848.0,634.9 848.2,636.6 848.4,638.3 848.6,640.0 848.8,641.8 849.0,643.7 849.2,645.7 849.4,647.7 849.6,649.8 849.8,652.0 850.0,654.2 850.2,656.6 850.4,659.0 850.6,661.5 850.8,664.0 851.0,666.7 851.2,669.4 851.4,672.3 851.6,675.2 851.8,678.3 852.0,681.4 852.2,684.7 852.4,688.1 852.6,691.6 852.8,695.2 853.0,698.9 853.2,702.8 853.4,706.9 853.6,711.1 853.8,715.4 854.0,719.9 854.2,724.6 854.4,729.5 854.6,734.6 854.8,740.0 855.0,745.5 855.2,751.3 855.4,757.4 855.6,763.8 855.8,770.4 856.0,777.5 856.2,784.9 856.4,792.7 856.6,800.9 856.8,809.7 857.0,819.1 857.2,829.1 857.4,839.8 857.6,851.3 857.8,863.8 858.0,877.4 858.2,892.4 858.4,908.9 858.6,927.5 858.8,948.6 859.0,973.0 859.2,1001.9 859.4,1037.3 859.6,1083.0 859.8,1106.2 860.0,1106.2 860.2,1106.2 860.2,1106.2 860.4,1106.2 860.6,1106.2 860.8,1084.6 861.0,1038.7 861.2,1003.1 861.4,974.0 861.6,949.5 861.8,928.2 862.0,909.5 862.2,892.7 862.4,877.6 862.6,863.8 862.8,851.1 863.0,839.4 863.2,828.6 863.4,818.4 863.6,808.9 863.8,799.9 864.0,791.5 864.2,783.5 864.4,775.9 864.6,768.7 864.8,761.9 865.0,755.3 865.2,749.1 865.4,743.1 865.6,737.4 865.8,731.9 866.0,726.6 866.2,721.5 866.4,716.6 866.6,711.9 866.8,707.4 867.0,703.0 867.2,698.8 867.4,694.7 867.6,690.8 867.8,687.0 868.0,683.3 868.2,679.7 868.4,676.3 868.6,673.0 868.8,669.7 869.0,666.6 869.2,663.6 869.4,660.6 869.6,657.8 869.8,655.0 870.0,652.4 870.2,649.8 870.4,647.3 870.6,644.8 870.8,642.5 871.0,640.2 871.2,638.0 871.4,635.8 871.6,633.7 871.8,631.7 872.0,629.8 872.2,627.9 872.4,626.0 872.6,624.3 872.8,622.6 873.0,620.9 873.2,619.3 873.4,617.8 873.6,616.3 873.8,614.9 874.0,613.5 874.2,612.1 874.4,610.9 874.6,609.6 874.8,608.5 875.0,607.3 875.2,606.2 875.4,605.2 875.6,604.2 875.8,603.3 876.0,602.4 876.2,601.5 876.4,600.7 876.6,599.9 876.8,599.2 877.0,598.5 877.2,597.9 877.4,597.3 877.6,596.8 877.8,596.3 878.0,595.8 878.2,595.4 878.4,595.0 878.6,594.7 878.8,594.4 879.0,594.1 879.2,593.9 879.4,593.7 879.6,593.6 879.8,593.5 880.0,593.5 880.2,593.5 880.4,593.5 880.6,593.6 880.8,593.7 881.0,593.9 881.2,594.1 881.4,594.3 881.6,594.6 881.8,594.9 882.0,595.3 882.2,595.7 882.4,596.2 882.6,596.7 882.8,597.2 883.0,597.8 883.2,598.4 883.4,599.1 883.6,599.9 883.8,600.6 884.0,601.4 884.2,602.3 884.4,603.2 884.6,604.2 884.8,605.2 885.0,606.2 885.2,607.3 885.4,608.5 885.6,609.7 885.8,610.9 886.0,612.3 886.2,613.6 886.4,615.0 886.6,616.5 886.8,618.1 887.0,619.7 887.2,621.3 887.4,623.0 887.6,624.8 887.8,626.6 888.0,628.5 888.2,630.5 888.4,632.6 888.6,634.7 888.8,636.9 889.0,639.1 889.2,641.4 889.4,643.9 889.6,646.4 889.8,648.9 890.0,651.6 890.2,654.4 890.4,657.2 890.6,660.2 890.8,663.2 891.0,666.4 891.2,669.7 891.4,673.1 891.6,676.6 891.8,680.2 892.0,684.0 892.2,687.9 892.4,691.9 892.6,696.1 892.8,700.5 893.0,705.0 893.2,709.7 893.4,714.6 893.6,719.7 893.8,725.0 894.0,730.6 894.2,736.4 894.4,742.4 894.6,748.8 894.8,755.5 895.0,762.5 895.2,769.9 895.4,777.7 895.6,786.0 895.8,794.8 896.0,804.1 896.2,814.1 896.4,824.8 896.6,836.3 896.8,848.8 897.0,862.4 897.2,877.4 897.4,894.0 897.6,912.0 897.8,912.0 898.0,912.0 898.2,912.0 898.4,912.0 898.6,912.0 898.8,912.0 899.0,912.0 899.2,912.0 899.2,912.0 899.4,912.0 899.6,912.0 899.8,912.0 900.0,912.0 900.2,912.0 900.4,912.0 900.6,912.0 900.8,911.5 901.0,892.7 901.2,876.0 901.4,860.8 901.6,847.0 901.8,834.3 902.0,822.6 902.2,811.7 902.4,801.6 902.6,792.0 902.8,783.1 903.0,774.6 903.2,766.6 903.4,759.0 903.6,751.8 903.8,745.0 904.0,738.4 904.2,732.1 904.4,726.2 904.6,720.4 904.8,714.9 905.0,709.6 905.2,704.5 905.4,699.6 905.6,694.9 905.8,690.4 906.0,686.0 906.2,681.8 906.4,677.7 906.6,673.7 906.8,669.9 907.0,666.2 907.2,662.6 907.4,659.2 907.6,655.8 907.8,652.6 908.0,649.5 908.2,646.4 908.4,643.5 908.6,640.6 908.8,637.8 909.0,635.1 909.2,632.5 909.4,630.0 909.6,627.6 909.8,625.2 910.0,622.9 910.2,620.7 910.4,618.5 910.6,616.4 910.8,614.4 911.0,612.4 911.2,610.5 911.4,608.7 911.6,606.9 911.8,605.2 912.0,603.5 912.2,601.9 912.4,600.3 912.6,598.8 912.8,597.4 913.0,596.0 913.2,594.6 913.4,593.3 913.6,592.1 913.8,590.9 914.0,589.7 914.2,588.6 914.4,587.6 914.6,586.6 914.8,585.6 915.0,584.7 915.2,583.8 915.4,583.0 915.6,582.2 915.8,581.5 916.0,580.8 916.2,580.2 916.4,579.5 916.6,579.0 916.8,578.5 917.0,578.0 917.2,577.5 917.4,577.1 917.6,576.8 917.8,576.5 918.0,576.2 918.2,576.0 918.4,575.8 918.6,575.6 918.8,575.5 919.0,575.5 919.2,575.4 919.4,575.4 919.6,575.5 919.8,575.6 920.0,575.7 920.2,575.9 920.4,576.1 920.6,576.4 920.8,576.7 921.0,577.1 921.2,577.5 921.4,577.9 921.6,578.4 921.8,578.9 922.0,579.5 922.2,580.1 922.4,580.7 922.6,581.4 922.8,582.2 923.0,582.9 923.2,583.8 923.4,584.7 923.6,585.6 923.8,586.6 924.0,587.6 924.2,588.7 924.4,589.8 924.6,591.0 924.8,592.2 925.0,593.5 925.2,594.8 925.4,596.2 925.6,597.6 925.8,599.1 926.0,600.7 926.2,602.3 926.4,604.0 926.6,605.7 926.8,607.5 927.0,609.4 927.2,611.3 927.4,613.3 927.6,615.4 927.8,617.6 928.0,619.8 928.2,622.1 928.4,624.4 928.6,626.9 928.8,629.4 929.0,632.0 929.2,634.7 929.4,637.5 929.6,640.4 929.8,643.4 930.0,646.5 930.2,649.7 930.4,653.1 930.6,656.5 930.8,660.1 931.0,663.7 931.2,667.6 931.4,671.5 931.6,675.6 931.8,679.9 932.0,684.3 932.2,689.0 932.4,693.7 932.6,698.7 932.8,703.9 933.0,709.4 933.2,715.0 933.4,721.0 933.6,727.2 933.8,733.7 934.0,740.5 934.2,747.7 934.4,755.3 934.6,763.3 934.8,771.8 935.0,780.9 935.2,790.5 935.4,800.8 935.6,811.9 935.8,823.9 936.0,837.0 936.2,851.2 936.4,866.9 936.6,884.4 936.8,904.1 937.0,926.8 937.2,953.2 937.4,985.0 937.6,1024.9 937.8,1074.5 938.0,1074.5 938.2,1074.5 938.3,1074.5 938.4,1074.5 938.6,1074.5 938.8,1074.5 939.0,1023.8 939.2,983.7 939.4,951.6 939.6,925.0 939.8,902.2 940.0,882.2 940.2,864.5 940.4,848.6 940.6,834.2 940.8,820.9 941.0,808.7 941.2,797.4 941.4,786.9 941.6,777.1 941.8,767.8 942.0,759.1 942.2,750.9 942.4,743.1 942.6,735.7 942.8,728.6 943.0,721.9 943.2,715.5 943.4,709.4 943.6,703.5 943.8,697.9 944.0,692.5 944.2,687.3 944.4,682.3 944.6,677.4 944.8,672.8 945.0,668.3 945.2,664.0 945.4,659.9 945.6,655.8 945.8,651.9 946.0,648.2 946.2,644.5 946.4,641.0 946.6,637.6 946.8,634.3 947.0,631.1 947.2,628.0 947.4,625.0 947.6,622.1 947.8,619.3 948.0,616.5 948.2,613.9 948.4,611.3 948.6,608.8 948.8,606.4 949.0,604.0 949.2,601.8 949.4,599.5 949.6,597.4 949.8,595.3 950.0,593.3 950.2,591.4 950.4,589.5 950.6,587.7 950.8,585.9 951.0,584.2 951.2,582.6 951.4,581.0 951.6,579.5 951.8,578.0 952.0,576.5 952.2,575.2 952.4,573.8 952.6,572.6 952.8,571.3 953.0,570.2 953.2,569.0 953.4,567.9 953.6,566.9 953.8,565.9 954.0,565.0 954.2,564.1 954.4,563.2 954.6,562.4 954.8,561.7 955.0,560.9 955.2,560.3 955.4,559.6 955.6,559.0 955.8,558.5 956.0,558.0 956.2,557.5 956.4,557.1 956.6,556.7 956.8,556.4 957.0,556.1 957.2,555.8 957.4,555.6 957.6,555.4 957.8,555.3 958.0,555.2 958.2,555.2 958.4,555.2 958.6,555.2 958.8,555.3 959.0,555.4 959.2,555.5 959.4,555.7 959.6,556.0 959.8,556.3 960.0,556.6 960.2,557.0 960.4,557.4 960.6,557.8 960.8,558.3 961.0,558.9 961.2,559.5 961.4,560.1 961.6,560.8 961.8,561.5 962.0,562.3 962.2,563.1 962.4,563.9 962.6,564.9 962.8,565.8 963.0,566.8 963.2,567.9 963.4,569.0 963.6,570.1 963.8,571.3 964.0,572.6 964.2,573.9 964.4,575.3 964.6,576.7 964.8,578.2 965.0,579.7 965.2,581.3 965.4,583.0 965.6,584.7 965.8,586.5 966.0,588.3 966.2,590.3 966.4,592.2 966.6,594.3 966.8,596.4 967.0,598.6 967.2,600.9 967.4,603.2 967.6,605.7 967.8,608.2 968.0,610.8 968.2,613.5 968.4,616.3 968.6,619.2 968.8,622.1 969.0,625.2 969.2,628.4 969.4,631.7 969.6,635.1 969.8,638.7 970.0,642.3 970.2,646.1 970.4,650.1 970.6,654.2 970.8,658.4 971.0,662.9 971.2,667.4 971.4,672.2 971.6,677.2 971.8,682.4 972.0,687.8 972.2,693.4 972.4,699.4 972.6,705.5 972.8,712.0 973.0,718.9 973.2,726.1 973.4,733.6 973.6,741.6 973.8,750.1 974.0,759.2 974.2,768.8 974.4,779.1 974.6,790.2 974.8,802.1 975.0,815.1 975.2,829.4 975.4,845.1 975.6,862.6 975.8,882.3 976.0,904.9 976.2,931.3 976.4,963.1 976.6,1003.0 976.8,1047.4 977.0,1047.4 977.2,1047.4 977.3,1047.4 977.4,1047.4 977.6,1047.4 977.8,1047.4 978.0,1007.4 978.2,967.3 978.4,935.2 978.6,908.6 978.8,885.7 979.0,865.8 979.2,848.0 979.4,832.1 979.6,817.6 979.8,804.4 980.0,792.2 980.2,780.8 980.4,770.3 980.6,760.4 980.8,751.1 981.0,742.4 981.2,734.1 981.4,726.3 981.6,718.9 981.8,711.8 982.0,705.1 982.2,698.6 982.4,692.5 982.6,686.5 982.8,680.9 983.0,675.4 983.2,670.2 983.4,665.2 983.6,660.3 983.8,655.6 984.0,651.1 984.2,646.8 984.4,642.5 984.6,638.5 984.8,634.5 985.0,630.7 985.2,627.0 985.4,623.5 985.6,620.0 985.8,616.7 986.0,613.4 986.2,610.3 986.4,607.2 986.6,604.2 986.8,601.3 987.0,598.5 987.2,595.8 987.4,593.2 987.6,590.6 987.8,588.2 988.0,585.8 988.2,583.4 988.4,581.2 988.6,578.9 988.8,576.8 989.0,574.7 989.2,572.7 989.4,570.8 989.6,568.9 989.8,567.0 990.0,565.3 990.2,563.5 990.4,561.9 990.6,560.3 990.8,558.7 991.0,557.2 991.2,555.7 991.4,554.3 991.6,552.9 991.8,551.6 992.0,550.4 992.2,549.1 992.4,548.0 992.6,546.8 992.8,545.7 993.0,544.7 993.2,543.7 993.4,542.8 993.6,541.8 993.8,541.0 994.0,540.1 994.2,539.4 994.4,538.6 994.6,537.9 994.8,537.3 995.0,536.6 995.2,536.0 995.4,535.5 995.6,535.0 995.8,534.5 996.0,534.1 996.2,533.7 996.4,533.4 996.6,533.1 996.8,532.8 997.0,532.6 997.2,532.4 997.4,532.2 997.6,532.1 997.8,532.0 998.0,532.0 998.2,532.0 998.4,532.1 998.6,532.1 998.8,532.3 999.0,532.4 999.2,532.6 999.4,532.8 999.6,533.1 999.8,533.4 1000.0,533.8 1000.2,534.2 1000.4,534.6 1000.6,535.1 1000.8,535.6 1001.0,536.2 1001.2,536.8 1001.4,537.4 1001.6,538.1 1001.8,538.8 1002.0,539.6 1002.2,540.4 1002.4,541.3 1002.6,542.2 1002.8,543.2 1003.0,544.2 1003.2,545.2 1003.4,546.3 1003.6,547.4 1003.8,548.6 1004.0,549.9 1004.2,551.2 1004.4,552.5 1004.6,553.9 1004.8,555.3 1005.0,556.8 1005.2,558.4 1005.4,560.0 1005.6,561.7 1005.8,563.4 1006.0,565.2 1006.2,567.1 1006.4,569.0 1006.6,571.0 1006.8,573.1 1007.0,575.2 1007.2,577.4 1007.4,579.7 1007.6,582.0 1007.8,584.4 1008.0,586.9 1008.2,589.5 1008.4,592.2 1008.6,595.0 1008.8,597.8 1009.0,600.8 1009.2,603.8 1009.4,607.0 1009.6,610.3 1009.8,613.7 1010.0,617.2 1010.2,620.8 1010.4,624.5 1010.6,628.4 1010.8,632.5 1011.0,636.7 1011.2,641.0 1011.4,645.5 1011.6,650.2 1011.8,655.1 1012.0,660.2 1012.2,665.5 1012.4,671.0 1012.6,676.8 1012.8,682.9 1013.0,689.2 1013.2,695.9 1013.4,702.9 1013.6,710.3 1013.8,718.1 1014.0,726.3 1014.2,735.1 1014.4,744.4 1014.6,754.3 1014.8,765.0 1015.0,776.5 1015.2,789.0 1015.4,802.6 1015.6,817.5 1015.8,834.0 1016.0,852.1 1016.2,852.1 1016.4,852.1 1016.6,852.1 1016.8,852.1 1017.0,852.1 1017.2,852.1 1017.4,852.1 1017.6,852.1 1017.6,852.1 1017.8,852.1 1018.0,852.1 1018.2,852.1 1018.4,852.1 1018.6,852.1 1018.8,852.1 1019.0,852.1 1019.2,845.2 1019.4,826.4 1019.6,809.6 1019.8,794.4 1020.0,780.6 1020.2,767.8 1020.4,756.1 1020.6,745.1 1020.8,734.9 1021.0,725.4 1021.2,716.3 1021.4,707.8 1021.6,699.8 1021.8,692.2 1022.0,684.9 1022.2,678.0 1022.4,671.4 1022.6,665.1 1022.8,659.1 1023.0,653.3 1023.2,647.7 1023.4,642.4 1023.6,637.3 1023.8,632.3 1024.0,627.6 1024.2,623.0 1024.4,618.5 1024.6,614.3 1024.8,610.1 1025.0,606.1 1025.2,602.3 1025.4,598.5 1025.6,594.9 1025.8,591.4 1026.0,588.0 1026.2,584.7 1026.4,581.5 1026.6,578.5 1026.8,575.5 1027.0,572.6 1027.2,569.7 1027.4,567.0 1027.6,564.4 1027.8,561.8 1028.0,559.3 1028.2,556.9 1028.4,554.5 1028.6,552.2 1028.8,550.0 1029.0,547.9 1029.2,545.8 1029.4,543.8 1029.6,541.9 1029.8,540.0 1030.0,538.2 1030.2,536.4 1030.4,534.7 1030.6,533.0 1030.8,531.4 1031.0,529.9 1031.2,528.4 1031.4,526.9 1031.6,525.5 1031.8,524.2 1032.0,522.9 1032.2,521.7 1032.4,520.5 1032.6,519.3 1032.8,518.2 1033.0,517.2 1033.2,516.2 1033.4,515.2 1033.6,514.3 1033.8,513.4 1034.0,512.6 1034.2,511.8 1034.4,511.1 1034.6,510.4 1034.8,509.8 1035.0,509.1 1035.2,508.6 1035.4,508.1 1035.6,507.6 1035.8,507.1 1036.0,506.7 1036.2,506.4 1036.4,506.1 1036.6,505.8 1036.8,505.6 1037.0,505.4 1037.2,505.2 1037.4,505.1 1037.6,505.0 1037.8,505.0 1038.0,505.0 1038.2,505.1 1038.4,505.2 1038.6,505.3 1038.8,505.5 1039.0,505.7 1039.2,506.0 1039.4,506.3 1039.6,506.6 1039.8,507.0 1040.0,507.5 1040.2,508.0 1040.4,508.5 1040.6,509.1 1040.8,509.7 1041.0,510.3 1041.2,511.0 1041.4,511.8 1041.6,512.6 1041.8,513.4 1042.0,514.3 1042.2,515.3 1042.4,516.2 1042.6,517.3 1042.8,518.4 1043.0,519.5 1043.2,520.7 1043.4,522.0 1043.6,523.3 1043.8,524.6 1044.0,526.0 1044.2,527.5 1044.4,529.0 1044.6,530.6 1044.8,532.3 1045.0,534.0 1045.2,535.7 1045.4,537.6 1045.6,539.5 1045.8,541.5 1046.0,543.5 1046.2,545.6 1046.4,547.8 1046.6,550.1 1046.8,552.4 1047.0,554.9 1047.2,557.4 1047.4,560.0 1047.6,562.7 1047.8,565.5 1048.0,568.4 1048.2,571.3 1048.4,574.4 1048.6,577.6 1048.8,581.0 1049.0,584.4 1049.2,587.9 1049.4,591.6 1049.6,595.5 1049.8,599.4 1050.0,603.6 1050.2,607.9 1050.4,612.3 1050.6,617.0 1050.8,621.8 1051.0,626.8 1051.2,632.1 1051.4,637.6 1051.6,643.3 1051.8,649.3 1052.0,655.6 1052.2,662.2 1052.4,669.2 1052.6,676.5 1052.8,684.2 1053.0,692.4 1053.2,701.1 1053.4,710.4 1053.6,720.3 1053.8,731.0 1054.0,742.4 1054.2,754.8 1054.4,768.4 1054.6,783.3 1054.8,799.8 1055.0,818.3 1055.2,839.3 1055.4,863.6 1055.6,892.4 1055.8,927.7 1056.0,973.4 1056.2,987.5 1056.4,987.5 1056.6,987.5 1056.6,987.5 1056.8,987.5 1057.0,987.5 1057.2,968.7 1057.4,922.7 1057.6,887.0 1057.8,857.9 1058.0,833.2 1058.2,811.9 1058.4,793.1 1058.6,776.2 1058.8,761.0 1059.0,747.2 1059.2,734.4 1059.4,722.6 1059.6,711.7 1059.8,701.4 1060.0,691.8 1060.2,682.8 1060.4,674.3 1060.6,666.2 1060.8,658.6 1061.0,651.3 1061.2,644.4 1061.4,637.8 1061.6,631.4 1061.8,625.4 1062.0,619.6 1062.2,614.0 1062.4,608.7 1062.6,603.5 1062.8,598.6 1063.0,593.8 1063.2,589.2 1063.4,584.8 1063.6,580.5 1063.8,576.3 1064.0,572.3 1064.2,568.5 1064.4,564.7 1064.6,561.1 1064.8,557.6 1065.0,554.2 1065.2,550.9 1065.4,547.7 1065.6,544.6 1065.8,541.6 1066.0,538.7 1066.2,535.9 1066.4,533.2 1066.6,530.5 1066.8,527.9 1067.0,525.4 1067.2,523.0 1067.4,520.7 1067.6,518.4 1067.8,516.2 1068.0,514.1 1068.2,512.0 1068.4,510.0 1068.6,508.1 1068.8,506.2 1069.0,504.4 1069.2,502.6 1069.4,500.9 1069.6,499.3 1069.8,497.7 1070.0,496.2 1070.2,494.7 1070.4,493.3 1070.6,491.9 1070.8,490.6 1071.0,489.3 1071.2,488.1 1071.4,486.9 1071.6,485.8 1071.8,484.7 1072.0,483.7 1072.2,482.7 1072.4,481.8 1072.6,480.9 1072.8,480.1 1073.0,479.3 1073.2,478.6 1073.4,477.9 1073.6,477.2 1073.8,476.6 1074.0,476.0 1074.2,475.5 1074.4,475.0 1074.6,474.6 1074.8,474.2 1075.0,473.8 1075.2,473.5 1075.4,473.3 1075.6,473.1 1075.8,472.9 1076.0,472.7 1076.2,472.7 1076.4,472.6 1076.6,472.6 1076.8,472.6 1077.0,472.7 1077.2,472.9 1077.4,473.0 1077.6,473.2 1077.8,473.5 1078.0,473.8 1078.2,474.1 1078.4,474.5 1078.6,475.0 1078.8,475.5 1079.0,476.0 1079.2,476.6 1079.4,477.2 1079.6,477.9 1079.8,478.6 1080.0,479.4 1080.2,480.2 1080.4,481.0 1080.6,482.0 1080.8,482.9 1081.0,483.9 1081.2,485.0 1081.4,486.2 1081.6,487.3 1081.8,488.6 1082.0,489.9 1082.2,491.2 1082.4,492.6 1082.6,494.1 1082.8,495.6 1083.0,497.2 1083.2,498.9 1083.4,500.6 1083.6,502.4 1083.8,504.3 1084.0,506.2 1084.2,508.2 1084.4,510.3 1084.6,512.4 1084.8,514.7 1085.0,517.0 1085.2,519.4 1085.4,521.8 1085.6,524.4 1085.8,527.1 1086.0,529.9 1086.2,532.7 1086.4,535.7 1086.6,538.8 1086.8,542.0 1087.0,545.3 1087.2,548.7 1087.4,552.2 1087.6,555.9 1087.8,559.8 1088.0,563.8 1088.2,567.9 1088.4,572.2 1088.6,576.7 1088.8,581.4 1089.0,586.2 1089.2,591.3 1089.4,596.6 1089.6,602.2 1089.8,608.0 1090.0,614.1 1090.2,620.4 1090.4,627.2 1090.6,634.2 1090.8,641.7 1091.0,649.6 1091.2,658.0 1091.4,666.9 1091.6,676.5 1091.8,686.7 1092.0,697.7 1092.2,709.5 1092.4,722.4 1092.6,736.6 1092.8,752.2 1093.0,769.6 1093.2,789.2 1093.4,811.7 1093.6,838.0 1093.8,869.7 1094.0,909.5 1094.2,952.3 1094.4,952.3 1094.6,952.3 1094.7,952.3 1094.8,952.3 1095.0,952.3 1095.2,952.3 1095.4,908.0 1095.6,867.8 1095.8,835.7 1096.0,808.9 1096.2,786.0 1096.4,766.0 1096.6,748.2 1096.8,732.1 1097.0,717.6 1097.2,704.3 1097.4,692.0 1097.6,680.6 1097.8,669.9 1098.0,660.0 1098.2,650.6 1098.4,641.8 1098.6,633.5 1098.8,625.6 1099.0,618.1 1099.2,611.0 1099.4,604.2 1099.6,597.6 1099.8,591.4 1100.0,585.4 1100.2,579.7 1100.4,574.2 1100.6,568.9 1100.8,563.8 1101.0,558.9 1101.2,554.2 1101.4,549.6 1101.6,545.2 1101.8,541.0 1102.0,536.9 1102.2,532.9 1102.4,529.0 1102.6,525.3 1102.8,521.7 1103.0,518.2 1103.2,514.8 1103.4,511.5 1103.6,508.3 1103.8,505.2 1104.0,502.2 1104.2,499.3 1104.4,496.5 1104.6,493.8 1104.8,491.1 1105.0,488.5 1105.2,486.0 1105.4,483.6 1105.6,481.3 1105.8,479.0 1106.0,476.8 1106.2,474.6 1106.4,472.5 1106.6,470.5 1106.8,468.6 1107.0,466.7 1107.2,464.8 1107.4,463.0 1107.6,461.3 1107.8,459.7 1108.0,458.1 1108.2,456.5 1108.4,455.0 1108.6,453.6 1108.8,452.2 1109.0,450.8 1109.2,449.5 1109.4,448.3 1109.6,447.1 1109.8,445.9 1110.0,444.8 1110.2,443.8 1110.4,442.8 1110.6,441.8 1110.8,440.9 1111.0,440.1 1111.2,439.2 1111.4,438.5 1111.6,437.7 1111.8,437.1 1112.0,436.4 1112.2,435.8 1112.4,435.3 1112.6,434.7 1112.8,434.3 1113.0,433.9 1113.2,433.5 1113.4,433.1 1113.6,432.8 1113.8,432.6 1114.0,432.4 1114.2,432.2 1114.4,432.1 1114.6,432.0 1114.8,432.0 1115.0,432.0 1115.2,432.0 1115.4,432.1 1115.6,432.3 1115.8,432.5 1116.0,432.7 1116.2,433.0 1116.4,433.3 1116.6,433.6 1116.8,434.0 1117.0,434.5 1117.2,435.0 1117.4,435.5 1117.6,436.1 1117.8,436.8 1118.0,437.5 1118.2,438.2 1118.4,439.0 1118.6,439.8 1118.8,440.7 1119.0,441.6 1119.2,442.6 1119.4,443.7 1119.6,444.8 1119.8,445.9 1120.0,447.1 1120.2,448.4 1120.4,449.7 1120.6,451.1 1120.8,452.5 1121.0,454.0 1121.2,455.6 1121.4,457.2 1121.6,458.9 1121.8,460.7 1122.0,462.5 1122.2,464.5 1122.4,466.4 1122.6,468.5 1122.8,470.6 1123.0,472.8 1123.2,475.1 1123.4,477.5 1123.6,480.0 1123.8,482.5 1124.0,485.2 1124.2,487.9 1124.4,490.8 1124.6,493.8 1124.8,496.8 1125.0,500.0 1125.2,503.3 1125.4,506.7 1125.6,510.3 1125.8,514.0 1126.0,517.9 1126.2,521.9 1126.4,526.0 1126.6,530.3 1126.8,534.9 1127.0,539.6 1127.2,544.5 1127.4,549.6 1127.6,555.0 1127.8,560.6 1128.0,566.4 1128.2,572.6 1128.4,579.1 1128.6,585.9 1128.8,593.1 1129.0,600.8 1129.2,608.8 1129.4,617.4 1129.6,626.6 1129.8,636.4 1130.0,646.9 1130.2,658.2 1130.4,670.5 1130.6,683.9 1130.8,698.7 1131.0,715.1 1131.2,733.5 1131.4,738.0 1131.6,738.0 1131.8,738.0 1132.0,738.0 1132.2,738.0 1132.4,738.0 1132.6,738.0 1132.8,738.0 1132.8,738.0 1133.0,738.0 1133.2,738.0 1133.4,738.0 1133.6,738.0 1133.8,738.0 1134.0,738.0 1134.2,738.0 1134.4,738.0 1134.6,720.7 1134.8,703.7 1135.0,688.4 1135.2,674.4 1135.4,661.5 1135.6,649.6 1135.8,638.5 1136.0,628.2 1136.2,618.5 1136.4,609.3 1136.6,600.7 1136.8,592.5 1137.0,584.7 1137.2,577.3 1137.4,570.2 1137.6,563.4 1137.8,557.0 1138.0,550.8 1138.2,544.8 1138.4,539.1 1138.6,533.6 1138.8,528.3 1139.0,523.2 1139.2,518.2 1139.4,513.5 1139.6,508.9 1139.8,504.4 1140.0,500.1 1140.2,495.9 1140.4,491.9 1140.6,488.0 1140.8,484.2 1141.0,480.5 1141.2,476.9 1141.4,473.4 1141.6,470.0 1141.8,466.8 1142.0,463.6 1142.2,460.5 1142.4,457.5 1142.6,454.5 1142.8,451.7 1143.0,448.9 1143.2,446.2 1143.4,443.6 1143.6,441.0 1143.8,438.5 1144.0,436.1 1144.2,433.7 1144.4,431.5 1144.6,429.2 1144.8,427.1 1145.0,424.9 1145.2,422.9 1145.4,420.9 1145.6,418.9 1145.8,417.1 1146.0,415.2 1146.2,413.4 1146.4,411.7 1146.6,410.0 1146.8,408.4 1147.0,406.8 1147.2,405.3 1147.4,403.8 1147.6,402.3 1147.8,400.9 1148.0,399.6 1148.2,398.3 1148.4,397.0 1148.6,395.8 1148.8,394.6 1149.0,393.5 1149.2,392.4 1149.4,391.3 1149.6,390.3 1149.8,389.3 1150.0,388.4 1150.2,387.5 1150.4,386.6 1150.6,385.8 1150.8,385.0 1151.0,384.3 1151.2,383.6 1151.4,382.9 1151.6,382.3 1151.8,381.7 1152.0,381.2 1152.2,380.6 1152.4,380.2 1152.6,379.7 1152.8,379.3 1153.0,379.0 1153.2,378.7 1153.4,378.4 1153.6,378.1 1153.8,377.9 1154.0,377.7 1154.2,377.6 1154.4,377.5 1154.6,377.4 1154.8,377.4 1155.0,377.4 1155.2,377.5 1155.4,377.6 1155.6,377.7 1155.8,377.9 1156.0,378.1 1156.2,378.3 1156.4,378.6 1156.6,378.9 1156.8,379.3 1157.0,379.7 1157.2,380.1 1157.4,380.6 1157.6,381.2 1157.8,381.7 1158.0,382.4 1158.2,383.0 1158.4,383.7 1158.6,384.5 1158.8,385.2 1159.0,386.1 1159.2,387.0 1159.4,387.9 1159.6,388.9 1159.8,389.9 1160.0,391.0 1160.2,392.1 1160.4,393.3 1160.6,394.5 1160.8,395.8 1161.0,397.1 1161.2,398.5 1161.4,400.0 1161.6,401.5 1161.8,403.0 1162.0,404.7 1162.2,406.4 1162.4,408.1 1162.6,409.9 1162.8,411.8 1163.0,413.8 1163.2,415.8 1163.4,417.9 1163.6,420.1 1163.8,422.3 1164.0,424.7 1164.2,427.1 1164.4,429.6 1164.6,432.2 1164.8,434.9 1165.0,437.7 1165.2,440.6 1165.4,443.6 1165.6,446.7 1165.8,449.9 1166.0,453.2 1166.2,456.7 1166.4,460.3 1166.6,464.1 1166.8,467.9 1167.0,472.0 1167.2,476.2 1167.4,480.6 1167.6,485.1 1167.8,489.9 1168.0,494.9 1168.2,500.0 1168.4,505.5 1168.6,511.2 1168.8,517.1 1169.0,523.4 1169.2,530.0 1169.4,536.9 1169.6,544.3 1169.8,552.0 1170.0,560.3 1170.2,569.1 1170.4,578.5 1170.6,588.5 1170.8,599.4 1171.0,611.1 1171.2,623.8 1171.4,637.8 1171.6,653.2 1171.8,670.5 1172.0,689.9 1172.2,712.3 1172.4,738.4 1172.6,770.0 1172.8,809.6 1173.0,850.3 1173.2,850.3 1173.4,850.3 1173.5,850.3 1173.6,850.3 1173.8,850.3 1174.0,849.4 1174.2,795.4 1174.4,755.0 1174.6,722.6 1174.8,695.6 1175.0,672.5 1175.2,652.3 1175.4,634.2 1175.6,618.0 1175.8,603.2 1176.0,589.7 1176.2,577.1 1176.4,565.5 1176.6,554.7 1176.8,544.5 1177.0,534.9 1177.2,525.9 1177.4,517.3 1177.6,509.2 1177.8,501.5 1178.0,494.1 1178.2,487.1 1178.4,480.3 1178.6,473.9 1178.8,467.7 1179.0,461.7 1179.2,456.0 1179.4,450.5 1179.6,445.1 1179.8,440.0 1180.0,435.0 1180.2,430.2 1180.4,425.6 1180.6,421.1 1180.8,416.7 1181.0,412.5 1181.2,408.4 1181.4,404.5 1181.6,400.6 1181.8,396.9 1182.0,393.2 1182.2,389.7 1182.4,386.3 1182.6,382.9 1182.8,379.7 1183.0,376.5 1183.2,373.4 1183.4,370.5 1183.6,367.5 1183.8,364.7 1184.0,362.0 1184.2,359.3 1184.4,356.7 1184.6,354.1 1184.8,351.7 1185.0,349.3 1185.2,346.9 1185.4,344.6 1185.6,342.4 1185.8,340.3 1186.0,338.2 1186.2,336.1 1186.4,334.1 1186.6,332.2 1186.8,330.3 1187.0,328.5 1187.2,326.7 1187.4,325.0 1187.6,323.3 1187.8,321.7 1188.0,320.2 1188.2,318.6 1188.4,317.2 1188.6,315.8 1188.8,314.4 1189.0,313.0 1189.2,311.8 1189.4,310.5 1189.6,309.3 1189.8,308.2 1190.0,307.1 1190.2,306.0 1190.4,305.0 1190.6,304.0 1190.8,303.1 1191.0,302.2 1191.2,301.4 1191.4,300.5 1191.6,299.8 1191.8,299.1 1192.0,298.4 1192.2,297.8 1192.4,297.2 1192.6,296.6 1192.8,296.1 1193.0,295.6 1193.2,295.2 1193.4,294.8 1193.6,294.5 1193.8,294.2 1194.0,293.9 1194.2,293.7 1194.4,293.5 1194.6,293.4 1194.8,293.3 1195.0,293.3 1195.2,293.3 1195.4,293.3 1195.6,293.4 1195.8,293.5 1196.0,293.7 1196.2,293.9 1196.4,294.2 1196.6,294.5 1196.8,294.9 1197.0,295.3 1197.2,295.8 1197.4,296.3 1197.6,296.8 1197.8,297.4 1198.0,298.1 1198.2,298.8 1198.4,299.6 1198.6,300.4 1198.8,301.3 1199.0,302.2 1199.2,303.2 1199.4,304.2 1199.6,305.3 1199.8,306.5 1200.0,307.7 1200.2,309.0 1200.4,310.4 1200.6,311.8 1200.8,313.3 1201.0,314.9 1201.2,316.5 1201.4,318.2 1201.6,320.0 1201.8,321.9 1202.0,323.9 1202.2,325.9 1202.4,328.0 1202.6,330.3 1202.8,332.6 1203.0,335.0 1203.2,337.5 1203.4,340.2 1203.6,342.9 1203.8,345.8 1204.0,348.8 1204.2,351.9 1204.4,355.1 1204.6,358.5 1204.8,362.1 1205.0,365.8 1205.2,369.6 1205.4,373.7 1205.6,377.9 1205.8,382.3 1206.0,387.0 1206.2,391.9 1206.4,397.0 1206.6,402.4 1206.8,408.1 1207.0,414.1 1207.2,420.4 1207.4,427.2 1207.6,434.3 1207.8,441.9 1208.0,449.9 1208.2,458.6 1208.4,467.9 1208.6,477.9 1208.8,488.7 1209.0,500.5 1209.2,513.4 1209.4,527.6 1209.6,543.5 1209.8,561.3 1210.0,581.7 1210.2,605.3 1210.4,633.5 1210.6,668.2 1210.8,713.1 1211.0,738.7 1211.2,738.7 1211.4,738.7 1211.4,738.7 1211.6,738.7 1211.8,738.7 1212.0,718.0 1212.2,671.4 1212.4,635.1 1212.6,605.3 1212.8,580.0 1213.0,558.0 1213.2,538.5 1213.4,521.0 1213.6,505.1 1213.8,490.5 1214.0,477.1 1214.2,464.6 1214.4,452.9 1214.6,442.0 1214.8,431.7 1215.0,421.9 1215.2,412.7 1215.4,403.9 1215.6,395.5 1215.8,387.5 1216.0,379.8 1216.2,372.4 1216.4,365.3 1216.6,358.5 1216.8,351.9 1217.0,345.6 1217.2,339.4 1217.4,333.5 1217.6,327.7 1217.8,322.1 1218.0,316.7 1218.2,311.4 1218.4,306.3 1218.6,301.3 1218.8,296.5 1219.0,291.8 1219.2,287.1 1219.4,282.6 1219.6,278.3 1219.8,274.0 1220.0,269.8 1220.2,265.7 1220.4,261.7 1220.6,257.8 1220.8,253.9 1221.0,250.2 1221.2,246.5 1221.4,242.9 1221.6,239.4 1221.8,235.9 1222.0,232.5 1222.2,229.2 1222.4,225.9 1222.6,222.7 1222.8,219.5 1223.0,216.4 1223.2,213.4 1223.4,210.4 1223.6,207.5 1223.8,204.6 1224.0,201.8 1224.2,199.0 1224.4,196.2 1224.6,193.5 1224.8,190.9 1225.0,188.3 1225.2,185.7 1225.4,183.2 1225.6,180.7 1225.8,178.3 1226.0,175.8 1226.2,173.5 1226.4,171.1 1226.6,168.8 1226.8,166.6 1227.0,164.4 1227.2,162.2 1227.4,160.0 1227.6,157.9 1227.8,155.8 1228.0,153.7 1228.2,151.7 1228.4,149.7 1228.6,147.7 1228.8,145.7 1229.0,143.8 1229.2,141.9 1229.4,140.0 1229.6,138.2 1229.8,136.4 1230.0,134.6 1230.2,132.9 1230.4,131.1 1230.6,129.4 1230.8,127.7 1231.0,126.1 1231.2,124.4 1231.4,122.8 1231.6,121.2 1231.8,119.7 1232.0,118.1 1232.2,116.6 1232.4,115.1 1232.6,113.6 1232.8,112.2 1233.0,110.7 1233.2,109.3 1233.4,107.9 1233.6,106.6 1233.8,105.2 1234.0,103.9 1234.2,102.6 1234.4,101.3 1234.6,100.0 1234.8,98.7 1235.0,97.5 1235.2,96.3 1235.4,95.1 1235.6,93.9 1235.8,92.7 1236.0,91.6 1236.2,90.5 1236.4,89.4 1236.6,88.3 1236.8,87.2 1237.0,86.2 1237.2,85.1 1237.4,84.1 1237.6,83.1 1237.8,82.1 1238.0,81.1 1238.2,80.2 1238.4,79.3 1238.6,78.3 1238.8,77.4 1239.0,76.5 1239.2,75.7 1239.4,74.8 1239.6,74.0 1239.8,73.1 1240.0,72.3 1240.2,71.5 1240.4,70.8 1240.6,70.0 1240.8,69.2 1241.0,68.5 1241.2,67.8 1241.4,67.1 1241.6,66.4 1241.8,65.7 1242.0,65.1 1242.2,64.4 1242.4,63.8 1242.6,63.2 1242.8,62.6 1243.0,62.0 1243.2,61.4 1243.4,60.8 1243.6,60.3 1243.8,59.8 1244.0,59.2 1244.2,58.7 1244.4,58.3 1244.6,57.8 1244.8,57.3 1245.0,56.9 1245.2,56.4 1245.4,56.0 1245.6,55.6 1245.8,55.2 1246.0,54.8 1246.2,54.5 1246.4,54.1 1246.6,53.8 1246.8,53.4 1247.0,53.1 1247.2,52.8 1247.4,52.5 1247.6,52.3 1247.8,52.0 1248.0,51.7 1248.2,51.5 1248.4,51.3 1248.6,51.1 1248.8,50.9 1249.0,50.7 1249.2,50.5 1249.4,50.4 1249.6,50.2 1249.8,50.1 1250.0,50.0 1250.2,49.9 1250.4,49.8 1250.6,49.7 1250.8,49.6 1251.0,49.6 1251.2,49.5 1251.4,49.5 1251.6,49.5 1251.8,49.5 1252.0,49.5 1252.2,49.5 1252.4,49.6 1252.6,49.6 1252.8,49.7 1253.0,49.8 1253.2,49.9 1253.4,50.0 1253.6,50.1 1253.8,50.3 1254.0,50.4 1254.2,50.6 1254.4,50.8 1254.6,51.0 1254.8,51.2 1255.0,51.4 1255.2,51.7 1255.4,51.9 1255.6,52.2 1255.8,52.5 1256.0,52.8 1256.2,53.1 1256.4,53.4 1256.6,53.7 1256.8,54.1 1257.0,54.5 1257.2,54.8 1257.4,55.2 1257.6,55.7 1257.8,56.1 1258.0,56.5 1258.2,57.0 1258.4,57.4 1258.6,57.9 1258.8,58.4 1259.0,58.9 1259.2,59.5 1259.4,60.0 1259.6,60.6 1259.8,61.2 1260.0,61.7 1260.2,62.4 1260.4,63.0 1260.6,63.6 1260.8,64.3 1261.0,64.9 1261.2,65.6 1261.4,66.3 1261.6,67.0 1261.8,67.8 1262.0,68.5 1262.2,69.3 1262.4,70.0 1262.6,70.8 1262.8,71.7 1263.0,72.5 1263.2,73.3 1263.4,74.2 1263.6,75.1 1263.8,76.0 1264.0,76.9 1264.2,77.8 1264.4,78.7 1264.6,79.7 1264.8,80.7 1265.0,81.7 1265.2,82.7 1265.4,83.7 1265.6,84.8 1265.8,85.9 1266.0,87.0 1266.2,88.1 1266.4,89.2 1266.6,90.3 1266.8,91.5 1267.0,92.7 1267.2,93.9 1267.4,95.1 1267.6,96.4 1267.8,97.6 1268.0,98.9 1268.2,100.2 1268.4,101.6 1268.6,102.9 1268.8,104.3 1269.0,105.7 1269.2,107.1 1269.4,108.5 1269.6,110.0 1269.8,111.4 1270.0,112.9 1270.2,114.5 1270.4,116.0 1270.6,117.6 1270.8,119.2 1271.0,120.8 1271.2,122.4 1271.4,124.1 1271.6,125.8 1271.8,127.5 1272.0,129.3 1272.2,131.1 1272.4,132.9 1272.6,134.7 1272.8,136.5 1273.0,138.4 1273.2,140.3 1273.4,142.3 1273.6,144.2 1273.8,146.3 1274.0,148.3 1274.2,150.3 1274.4,152.4 1274.6,154.6 1274.8,156.7 1275.0,158.9 1275.2,161.2 1275.4,163.4 1275.6,165.7 1275.8,168.1 1276.0,170.4 1276.2,172.9 1276.4,175.3 1276.6,177.8 1276.8,180.3 1277.0,182.9 1277.2,185.5 1277.4,188.2 1277.6,190.9 1277.8,193.7 1278.0,196.5 1278.2,199.3 1278.4,202.2 1278.6,205.2 1278.8,208.2 1279.0,211.2 1279.2,214.4 1279.4,217.5 1279.6,220.8 1279.8,224.1 1280.0,227.4 1280.2,230.9 1280.4,234.4 1280.6,237.9 1280.8,241.6 1281.0,245.3 1281.2,249.1 1281.4,253.0 1281.6,256.9 1281.8,261.0 1282.0,265.1 1282.2,269.4 1282.4,273.7 1282.6,278.1 1282.8,282.7 1283.0,287.4 1283.2,292.2 1283.4,297.1 1283.6,302.2 1283.8,307.4 1284.0,312.7 1284.2,318.2 1284.4,323.9 1284.6,329.8 1284.8,335.8 1285.0,342.1 1285.2,348.6 1285.4,355.3 1285.6,362.2 1285.8,369.5 1286.0,377.0 1286.2,384.9 1286.4,393.1 1286.6,401.7 1286.8,410.8 1287.0,420.3 1287.2,430.3 1287.4,440.9 1287.6,452.3 1287.8,464.3 1288.0,477.3 1288.2,491.3 1288.4,506.5 1288.6,523.2 1288.8,541.7 1289.0,562.4 1289.2,585.9 1289.4,613.3 1289.6,646.1 1289.8,686.9 1290.0,739.4 1290.2,739.4 1290.4,739.4 1290.5,739.4 1290.6,739.4 1290.8,739.4 1291.0,739.4 1291.2,691.9 1291.4,652.7 1291.6,621.6 1291.8,595.8 1292.0,573.9 1292.2,554.9 1292.4,538.1 1292.6,523.1 1292.8,509.5 1293.0,497.1 1293.2,485.8 1293.4,475.4 1293.6,465.8 1293.8,456.8 1294.0,448.4 1294.2,440.6 1294.4,433.2 1294.6,426.3 1294.8,419.7 1295.0,413.5 1295.2,407.7 1295.4,402.1 1295.6,396.8 1295.8,391.8 1296.0,387.0 1296.2,382.4 1296.4,378.1 1296.6,373.9 1296.8,369.9 1297.0,366.1 1297.2,362.4 1297.4,358.9 1297.6,355.6 1297.8,352.4 1298.0,349.3 1298.2,346.4 1298.4,343.5 1298.6,340.8 1298.8,338.2 1299.0,335.7 1299.2,333.3 1299.4,331.0 1299.6,328.8 1299.8,326.6 1300.0,324.6 1300.2,322.6 1300.4,320.8 1300.6,319.0 1300.8,317.3 1301.0,315.6 1301.2,314.0 1301.4,312.5 1301.6,311.1 1301.8,309.7 1302.0,308.4 1302.2,307.2 1302.4,306.0 1302.6,304.9 1302.8,303.8 1303.0,302.8 1303.2,301.9 1303.4,301.0 1303.6,300.1 1303.8,299.3 1304.0,298.6 1304.2,297.9 1304.4,297.3 1304.6,296.7 1304.8,296.2 1305.0,295.7 1305.2,295.2 1305.4,294.8 1305.6,294.5 1305.8,294.2 1306.0,293.9 1306.2,293.7 1306.4,293.5 1306.6,293.4 1306.8,293.3 1307.0,293.3 1307.2,293.3 1307.4,293.3 1307.6,293.4 1307.8,293.5 1308.0,293.7 1308.2,293.9 1308.4,294.1 1308.6,294.4 1308.8,294.8 1309.0,295.1 1309.2,295.5 1309.4,296.0 1309.6,296.5 1309.8,297.0 1310.0,297.6 1310.2,298.2 1310.4,298.9 1310.6,299.6 1310.8,300.3 1311.0,301.1 1311.2,301.9 1311.4,302.7 1311.6,303.6 1311.8,304.6 1312.0,305.5 1312.2,306.6 1312.4,307.6 1312.6,308.7 1312.8,309.9 1313.0,311.1 1313.2,312.3 1313.4,313.6 1313.6,314.9 1313.8,316.3 1314.0,317.7 1314.2,319.2 1314.4,320.7 1314.6,322.2 1314.8,323.8 1315.0,325.5 1315.2,327.2 1315.4,328.9 1315.6,330.7 1315.8,332.6 1316.0,334.5 1316.2,336.5 1316.4,338.5 1316.6,340.5 1316.8,342.7 1317.0,344.8 1317.2,347.1 1317.4,349.4 1317.6,351.8 1317.8,354.2 1318.0,356.7 1318.2,359.2 1318.4,361.9 1318.6,364.6 1318.8,367.4 1319.0,370.2 1319.2,373.1 1319.4,376.1 1319.6,379.2 1319.8,382.4 1320.0,385.7 1320.2,389.0 1320.4,392.5 1320.6,396.0 1320.8,399.7 1321.0,403.4 1321.2,407.3 1321.4,411.3 1321.6,415.4 1321.8,419.6 1322.0,424.0 1322.2,428.5 1322.4,433.1 1322.6,437.9 1322.8,442.9 1323.0,448.1 1323.2,453.4 1323.4,458.9 1323.6,464.7 1323.8,470.6 1324.0,476.8 1324.2,483.3 1324.4,490.0 1324.6,497.1 1324.8,504.5 1325.0,512.2 1325.2,520.3 1325.4,528.9 1325.6,537.9 1325.8,547.5 1326.0,557.7 1326.2,568.5 1326.4,580.1 1326.6,592.6 1326.8,606.2 1327.0,621.0 1327.2,637.2 1327.4,655.2 1327.6,675.5 1327.8,698.6 1328.0,725.6 1328.2,757.9 1328.4,798.3 1328.6,850.3 1328.8,850.3 1329.0,850.3 1329.1,850.3 1329.2,850.3 1329.4,850.3 1329.6,850.3 1329.8,807.2 1330.0,767.6 1330.2,736.1 1330.4,709.9 1330.6,687.6 1330.8,668.2 1331.0,651.0 1331.2,635.5 1331.4,621.6 1331.6,608.8 1331.8,597.1 1332.0,586.3 1332.2,576.2 1332.4,566.9 1332.6,558.1 1332.8,549.8 1333.0,542.1 1333.2,534.8 1333.4,527.8 1333.6,521.2 1333.8,515.0 1334.0,509.0 1334.2,503.4 1334.4,498.0 1334.6,492.8 1334.8,487.8 1335.0,483.1 1335.2,478.5 1335.4,474.2 1335.6,470.0 1335.8,466.0 1336.0,462.1 1336.2,458.4 1336.4,454.8 1336.6,451.4 1336.8,448.0 1337.0,444.8 1337.2,441.7 1337.4,438.8 1337.6,435.9 1337.8,433.1 1338.0,430.5 1338.2,427.9 1338.4,425.4 1338.6,423.0 1338.8,420.7 1339.0,418.5 1339.2,416.3 1339.4,414.2 1339.6,412.2 1339.8,410.3 1340.0,408.4 1340.2,406.6 1340.4,404.9 1340.6,403.3 1340.8,401.7 1341.0,400.1 1341.2,398.7 1341.4,397.2 1341.6,395.9 1341.8,394.6 1342.0,393.3 1342.2,392.1 1342.4,391.0 1342.6,389.9 1342.8,388.9 1343.0,387.9 1343.2,386.9 1343.4,386.0 1343.6,385.2 1343.8,384.4 1344.0,383.6 1344.2,382.9 1344.4,382.3 1344.6,381.6 1344.8,381.1 1345.0,380.5 1345.2,380.1 1345.4,379.6 1345.6,379.2 1345.8,378.8 1346.0,378.5 1346.2,378.2 1346.4,378.0 1346.6,377.8 1346.8,377.7 1347.0,377.5 1347.2,377.5 1347.4,377.4 1347.6,377.4 1347.8,377.5 1348.0,377.5 1348.2,377.6 1348.4,377.8 1348.6,378.0 1348.8,378.2 1349.0,378.5 1349.2,378.8 1349.4,379.2 1349.6,379.5 1349.8,380.0 1350.0,380.4 1350.2,380.9 1350.4,381.5 1350.6,382.1 1350.8,382.7 1351.0,383.3 1351.2,384.0 1351.4,384.8 1351.6,385.6 1351.8,386.4 1352.0,387.2 1352.2,388.1 1352.4,389.1 1352.6,390.0 1352.8,391.1 1353.0,392.1 1353.2,393.2 1353.4,394.4 1353.6,395.6 1353.8,396.8 1354.0,398.1 1354.2,399.4 1354.4,400.8 1354.6,402.2 1354.8,403.7 1355.0,405.2 1355.2,406.7 1355.4,408.3 1355.6,410.0 1355.8,411.7 1356.0,413.5 1356.2,415.3 1356.4,417.1 1356.6,419.1 1356.8,421.0 1357.0,423.1 1357.2,425.2 1357.4,427.3 1357.6,429.5 1357.8,431.8 1358.0,434.1 1358.2,436.5 1358.4,439.0 1358.6,441.5 1358.8,444.1 1359.0,446.8 1359.2,449.6 1359.4,452.4 1359.6,455.3 1359.8,458.3 1360.0,461.4 1360.2,464.6 1360.4,467.9 1360.6,471.2 1360.8,474.7 1361.0,478.3 1361.2,482.0 1361.4,485.7 1361.6,489.7 1361.8,493.7 1362.0,497.9 1362.2,502.2 1362.4,506.6 1362.6,511.2 1362.8,515.9 1363.0,520.9 1363.2,526.0 1363.4,531.3 1363.6,536.8 1363.8,542.5 1364.0,548.4 1364.2,554.6 1364.4,561.1 1364.6,567.8 1364.8,574.9 1365.0,582.3 1365.2,590.1 1365.4,598.3 1365.6,606.9 1365.8,616.1 1366.0,625.8 1366.2,636.2 1366.4,647.2 1366.6,659.1 1366.8,672.0 1367.0,686.0 1367.2,701.3 1367.4,718.3 1367.6,737.2 1367.8,739.8 1368.0,739.8 1368.2,739.8 1368.4,739.8 1368.6,739.8 1368.8,739.8 1369.0,739.8 1369.2,739.8 1369.2,739.8 1369.4,739.8 1369.6,739.8 1369.8,739.8 1370.0,739.8 1370.2,739.8 1370.4,739.8 1370.6,739.8 1370.8,737.5 1371.0,719.1 1371.2,702.7 1371.4,688.0 1371.6,674.5 1371.8,662.2 1372.0,650.8 1372.2,640.3 1372.4,630.5 1372.6,621.3 1372.8,612.7 1373.0,604.6 1373.2,597.0 1373.4,589.8 1373.6,582.9 1373.8,576.4 1374.0,570.2 1374.2,564.3 1374.4,558.7 1374.6,553.3 1374.8,548.1 1375.0,543.2 1375.2,538.5 1375.4,533.9 1375.6,529.5 1375.8,525.4 1376.0,521.3 1376.2,517.4 1376.4,513.7 1376.6,510.1 1376.8,506.6 1377.0,503.3 1377.2,500.1 1377.4,497.0 1377.6,494.0 1377.8,491.1 1378.0,488.3 1378.2,485.6 1378.4,483.0 1378.6,480.5 1378.8,478.1 1379.0,475.7 1379.2,473.5 1379.4,471.3 1379.6,469.2 1379.8,467.2 1380.0,465.2 1380.2,463.3 1380.4,461.5 1380.6,459.7 1380.8,458.1 1381.0,456.4 1381.2,454.9 1381.4,453.4 1381.6,451.9 1381.8,450.6 1382.0,449.2 1382.2,448.0 1382.4,446.7 1382.6,445.6 1382.8,444.5 1383.0,443.4 1383.2,442.4 1383.4,441.5 1383.6,440.6 1383.8,439.7 1384.0,438.9 1384.2,438.1 1384.4,437.4 1384.6,436.7 1384.8,436.1 1385.0,435.5 1385.2,435.0 1385.4,434.5 1385.6,434.1 1385.8,433.7 1386.0,433.3 1386.2,433.0 1386.4,432.7 1386.6,432.5 1386.8,432.3 1387.0,432.2 1387.2,432.1 1387.4,432.0 1387.6,432.0 1387.8,432.0 1388.0,432.1 1388.2,432.2 1388.4,432.3 1388.6,432.5 1388.8,432.7 1389.0,433.0 1389.2,433.3 1389.4,433.6 1389.6,434.0 1389.8,434.4 1390.0,434.9 1390.2,435.4 1390.4,436.0 1390.6,436.6 1390.8,437.2 1391.0,437.9 1391.2,438.6 1391.4,439.4 1391.6,440.2 1391.8,441.0 1392.0,441.9 1392.2,442.9 1392.4,443.8 1392.6,444.9 1392.8,445.9 1393.0,447.0 1393.2,448.2 1393.4,449.4 1393.6,450.7 1393.8,452.0 1394.0,453.3 1394.2,454.7 1394.4,456.2 1394.6,457.7 1394.8,459.2 1395.0,460.8 1395.2,462.5 1395.4,464.2 1395.6,466.0 1395.8,467.8 1396.0,469.7 1396.2,471.6 1396.4,473.6 1396.6,475.7 1396.8,477.8 1397.0,480.0 1397.2,482.2 1397.4,484.6 1397.6,486.9 1397.8,489.4 1398.0,491.9 1398.2,494.6 1398.4,497.2 1398.6,500.0 1398.8,502.9 1399.0,505.8 1399.2,508.8 1399.4,512.0 1399.6,515.2 1399.8,518.5 1400.0,521.9 1400.2,525.4 1400.4,529.1 1400.6,532.8 1400.8,536.7 1401.0,540.7 1401.2,544.8 1401.4,549.1 1401.6,553.5 1401.8,558.1 1402.0,562.9 1402.2,567.8 1402.4,572.9 1402.6,578.2 1402.8,583.7 1403.0,589.5 1403.2,595.4 1403.4,601.7 1403.6,608.2 1403.8,615.0 1404.0,622.2 1404.2,629.7 1404.4,637.6 1404.6,645.9 1404.8,654.8 1405.0,664.1 1405.2,674.1 1405.4,684.7 1405.6,696.1 1405.8,708.4 1406.0,721.7 1406.2,736.3 1406.4,752.3 1406.6,770.1 1406.8,790.2 1407.0,813.1 1407.2,839.8 1407.4,872.0 1407.6,912.2 1407.8,957.8 1408.0,957.8 1408.2,957.8 1408.3,957.8 1408.4,957.8 1408.6,957.8 1408.8,957.8 1409.0,909.5 1409.2,869.7 1409.4,838.0 1409.6,811.7 1409.8,789.2 1410.0,769.6 1410.2,752.2 1410.4,736.6 1410.6,722.4 1410.8,709.5 1411.0,697.7 1411.2,686.7 1411.4,676.5 1411.6,666.9 1411.8,658.0 1412.0,649.6 1412.2,641.7 1412.4,634.2 1412.6,627.2 1412.8,620.4 1413.0,614.1 1413.2,608.0 1413.4,602.2 1413.6,596.6 1413.8,591.3 1414.0,586.2 1414.2,581.4 1414.4,576.7 1414.6,572.2 1414.8,567.9 1415.0,563.8 1415.2,559.8 1415.4,555.9 1415.6,552.2 1415.8,548.7 1416.0,545.3 1416.2,542.0 1416.4,538.8 1416.6,535.7 1416.8,532.7 1417.0,529.9 1417.2,527.1 1417.4,524.4 1417.6,521.8 1417.8,519.4 1418.0,517.0 1418.2,514.7 1418.4,512.4 1418.6,510.3 1418.8,508.2 1419.0,506.2 1419.2,504.3 1419.4,502.4 1419.6,500.6 1419.8,498.9 1420.0,497.2 1420.2,495.6 1420.4,494.1 1420.6,492.6 1420.8,491.2 1421.0,489.9 1421.2,488.6 1421.4,487.3 1421.6,486.2 1421.8,485.0 1422.0,483.9 1422.2,482.9 1422.4,482.0 1422.6,481.0 1422.8,480.2 1423.0,479.4 1423.2,478.6 1423.4,477.9 1423.6,477.2 1423.8,476.6 1424.0,476.0 1424.2,475.5 1424.4,475.0 1424.6,474.5 1424.8,474.1 1425.0,473.8 1425.2,473.5 1425.4,473.2 1425.6,473.0 1425.8,472.9 1426.0,472.7 1426.2,472.6 1426.4,472.6 1426.6,472.6 1426.8,472.7 1427.0,472.7 1427.2,472.9 1427.4,473.1 1427.6,473.3 1427.8,473.5 1428.0,473.8 1428.2,474.2 1428.4,474.6 1428.6,475.0 1428.8,475.5 1429.0,476.0 1429.2,476.6 1429.4,477.2 1429.6,477.9 1429.8,478.6 1430.0,479.3 1430.2,480.1 1430.4,480.9 1430.6,481.8 1430.8,482.7 1431.0,483.7 1431.2,484.7 1431.4,485.8 1431.6,486.9 1431.8,488.1 1432.0,489.3 1432.2,490.6 1432.4,491.9 1432.6,493.3 1432.8,494.7 1433.0,496.2 1433.2,497.7 1433.4,499.3 1433.6,500.9 1433.8,502.6 1434.0,504.4 1434.2,506.2 1434.4,508.1 1434.6,510.0 1434.8,512.0 1435.0,514.1 1435.2,516.2 1435.4,518.4 1435.6,520.7 1435.8,523.0 1436.0,525.4 1436.2,527.9 1436.4,530.5 1436.6,533.2 1436.8,535.9 1437.0,538.7 1437.2,541.6 1437.4,544.6 1437.6,547.7 1437.8,550.9 1438.0,554.2 1438.2,557.6 1438.4,561.1 1438.6,564.7 1438.8,568.5 1439.0,572.3 1439.2,576.3 1439.4,580.5 1439.6,584.8 1439.8,589.2 1440.0,593.8 1440.2,598.6 1440.4,603.5 1440.6,608.7 1440.8,614.0 1441.0,619.6 1441.2,625.4 1441.4,631.4 1441.6,637.8 1441.8,644.4 1442.0,651.3 1442.2,658.6 1442.4,666.2 1442.6,674.3 1442.8,682.8 1443.0,691.8 1443.2,701.4 1443.4,711.7 1443.6,722.6 1443.8,734.4 1444.0,747.2 1444.2,761.0 1444.4,776.2 1444.6,793.1 1444.8,811.9 1445.0,833.2 1445.2,857.9 1445.4,887.0 1445.6,922.7 1445.8,968.7 1446.0,989.7 1446.2,989.7 1446.4,989.7 1446.4,989.7 1446.6,989.7 1446.8,989.7 1447.0,970.9 1447.2,925.3 1447.4,890.0 1447.6,861.1 1447.8,836.8 1448.0,815.8 1448.2,797.3 1448.4,780.8 1448.6,766.0 1448.8,752.4 1449.0,740.0 1449.2,728.6 1449.4,717.9 1449.6,708.0 1449.8,698.8 1450.0,690.1 1450.2,681.9 1450.4,674.2 1450.6,666.8 1450.8,659.9 1451.0,653.3 1451.2,647.0 1451.4,641.0 1451.6,635.3 1451.8,629.8 1452.0,624.6 1452.2,619.6 1452.4,614.8 1452.6,610.1 1452.8,605.7 1453.0,601.4 1453.2,597.3 1453.4,593.4 1453.6,589.5 1453.8,585.9 1454.0,582.3 1454.2,578.9 1454.4,575.6 1454.6,572.4 1454.8,569.4 1455.0,566.4 1455.2,563.5 1455.4,560.8 1455.6,558.1 1455.8,555.5 1456.0,553.0 1456.2,550.6 1456.4,548.3 1456.6,546.1 1456.8,543.9 1457.0,541.8 1457.2,539.8 1457.4,537.8 1457.6,536.0 1457.8,534.2 1458.0,532.4 1458.2,530.7 1458.4,529.1 1458.6,527.6 1458.8,526.1 1459.0,524.6 1459.2,523.3 1459.4,521.9 1459.6,520.7 1459.8,519.5 1460.0,518.3 1460.2,517.2 1460.4,516.1 1460.6,515.1 1460.8,514.2 1461.0,513.3 1461.2,512.5 1461.4,511.6 1461.6,510.9 1461.8,510.2 1462.0,509.5 1462.2,508.9 1462.4,508.3 1462.6,507.8 1462.8,507.4 1463.0,506.9 1463.2,506.5 1463.4,506.2 1463.6,505.9 1463.8,505.6 1464.0,505.4 1464.2,505.3 1464.4,505.1 1464.6,505.1 1464.8,505.0 1465.0,505.0 1465.2,505.1 1465.4,505.2 1465.6,505.3 1465.8,505.5 1466.0,505.7 1466.2,505.9 1466.4,506.2 1466.6,506.6 1466.8,507.0 1467.0,507.4 1467.2,507.9 1467.4,508.4 1467.6,508.9 1467.8,509.5 1468.0,510.2 1468.2,510.9 1468.4,511.6 1468.6,512.4 1468.8,513.2 1469.0,514.1 1469.2,515.0 1469.4,516.0 1469.6,517.0 1469.8,518.1 1470.0,519.2 1470.2,520.3 1470.4,521.5 1470.6,522.8 1470.8,524.1 1471.0,525.4 1471.2,526.8 1471.4,528.3 1471.6,529.8 1471.8,531.4 1472.0,533.0 1472.2,534.7 1472.4,536.4 1472.6,538.2 1472.8,540.1 1473.0,542.0 1473.2,544.0 1473.4,546.1 1473.6,548.2 1473.8,550.3 1474.0,552.6 1474.2,554.9 1474.4,557.3 1474.6,559.8 1474.8,562.3 1475.0,565.0 1475.2,567.7 1475.4,570.5 1475.6,573.4 1475.8,576.3 1476.0,579.4 1476.2,582.6 1476.4,585.8 1476.6,589.2 1476.8,592.7 1477.0,596.3 1477.2,600.0 1477.4,603.9 1477.6,607.9 1477.8,612.0 1478.0,616.2 1478.2,620.7 1478.4,625.2 1478.6,630.0 1478.8,634.9 1479.0,640.0 1479.2,645.4 1479.4,650.9 1479.6,656.7 1479.8,662.7 1480.0,669.0 1480.2,675.6 1480.4,682.5 1480.6,689.7 1480.8,697.4 1481.0,705.4 1481.2,713.9 1481.4,722.9 1481.6,732.5 1481.8,742.7 1482.0,753.6 1482.2,765.4 1482.4,778.1 1482.6,791.9 1482.8,807.1 1483.0,823.9 1483.2,842.7 1483.4,850.3 1483.6,850.3 1483.8,850.3 1484.0,850.3 1484.2,850.3 1484.4,850.3 1484.6,850.3 1484.8,850.3 1484.8,850.3 1485.0,850.3 1485.2,850.3 1485.4,850.3 1485.6,850.3 1485.8,850.3 1486.0,850.3 1486.2,850.3 1486.4,850.3 1486.6,836.3 1486.8,819.8 1487.0,804.9 1487.2,791.3 1487.4,778.8 1487.6,767.3 1487.8,756.6 1488.0,746.7 1488.2,737.3 1488.4,728.6 1488.6,720.3 1488.8,712.5 1489.0,705.1 1489.2,698.1 1489.4,691.4 1489.6,685.1 1489.8,679.0 1490.0,673.2 1490.2,667.7 1490.4,662.3 1490.6,657.2 1490.8,652.3 1491.0,647.6 1491.2,643.1 1491.4,638.7 1491.6,634.5 1491.8,630.5 1492.0,626.6 1492.2,622.8 1492.4,619.2 1492.6,615.6 1492.8,612.2 1493.0,609.0 1493.2,605.8 1493.4,602.7 1493.6,599.7 1493.8,596.8 1494.0,594.1 1494.2,591.4 1494.4,588.8 1494.6,586.2 1494.8,583.8 1495.0,581.4 1495.2,579.1 1495.4,576.9 1495.6,574.7 1495.8,572.7 1496.0,570.6 1496.2,568.7 1496.4,566.8 1496.6,565.0 1496.8,563.2 1497.0,561.5 1497.2,559.9 1497.4,558.3 1497.6,556.8 1497.8,555.3 1498.0,553.9 1498.2,552.5 1498.4,551.2 1498.6,549.9 1498.8,548.7 1499.0,547.5 1499.2,546.4 1499.4,545.3 1499.6,544.2 1499.8,543.3 1500.0,542.3 1500.2,541.4 1500.4,540.6 1500.6,539.7 1500.8,539.0 1501.0,538.3 1501.2,537.6 1501.4,536.9 1501.6,536.3 1501.8,535.8 1502.0,535.2 1502.2,534.8 1502.4,534.3 1502.6,533.9 1502.8,533.5 1503.0,533.2 1503.2,532.9 1503.4,532.7 1503.6,532.5 1503.8,532.3 1504.0,532.2 1504.2,532.1 1504.4,532.0 1504.6,532.0 1504.8,532.0 1505.0,532.1 1505.2,532.2 1505.4,532.3 1505.6,532.5 1505.8,532.7 1506.0,532.9 1506.2,533.2 1506.4,533.5 1506.6,533.9 1506.8,534.3 1507.0,534.7 1507.2,535.2 1507.4,535.7 1507.6,536.2 1507.8,536.8 1508.0,537.4 1508.2,538.1 1508.4,538.8 1508.6,539.6 1508.8,540.3 1509.0,541.2 1509.2,542.0 1509.4,542.9 1509.6,543.9 1509.8,544.9 1510.0,545.9 1510.2,547.0 1510.4,548.1 1510.6,549.3 1510.8,550.5 1511.0,551.7 1511.2,553.0 1511.4,554.4 1511.6,555.8 1511.8,557.2 1512.0,558.7 1512.2,560.2 1512.4,561.8 1512.6,563.5 1512.8,565.2 1513.0,566.9 1513.2,568.7 1513.4,570.6 1513.6,572.5 1513.8,574.5 1514.0,576.5 1514.2,578.6 1514.4,580.8 1514.6,583.0 1514.8,585.3 1515.0,587.6 1515.2,590.1 1515.4,592.6 1515.6,595.1 1515.8,597.8 1516.0,600.5 1516.2,603.3 1516.4,606.2 1516.6,609.2 1516.8,612.3 1517.0,615.5 1517.2,618.7 1517.4,622.1 1517.6,625.6 1517.8,629.2 1518.0,632.9 1518.2,636.7 1518.4,640.6 1518.6,644.7 1518.8,648.9 1519.0,653.3 1519.2,657.8 1519.4,662.5 1519.6,667.4 1519.8,672.4 1520.0,677.7 1520.2,683.1 1520.4,688.8 1520.6,694.7 1520.8,700.9 1521.0,707.4 1521.2,714.1 1521.4,721.2 1521.6,728.6 1521.8,736.5 1522.0,744.7 1522.2,753.5 1522.4,762.8 1522.6,772.6 1522.8,783.2 1523.0,794.5 1523.2,806.7 1523.4,820.0 1523.6,834.5 1523.8,850.4 1524.0,868.1 1524.2,888.1 1524.4,910.9 1524.6,937.6 1524.8,969.6 1525.0,1009.7 1525.2,1054.7 1525.4,1054.7 1525.6,1054.7 1525.7,1054.7 1525.8,1054.7 1526.0,1054.7 1526.2,1051.9 1526.4,998.4 1526.6,958.6 1526.8,926.8 1527.0,900.3 1527.2,877.8 1527.4,858.1 1527.6,840.6 1527.8,824.9 1528.0,810.7 1528.2,797.7 1528.4,785.7 1528.6,774.7 1528.8,764.4 1529.0,754.8 1529.2,745.8 1529.4,737.3 1529.6,729.3 1529.8,721.7 1530.0,714.6 1530.2,707.8 1530.4,701.3 1530.6,695.1 1530.8,689.2 1531.0,683.6 1531.2,678.2 1531.4,673.1 1531.6,668.1 1531.8,663.4 1532.0,658.8 1532.2,654.4 1532.4,650.2 1532.6,646.1 1532.8,642.2 1533.0,638.5 1533.2,634.8 1533.4,631.3 1533.6,627.9 1533.8,624.7 1534.0,621.5 1534.2,618.5 1534.4,615.5 1534.6,612.7 1534.8,610.0 1535.0,607.3 1535.2,604.8 1535.4,602.3 1535.6,599.9 1535.8,597.6 1536.0,595.4 1536.2,593.2 1536.4,591.1 1536.6,589.1 1536.8,587.2 1537.0,585.4 1537.2,583.6 1537.4,581.8 1537.6,580.2 1537.8,578.6 1538.0,577.0 1538.2,575.6 1538.4,574.1 1538.6,572.8 1538.8,571.5 1539.0,570.2 1539.2,569.0 1539.4,567.9 1539.6,566.8 1539.8,565.8 1540.0,564.8 1540.2,563.9 1540.4,563.0 1540.6,562.1 1540.8,561.4 1541.0,560.6 1541.2,559.9 1541.4,559.3 1541.6,558.7 1541.8,558.2 1542.0,557.7 1542.2,557.2 1542.4,556.8 1542.6,556.4 1542.8,556.1 1543.0,555.9 1543.2,555.6 1543.4,555.4 1543.6,555.3 1543.8,555.2 1544.0,555.2 1544.2,555.2 1544.4,555.2 1544.6,555.3 1544.8,555.4 1545.0,555.6 1545.2,555.8 1545.4,556.0 1545.6,556.3 1545.8,556.7 1546.0,557.1 1546.2,557.5 1546.4,558.0 1546.6,558.5 1546.8,559.1 1547.0,559.7 1547.2,560.3 1547.4,561.0 1547.6,561.8 1547.8,562.6 1548.0,563.4 1548.2,564.3 1548.4,565.2 1548.6,566.2 1548.8,567.3 1549.0,568.4 1549.2,569.5 1549.4,570.7 1549.6,571.9 1549.8,573.2 1550.0,574.5 1550.2,575.9 1550.4,577.4 1550.6,578.9 1550.8,580.4 1551.0,582.1 1551.2,583.7 1551.4,585.5 1551.6,587.3 1551.8,589.1 1552.0,591.0 1552.2,593.0 1552.4,595.1 1552.6,597.2 1552.8,599.4 1553.0,601.7 1553.2,604.0 1553.4,606.4 1553.6,608.9 1553.8,611.5 1554.0,614.1 1554.2,616.9 1554.4,619.7 1554.6,622.6 1554.8,625.6 1555.0,628.8 1555.2,632.0 1555.4,635.3 1555.6,638.7 1555.8,642.3 1556.0,646.0 1556.2,649.8 1556.4,653.7 1556.6,657.8 1556.8,662.0 1557.0,666.3 1557.2,670.9 1557.4,675.6 1557.6,680.5 1557.8,685.5 1558.0,690.8 1558.2,696.3 1558.4,702.0 1558.6,708.0 1558.8,714.3 1559.0,720.8 1559.2,727.7 1559.4,734.9 1559.6,742.5 1559.8,750.5 1560.0,758.9 1560.2,767.9 1560.4,777.4 1560.6,787.6 1560.8,798.5 1561.0,810.2 1561.2,822.9 1561.4,836.7 1561.6,851.8 1561.8,868.6 1562.0,887.3 1562.2,908.6 1562.4,933.2 1562.6,962.3 1562.8,997.9 1563.0,1043.8 1563.2,1067.4 1563.4,1067.4 1563.6,1067.4 1563.6,1067.4 1563.8,1067.4 1564.0,1067.4 1564.2,1049.8 1564.4,1004.1 1564.6,968.7 1564.8,939.8 1565.0,915.4 1565.2,894.4 1565.4,875.8 1565.6,859.3 1565.8,844.3 1566.0,830.7 1566.2,818.2 1566.4,806.7 1566.6,796.0 1566.8,786.0 1567.0,776.7 1567.2,767.9 1567.4,759.7 1567.6,751.9 1567.8,744.5 1568.0,737.4 1568.2,730.8 1568.4,724.4 1568.6,718.3 1568.8,712.5 1569.0,707.0 1569.2,701.7 1569.4,696.6 1569.6,691.7 1569.8,687.0 1570.0,682.5 1570.2,678.1 1570.4,673.9 1570.6,669.9 1570.8,666.0 1571.0,662.2 1571.2,658.6 1571.4,655.1 1571.6,651.7 1571.8,648.5 1572.0,645.3 1572.2,642.3 1572.4,639.3 1572.6,636.5 1572.8,633.7 1573.0,631.0 1573.2,628.4 1573.4,626.0 1573.6,623.5 1573.8,621.2 1574.0,618.9 1574.2,616.8 1574.4,614.7 1574.6,612.6 1574.8,610.6 1575.0,608.7 1575.2,606.9 1575.4,605.1 1575.6,603.4 1575.8,601.8 1576.0,600.2 1576.2,598.6 1576.4,597.2 1576.6,595.7 1576.8,594.4 1577.0,593.0 1577.2,591.8 1577.4,590.6 1577.6,589.4 1577.8,588.3 1578.0,587.3 1578.2,586.3 1578.4,585.3 1578.6,584.4 1578.8,583.5 1579.0,582.7 1579.2,581.9 1579.4,581.2 1579.6,580.5 1579.8,579.9 1580.0,579.3 1580.2,578.7 1580.4,578.2 1580.6,577.8 1580.8,577.3 1581.0,577.0 1581.2,576.6 1581.4,576.3 1581.6,576.1 1581.8,575.9 1582.0,575.7 1582.2,575.6 1582.4,575.5 1582.6,575.4 1582.8,575.4 1583.0,575.5 1583.2,575.5 1583.4,575.7 1583.6,575.8 1583.8,576.0 1584.0,576.3 1584.2,576.5 1584.4,576.9 1584.6,577.2 1584.8,577.6 1585.0,578.1 1585.2,578.6 1585.4,579.1 1585.6,579.7 1585.8,580.3 1586.0,580.9 1586.2,581.6 1586.4,582.4 1586.6,583.2 1586.8,584.0 1587.0,584.9 1587.2,585.8 1587.4,586.8 1587.6,587.8 1587.8,588.9 1588.0,590.0 1588.2,591.1 1588.4,592.3 1588.6,593.6 1588.8,594.9 1589.0,596.2 1589.2,597.6 1589.4,599.1 1589.6,600.6 1589.8,602.1 1590.0,603.8 1590.2,605.4 1590.4,607.2 1590.6,608.9 1590.8,610.8 1591.0,612.7 1591.2,614.7 1591.4,616.7 1591.6,618.8 1591.8,621.0 1592.0,623.2 1592.2,625.5 1592.4,627.9 1592.6,630.3 1592.8,632.9 1593.0,635.5 1593.2,638.2 1593.4,640.9 1593.6,643.8 1593.8,646.8 1594.0,649.8 1594.2,653.0 1594.4,656.2 1594.6,659.5 1594.8,663.0 1595.0,666.6 1595.2,670.3 1595.4,674.1 1595.6,678.0 1595.8,682.1 1596.0,686.4 1596.2,690.8 1596.4,695.3 1596.6,700.0 1596.8,704.9 1597.0,710.0 1597.2,715.3 1597.4,720.8 1597.6,726.5 1597.8,732.5 1598.0,738.8 1598.2,745.4 1598.4,752.2 1598.6,759.4 1598.8,767.0 1599.0,775.0 1599.2,783.5 1599.4,792.4 1599.6,802.0 1599.8,812.1 1600.0,823.0 1600.2,834.7 1600.4,847.4 1600.6,861.2 1600.8,876.4 1601.0,893.1 1601.2,911.9 1601.4,913.8 1601.6,913.8 1601.8,913.8 1602.0,913.8 1602.2,913.8 1602.4,913.8 1602.6,913.8 1602.8,913.8 1602.8,913.8 1603.0,913.8 1603.2,913.8 1603.4,913.8 1603.6,913.8 1603.8,913.8 1604.0,913.8 1604.2,913.8 1604.4,913.8 1604.6,898.0 1604.8,881.4 1605.0,866.4 1605.2,852.8 1605.4,840.3 1605.6,828.7 1605.8,818.0 1606.0,808.0 1606.2,798.7 1606.4,789.9 1606.6,781.6 1606.8,773.8 1607.0,766.4 1607.2,759.3 1607.4,752.6 1607.6,746.2 1607.8,740.1 1608.0,734.3 1608.2,728.7 1608.4,723.4 1608.6,718.3 1608.8,713.3 1609.0,708.6 1609.2,704.1 1609.4,699.7 1609.6,695.5 1609.8,691.4 1610.0,687.5 1610.2,683.7 1610.4,680.0 1610.6,676.5 1610.8,673.1 1611.0,669.8 1611.2,666.6 1611.4,663.5 1611.6,660.5 1611.8,657.6 1612.0,654.8 1612.2,652.1 1612.4,649.5 1612.6,646.9 1612.8,644.5 1613.0,642.1 1613.2,639.8 1613.4,637.6 1613.6,635.4 1613.8,633.3 1614.0,631.3 1614.2,629.4 1614.4,627.5 1614.6,625.7 1614.8,623.9 1615.0,622.2 1615.2,620.6 1615.4,619.0 1615.6,617.4 1615.8,616.0 1616.0,614.5 1616.2,613.2 1616.4,611.9 1616.6,610.6 1616.8,609.4 1617.0,608.2 1617.2,607.1 1617.4,606.0 1617.6,605.0 1617.8,604.0 1618.0,603.1 1618.2,602.2 1618.4,601.4 1618.6,600.6 1618.8,599.9 1619.0,599.1 1619.2,598.5 1619.4,597.9 1619.6,597.3 1619.8,596.7 1620.0,596.3 1620.2,595.8 1620.4,595.4 1620.6,595.0 1620.8,594.7 1621.0,594.4 1621.2,594.1 1621.4,593.9 1621.6,593.8 1621.8,593.6 1622.0,593.5 1622.2,593.5 1622.4,593.5 1622.6,593.5 1622.8,593.6 1623.0,593.7 1623.2,593.8 1623.4,594.0 1623.6,594.2 1623.8,594.5 1624.0,594.8 1624.2,595.1 1624.4,595.5 1624.6,595.9 1624.8,596.4 1625.0,596.9 1625.2,597.4 1625.4,598.0 1625.6,598.6 1625.8,599.3 1626.0,600.0 1626.2,600.8 1626.4,601.6 1626.6,602.4 1626.8,603.3 1627.0,604.2 1627.2,605.1 1627.4,606.2 1627.6,607.2 1627.8,608.3 1628.0,609.5 1628.2,610.6 1628.4,611.9 1628.6,613.2 1628.8,614.5 1629.0,615.9 1629.2,617.3 1629.4,618.8 1629.6,620.3 1629.8,621.9 1630.0,623.6 1630.2,625.3 1630.4,627.0 1630.6,628.9 1630.8,630.7 1631.0,632.7 1631.2,634.7 1631.4,636.7 1631.6,638.8 1631.8,641.0 1632.0,643.3 1632.2,645.6 1632.4,648.0 1632.6,650.5 1632.8,653.0 1633.0,655.6 1633.2,658.4 1633.4,661.1 1633.6,664.0 1633.8,667.0 1634.0,670.1 1634.2,673.2 1634.4,676.5 1634.6,679.8 1634.8,683.3 1635.0,686.9 1635.2,690.6 1635.4,694.4 1635.6,698.4 1635.8,702.5 1636.0,706.7 1636.2,711.1 1636.4,715.7 1636.6,720.4 1636.8,725.3 1637.0,730.4 1637.2,735.7 1637.4,741.2 1637.6,747.0 1637.8,752.9 1638.0,759.2 1638.2,765.8 1638.4,772.6 1638.6,779.8 1638.8,787.4 1639.0,795.4 1639.2,803.9 1639.4,812.9 1639.6,822.4 1639.8,832.5 1640.0,843.4 1640.2,855.1 1640.4,867.8 1640.6,881.6 1640.8,896.8 1641.0,913.5 1641.2,932.2 1641.4,953.5 1641.6,978.1 1641.8,1007.1 1642.0,1042.7 1642.2,1088.6 1642.4,1110.6 1642.6,1110.6 1642.8,1110.6 1642.8,1110.6 1643.0,1110.6 1643.2,1110.6 1643.4,1081.4 1643.6,1035.7 1643.8,1000.2 1644.0,971.3 1644.2,947.0 1644.4,925.9 1644.6,907.3 1644.8,890.7 1645.0,875.8 1645.2,862.2 1645.4,849.7 1645.6,838.1 1645.8,827.4 1646.0,817.5 1646.2,808.1 1646.4,799.3 1646.6,791.1 1646.8,783.3 1647.0,775.9 1647.2,768.9 1647.4,762.2 1647.6,755.8 1647.8,749.8 1648.0,744.0 1648.2,738.4 1648.4,733.1 1648.6,728.0 1648.8,723.1 1649.0,718.5 1649.2,713.9 1649.4,709.6 1649.6,705.4 1649.8,701.4 1650.0,697.5 1650.2,693.8 1650.4,690.2 1650.6,686.7 1650.8,683.3 1651.0,680.1 1651.2,676.9 1651.4,673.9 1651.6,671.0 1651.8,668.1 1652.0,665.4 1652.2,662.7 1652.4,660.2 1652.6,657.7 1652.8,655.3 1653.0,653.0 1653.2,650.8 1653.4,648.6 1653.6,646.6 1653.8,644.6 1654.0,642.6 1654.2,640.7 1654.4,638.9 1654.6,637.2 1654.8,635.5 1655.0,633.9 1655.2,632.4 1655.4,630.9 1655.6,629.4 1655.8,628.1 1656.0,626.7 1656.2,625.5 1656.4,624.3 1656.6,623.1 1656.8,622.0 1657.0,620.9 1657.2,619.9 1657.4,619.0 1657.6,618.1 1657.8,617.2 1658.0,616.4 1658.2,615.7 1658.4,614.9 1658.6,614.3 1658.8,613.7 1659.0,613.1 1659.2,612.6 1659.4,612.1 1659.6,611.7 1659.8,611.3 1660.0,610.9 1660.2,610.6 1660.4,610.4 1660.6,610.2 1660.8,610.0 1661.0,609.9 1661.2,609.8 1661.4,609.7 1661.6,609.7 1661.8,609.8 1662.0,609.9 1662.2,610.0 1662.4,610.2 1662.6,610.4 1662.8,610.7 1663.0,611.0 1663.2,611.4 1663.4,611.7 1663.6,612.2 1663.8,612.7 1664.0,613.2 1664.2,613.8 1664.4,614.4 1664.6,615.1 1664.8,615.8 1665.0,616.5 1665.2,617.3 1665.4,618.2 1665.6,619.1 1665.8,620.0 1666.0,621.0 1666.2,622.1 1666.4,623.1 1666.6,624.3 1666.8,625.5 1667.0,626.7 1667.2,628.0 1667.4,629.4 1667.6,630.8 1667.8,632.2 1668.0,633.7 1668.2,635.3 1668.4,636.9 1668.6,638.6 1668.8,640.4 1669.0,642.2 1669.2,644.0 1669.4,646.0 1669.6,648.0 1669.8,650.0 1670.0,652.2 1670.2,654.4 1670.4,656.7 1670.6,659.0 1670.8,661.4 1671.0,663.9 1671.2,666.5 1671.4,669.2 1671.6,672.0 1671.8,674.8 1672.0,677.8 1672.2,680.8 1672.4,684.0 1672.6,687.2 1672.8,690.6 1673.0,694.0 1673.2,697.6 1673.4,701.3 1673.6,705.2 1673.8,709.1 1674.0,713.3 1674.2,717.5 1674.4,721.9 1674.6,726.5 1674.8,731.3 1675.0,736.2 1675.2,741.4 1675.4,746.8 1675.6,752.3 1675.8,758.2 1676.0,764.3 1676.2,770.6 1676.4,777.3 1676.6,784.3 1676.8,791.7 1677.0,799.4 1677.2,807.6 1677.4,816.3 1677.6,825.5 1677.8,835.3 1678.0,845.8 1678.2,857.1 1678.4,869.2 1678.6,882.4 1678.8,896.8 1679.0,912.7 1679.2,930.4 1679.4,950.3 1679.6,973.1 1679.8,999.7 1680.0,1031.7 1680.2,1071.8 1680.4,1125.4 1680.6,1133.3 1680.8,1133.3 1680.9,1133.3 1681.0,1133.3 1681.2,1133.3 1681.4,1133.3 1681.6,1082.0 1681.8,1042.1 1682.0,1010.3 1682.2,983.8 1682.4,961.1 1682.6,941.4 1682.8,923.8 1683.0,908.1 1683.2,893.8 1683.4,880.7 1683.6,868.7 1683.8,857.6 1684.0,847.2 1684.2,837.5 1684.4,828.4 1684.6,819.9 1684.8,811.8 1685.0,804.2 1685.2,796.9 1685.4,790.0 1685.6,783.5 1685.8,777.2 1686.0,771.2 1686.2,765.5 1686.4,760.0 1686.6,754.7 1686.8,749.7 1687.0,744.8 1687.2,740.2 1687.4,735.7 1687.6,731.4 1687.8,727.2 1688.0,723.2 1688.2,719.3 1688.4,715.5 1688.6,711.9 1688.8,708.4 1689.0,705.0 1689.2,701.7 1689.4,698.6 1689.6,695.5 1689.8,692.5 1690.0,689.6 1690.2,686.9 1690.4,684.2 1690.6,681.5 1690.8,679.0 1691.0,676.6 1691.2,674.2 1691.4,671.9 1691.6,669.7 1691.8,667.5 1692.0,665.4 1692.2,663.4 1692.4,661.5 1692.6,659.6 1692.8,657.7 1693.0,656.0 1693.2,654.3 1693.4,652.6 1693.6,651.0 1693.8,649.5 1694.0,648.0 1694.2,646.5 1694.4,645.2 1694.6,643.8 1694.8,642.5 1695.0,641.3 1695.2,640.1 1695.4,639.0 1695.6,637.9 1695.8,636.9 1696.0,635.9 1696.2,634.9 1696.4,634.0 1696.6,633.1 1696.8,632.3 1697.0,631.6 1697.2,630.8 1697.4,630.1 1697.6,629.5 1697.8,628.9 1698.0,628.3 1698.2,627.8 1698.4,627.3 1698.6,626.9 1698.8,626.4 1699.0,626.1 1699.2,625.8 1699.4,625.5 1699.6,625.2 1699.8,625.0 1700.0,624.8 1700.2,624.7 1700.4,624.6 1700.6,624.6 1700.8,624.5 1701.0,624.6 1701.2,624.6 1701.4,624.7 1701.6,624.9 1701.8,625.0 1702.0,625.2 1702.2,625.5 1702.4,625.8 1702.6,626.1 1702.8,626.5 1703.0,626.9 1703.2,627.3 1703.4,627.8 1703.6,628.4 1703.8,628.9 1704.0,629.5 1704.2,630.2 1704.4,630.9 1704.6,631.6 1704.8,632.4 1705.0,633.2 1705.2,634.0 1705.4,634.9 1705.6,635.8 1705.8,636.8 1706.0,637.8 1706.2,638.9 1706.4,640.0 1706.6,641.2 1706.8,642.4 1707.0,643.6 1707.2,644.9 1707.4,646.3 1707.6,647.7 1707.8,649.1 1708.0,650.6 1708.2,652.2 1708.4,653.8 1708.6,655.4 1708.8,657.1 1709.0,658.9 1709.2,660.7 1709.4,662.6 1709.6,664.5 1709.8,666.5 1710.0,668.6 1710.2,670.7 1710.4,672.9 1710.6,675.2 1710.8,677.5 1711.0,679.9 1711.2,682.4 1711.4,685.0 1711.6,687.6 1711.8,690.3 1712.0,693.1 1712.2,696.0 1712.4,698.9 1712.6,702.0 1712.8,705.2 1713.0,708.4 1713.2,711.8 1713.4,715.2 1713.6,718.8 1713.8,722.5 1714.0,726.4 1714.2,730.3 1714.4,734.4 1714.6,738.7 1714.8,743.0 1715.0,747.6 1715.2,752.3 1715.4,757.2 1715.6,762.3 1715.8,767.6 1716.0,773.1 1716.2,778.8 1716.4,784.8 1716.6,791.1 1716.8,797.6 1717.0,804.5 1717.2,811.7 1717.4,819.3 1717.6,827.3 1717.8,835.7 1718.0,844.7 1718.2,854.2 1718.4,864.3 1718.6,875.2 1718.8,886.9 1719.0,899.6 1719.2,913.4 1719.4,928.5 1719.6,945.2 1719.8,964.0 1720.0,971.0 1720.2,971.0 1720.4,971.0 1720.6,971.0 1720.8,971.0 1721.0,971.0 1721.2,971.0 1721.4,971.0 1721.4,971.0 1721.6,971.0 1721.8,971.0 1722.0,971.0 1722.2,971.0 1722.4,971.0 1722.6,971.0 1722.8,971.0 1723.0,956.6 1723.2,938.1 1723.4,921.5 1723.6,906.5 1723.8,892.9 1724.0,880.4 1724.2,868.8 1724.4,858.1 1724.6,848.1 1724.8,838.7 1725.0,829.9 1725.2,821.7 1725.4,813.8 1725.6,806.4 1725.8,799.4 1726.0,792.7 1726.2,786.3 1726.4,780.2 1726.6,774.4 1726.8,768.9 1727.0,763.5 1727.2,758.4 1727.4,753.5 1727.6,748.8 1727.8,744.3 1728.0,739.9 1728.2,735.7 1728.4,731.6 1728.6,727.7 1728.8,724.0 1729.0,720.3 1729.2,716.8 1729.4,713.4 1729.6,710.2 1729.8,707.0 1730.0,704.0 1730.2,701.0 1730.4,698.1 1730.6,695.4 1730.8,692.7 1731.0,690.1 1731.2,687.6 1731.4,685.2 1731.6,682.9 1731.8,680.6 1732.0,678.5 1732.2,676.3 1732.4,674.3 1732.6,672.3 1732.8,670.4 1733.0,668.6 1733.2,666.8 1733.4,665.1 1733.6,663.5 1733.8,661.9 1734.0,660.4 1734.2,658.9 1734.4,657.5 1734.6,656.2 1734.8,654.9 1735.0,653.6 1735.2,652.4 1735.4,651.3 1735.6,650.2 1735.8,649.2 1736.0,648.2 1736.2,647.2 1736.4,646.4 1736.6,645.5 1736.8,644.7 1737.0,644.0 1737.2,643.3 1737.4,642.6 1737.6,642.0 1737.8,641.5 1738.0,640.9 1738.2,640.5 1738.4,640.0 1738.6,639.7 1738.8,639.3 1739.0,639.0 1739.2,638.8 1739.4,638.6 1739.6,638.4 1739.8,638.3 1740.0,638.2 1740.2,638.1 1740.4,638.1 1740.6,638.2 1740.8,638.3 1741.0,638.4 1741.2,638.6 1741.4,638.8 1741.6,639.1 1741.8,639.4 1742.0,639.7 1742.2,640.1 1742.4,640.5 1742.6,641.0 1742.8,641.5 1743.0,642.1 1743.2,642.7 1743.4,643.4 1743.6,644.1 1743.8,644.8 1744.0,645.6 1744.2,646.4 1744.4,647.3 1744.6,648.2 1744.8,649.2 1745.0,650.2 1745.2,651.3 1745.4,652.4 1745.6,653.6 1745.8,654.8 1746.0,656.1 1746.2,657.4 1746.4,658.8 1746.6,660.2 1746.8,661.7 1747.0,663.3 1747.2,664.9 1747.4,666.5 1747.6,668.3 1747.8,670.0 1748.0,671.9 1748.2,673.8 1748.4,675.7 1748.6,677.8 1748.8,679.9 1749.0,682.1 1749.2,684.3 1749.4,686.6 1749.6,689.0 1749.8,691.5 1750.0,694.0 1750.2,696.7 1750.4,699.4 1750.6,702.2 1750.8,705.1 1751.0,708.1 1751.2,711.2 1751.4,714.4 1751.6,717.7 1751.8,721.1 1752.0,724.6 1752.2,728.2 1752.4,732.0 1752.6,735.9 1752.8,739.9 1753.0,744.1 1753.2,748.5 1753.4,753.0 1753.6,757.6 1753.8,762.5 1754.0,767.5 1754.2,772.8 1754.4,778.2 1754.6,783.9 1754.8,789.9 1755.0,796.1 1755.2,802.6 1755.4,809.4 1755.6,816.6 1755.8,824.2 1756.0,832.1 1756.2,840.6 1756.4,849.5 1756.6,859.0 1756.8,869.1 1757.0,880.0 1757.2,891.6 1757.4,904.3 1757.6,918.1 1757.8,933.2 1758.0,949.9 1758.2,968.6 1758.4,989.8 1758.6,1014.4 1758.8,1043.4 1759.0,1079.0 1759.2,1093.5 1759.4,1093.5 1759.6,1093.5 1759.8,1093.5 1759.8,1093.5 1760.0,1093.5 1760.2,1093.5 1760.4,1093.5 1760.6,1079.5 1760.8,1044.1 1761.0,1015.2 1761.2,990.8 1761.4,969.6 1761.6,951.1 1761.8,934.5 1762.0,919.5 1762.2,905.9 1762.4,893.3 1762.6,881.8 1762.8,871.1 1763.0,861.1 1763.2,851.7 1763.4,842.9 1763.6,834.6 1763.8,826.8 1764.0,819.4 1764.2,812.3 1764.4,805.6 1764.6,799.2 1764.8,793.2 1765.0,787.3 1765.2,781.8 1765.4,776.4 1765.6,771.3 1765.8,766.4 1766.0,761.7 1766.2,757.1 1766.4,752.8 1766.6,748.6 1766.8,744.5 1767.0,740.6 1767.2,736.8 1767.4,733.2 1767.6,729.7 1767.8,726.3 1768.0,723.0 1768.2,719.8 1768.4,716.8 1768.6,713.8 1768.8,711.0 1769.0,708.2 1769.2,705.5 1769.4,702.9 1769.6,700.4 1769.8,698.0 1770.0,695.7 1770.2,693.4 1770.4,691.2 1770.6,689.1 1770.8,687.1 1771.0,685.1 1771.2,683.2 1771.4,681.4 1771.6,679.6 1771.8,677.9 1772.0,676.2 1772.2,674.6 1772.4,673.1 1772.6,671.6 1772.8,670.2 1773.0,668.9 1773.2,667.6 1773.4,666.3 1773.6,665.1 1773.8,664.0 1774.0,662.9 1774.2,661.8 1774.4,660.9 1774.6,659.9 1774.8,659.0 1775.0,658.2 1775.2,657.4 1775.4,656.6 1775.6,655.9 1775.8,655.3 1776.0,654.7 1776.2,654.1 1776.4,653.6 1776.6,653.1 1776.8,652.7 1777.0,652.3 1777.2,651.9 1777.4,651.6 1777.6,651.4 1777.8,651.1 1778.0,651.0 1778.2,650.8 1778.4,650.8 1778.6,650.7 1778.8,650.7 1779.0,650.8 1779.2,650.8 1779.4,651.0 1779.6,651.1 1779.8,651.3 1780.0,651.6 1780.2,651.9 1780.4,652.2 1780.6,652.6 1780.8,653.1 1781.0,653.5 1781.2,654.0 1781.4,654.6 1781.6,655.2 1781.8,655.8 1782.0,656.5 1782.2,657.3 1782.4,658.1 1782.6,658.9 1782.8,659.8 1783.0,660.7 1783.2,661.7 1783.4,662.7 1783.6,663.8 1783.8,664.9 1784.0,666.0 1784.2,667.3 1784.4,668.5 1784.6,669.9 1784.8,671.2 1785.0,672.7 1785.2,674.1 1785.4,675.7 1785.6,677.3 1785.8,678.9 1786.0,680.6 1786.2,682.4 1786.4,684.3 1786.6,686.2 1786.8,688.1 1787.0,690.1 1787.2,692.2 1787.4,694.4 1787.6,696.7 1787.8,699.0 1788.0,701.3 1788.2,703.8 1788.4,706.4 1788.6,709.0 1788.8,711.7 1789.0,714.5 1789.2,717.4 1789.4,720.4 1789.6,723.5 1789.8,726.7 1790.0,729.9 1790.2,733.4 1790.4,736.9 1790.6,740.5 1790.8,744.3 1791.0,748.2 1791.2,752.2 1791.4,756.4 1791.6,760.7 1791.8,765.2 1792.0,769.9 1792.2,774.7 1792.4,779.8 1792.6,785.0 1792.8,790.5 1793.0,796.2 1793.2,802.1 1793.4,808.3 1793.6,814.8 1793.8,821.7 1794.0,828.8 1794.2,836.4 1794.4,844.3 1794.6,852.7 1794.8,861.7 1795.0,871.1 1795.2,881.3 1795.4,892.1 1795.6,903.8 1795.8,916.4 1796.0,930.2 1796.2,945.3 1796.4,962.0 1796.6,980.7 1796.8,1002.0 1797.0,1026.5 1797.2,1055.6 1797.4,1091.1 1797.6,1137.0 1797.8,1146.3 1798.0,1146.3 1798.2,1146.3 1798.2,1146.3 1798.4,1146.3 1798.6,1146.3 1798.8,1146.3 1799.0,1102.0 1799.2,1066.6 1799.4,1037.6 1799.6,1013.2 1799.8,992.1 1800.0,973.5 1800.2,956.8 1800.4,941.8 1800.6,928.2 1800.8,915.6 1801.0,904.0 1801.2,893.3 1801.4,883.3 1801.6,873.9 1801.8,865.0 1802.0,856.7 1802.2,848.8 1802.4,841.4 1802.6,834.3 1802.8,827.5 1803.0,821.1 1803.2,814.9 1803.4,809.1 1803.6,803.4 1803.8,798.1 1804.0,792.9 1804.2,787.9 1804.4,783.1 1804.6,778.5 1804.8,774.1 1805.0,769.8 1805.2,765.7 1805.4,761.7 1805.6,757.9 1805.8,754.1 1806.0,750.5 1806.2,747.1 1806.4,743.7 1806.6,740.5 1806.8,737.3 1807.0,734.3 1807.2,731.3 1807.4,728.4 1807.6,725.7 1807.8,723.0 1808.0,720.4 1808.2,717.9 1808.4,715.4 1808.6,713.1 1808.8,710.8 1809.0,708.5 1809.2,706.4 1809.4,704.3 1809.6,702.3 1809.8,700.3 1810.0,698.4 1810.2,696.6 1810.4,694.8 1810.6,693.1 1810.8,691.4 1811.0,689.8 1811.2,688.3 1811.4,686.8 1811.6,685.3 1811.8,683.9 1812.0,682.6 1812.2,681.3 1812.4,680.0 1812.6,678.8 1812.8,677.7 1813.0,676.6 1813.2,675.5 1813.4,674.5 1813.6,673.5 1813.8,672.6 1814.0,671.7 1814.2,670.9 1814.4,670.1 1814.6,669.3 1814.8,668.6 1815.0,667.9 1815.2,667.3 1815.4,666.7 1815.6,666.1 1815.8,665.6 1816.0,665.1 1816.2,664.7 1816.4,664.3 1816.6,663.9 1816.8,663.6 1817.0,663.3 1817.2,663.1 1817.4,662.9 1817.6,662.7 1817.8,662.6 1818.0,662.5 1818.2,662.4 1818.4,662.4 1818.6,662.4 1818.8,662.5 1819.0,662.6 1819.2,662.7 1819.4,662.9 1819.6,663.1 1819.8,663.3 1820.0,663.6 1820.2,663.9 1820.4,664.3 1820.6,664.7 1820.8,665.1 1821.0,665.6 1821.2,666.1 1821.4,666.6 1821.6,667.2 1821.8,667.8 1822.0,668.5 1822.2,669.2 1822.4,669.9 1822.6,670.7 1822.8,671.6 1823.0,672.4 1823.2,673.3 1823.4,674.3 1823.6,675.3 1823.8,676.3 1824.0,677.4 1824.2,678.5 1824.4,679.7 1824.6,680.9 1824.8,682.2 1825.0,683.5 1825.2,684.9 1825.4,686.3 1825.6,687.7 1825.8,689.2 1826.0,690.8 1826.2,692.4 1826.4,694.1 1826.6,695.8 1826.8,697.5 1827.0,699.4 1827.2,701.3 1827.4,703.2 1827.6,705.2 1827.8,707.3 1828.0,709.4 1828.2,711.6 1828.4,713.9 1828.6,716.2 1828.8,718.6 1829.0,721.1 1829.2,723.7 1829.4,726.3 1829.6,729.0 1829.8,731.8 1830.0,734.7 1830.2,737.6 1830.4,740.7 1830.6,743.9 1830.8,747.1 1831.0,750.5 1831.2,754.0 1831.4,757.5 1831.6,761.2 1831.8,765.1 1832.0,769.0 1832.2,773.1 1832.4,777.3 1832.6,781.7 1832.8,786.3 1833.0,791.0 1833.2,795.9 1833.4,801.0 1833.6,806.3 1833.8,811.8 1834.0,817.5 1834.2,823.5 1834.4,829.7 1834.6,836.3 1834.8,843.1 1835.0,850.3 1835.2,857.9 1835.4,865.9 1835.6,874.3 1835.8,883.3 1836.0,892.8 1836.2,902.9 1836.4,913.8 1836.6,925.5 1836.8,938.1 1837.0,951.9 1837.2,967.0 1837.4,983.8 1837.6,1002.5 1837.8,1017.2 1838.0,1017.2 1838.2,1017.2 1838.4,1017.2 1838.6,1017.2 1838.8,1017.2 1839.0,1017.2 1839.2,1017.2 1839.2,1017.2 1839.4,1017.2 1839.6,1017.2 1839.8,1017.2 1840.0,1017.2 1840.2,1017.2 1840.4,1017.2 1840.6,1012.9 1840.8,991.7 1841.0,973.1 1841.2,956.5 1841.4,941.6 1841.6,927.9 1841.8,915.4 1842.0,903.8 1842.2,893.1 1842.4,883.1 1842.6,873.7 1842.8,864.9 1843.0,856.7 1843.2,848.8 1843.4,841.4 1843.6,834.4 1843.8,827.7 1844.0,821.3 1844.2,815.2 1844.4,809.4 1844.6,803.8 1844.8,798.4 1845.0,793.3 1845.2,788.4 1845.4,783.7 1845.6,779.2 1845.8,774.8 1846.0,770.6 1846.2,766.5 1846.4,762.6 1846.6,758.8 1846.8,755.2 1847.0,751.7 1847.2,748.3 1847.4,745.0 1847.6,741.9 1847.8,738.8 1848.0,735.8 1848.2,733.0 1848.4,730.2 1848.6,727.6 1848.8,725.0 1849.0,722.5 1849.2,720.1 1849.4,717.7 1849.6,715.5 1849.8,713.3 1850.0,711.2 1850.2,709.1 1850.4,707.2 1850.6,705.3 1850.8,703.5 1851.0,701.7 1851.2,700.0 1851.4,698.3 1851.6,696.8 1851.8,695.2 1852.0,693.8 1852.2,692.4 1852.4,691.0 1852.6,689.7 1852.8,688.5 1853.0,687.3 1853.2,686.2 1853.4,685.1 1853.6,684.1 1853.8,683.1 1854.0,682.2 1854.2,681.3 1854.4,680.5 1854.6,679.7 1854.8,678.9 1855.0,678.2 1855.2,677.6 1855.4,677.0 1855.6,676.5 1855.8,675.9 1856.0,675.5 1856.2,675.1 1856.4,674.7 1856.6,674.4 1856.8,674.1 1857.0,673.9 1857.2,673.7 1857.4,673.5 1857.6,673.4 1857.8,673.3 1858.0,673.3 1858.2,673.3 1858.4,673.4 1858.6,673.5 1858.8,673.7 1859.0,673.9 1859.2,674.1 1859.4,674.4 1859.6,674.7 1859.8,675.1 1860.0,675.5 1860.2,676.0 1860.4,676.5 1860.6,677.0 1860.8,677.6 1861.0,678.3 1861.2,678.9 1861.4,679.7 1861.6,680.4 1861.8,681.3 1862.0,682.1 1862.2,683.1 1862.4,684.0 1862.6,685.0 1862.8,686.1 1863.0,687.2 1863.2,688.4 1863.4,689.6 1863.6,690.9 1863.8,692.2 1864.0,693.6 1864.2,695.0 1864.4,696.5 1864.6,698.0 1864.8,699.6 1865.0,701.3 1865.2,703.0 1865.4,704.8 1865.6,706.6 1865.8,708.6 1866.0,710.5 1866.2,712.6 1866.4,714.7 1866.6,716.9 1866.8,719.1 1867.0,721.4 1867.2,723.9 1867.4,726.3 1867.6,728.9 1867.8,731.6 1868.0,734.3 1868.2,737.1 1868.4,740.0 1868.6,743.1 1868.8,746.2 1869.0,749.4 1869.2,752.7 1869.4,756.2 1869.6,759.7 1869.8,763.4 1870.0,767.2 1870.2,771.2 1870.4,775.3 1870.6,779.5 1870.8,783.9 1871.0,788.5 1871.2,793.2 1871.4,798.1 1871.6,803.3 1871.8,808.6 1872.0,814.2 1872.2,820.0 1872.4,826.0 1872.6,832.4 1872.8,839.0 1873.0,846.0 1873.2,853.4 1873.4,861.1 1873.6,869.3 1873.8,877.9 1874.0,887.1 1874.2,896.9 1874.4,907.3 1874.6,918.6 1874.8,930.7 1875.0,943.9 1875.2,958.3 1875.4,974.1 1875.6,991.8 1875.8,1011.7 1876.0,1034.4 1876.2,1061.0 1876.4,1089.6 1876.6,1089.6 1876.8,1089.6 1877.0,1089.6 1877.2,1089.6 1877.3,1089.6 1877.4,1089.6 1877.6,1089.6 1877.8,1089.6 1878.0,1089.6 1878.2,1089.6 1878.4,1062.5 1878.6,1036.0 1878.8,1013.3 1879.0,993.5 1879.2,976.0 1879.4,960.2 1879.6,946.0 1879.8,932.9 1880.0,920.9 1880.2,909.7 1880.4,899.4 1880.6,889.7 1880.8,880.6 1881.0,872.1 1881.2,864.0 1881.4,856.4 1881.6,849.1 1881.8,842.3 1882.0,835.7 1882.2,829.5 1882.4,823.5 1882.6,817.8 1882.8,812.3 1883.0,807.1 1883.2,802.1 1883.4,797.3 1883.6,792.6 1883.8,788.2 1884.0,783.9 1884.2,779.7 1884.4,775.7 1884.6,771.9 1884.8,768.2 1885.0,764.6 1885.2,761.1 1885.4,757.8 1885.6,754.6 1885.8,751.4 1886.0,748.4 1886.2,745.5 1886.4,742.7 1886.6,740.0 1886.8,737.3 1887.0,734.8 1887.2,732.3 1887.4,729.9 1887.6,727.6 1887.8,725.4 1888.0,723.2 1888.2,721.1 1888.4,719.1 1888.6,717.2 1888.8,715.3 1889.0,713.5 1889.2,711.7 1889.4,710.1 1889.6,708.4 1889.8,706.9 1890.0,705.4 1890.2,703.9 1890.4,702.5 1890.6,701.2 1890.8,699.9 1891.0,698.7 1891.2,697.5 1891.4,696.4 1891.6,695.3 1891.8,694.3 1892.0,693.3 1892.2,692.4 1892.4,691.5 1892.6,690.7 1892.8,689.9 1893.0,689.2 1893.2,688.5 1893.4,687.9 1893.6,687.3 1893.8,686.7 1894.0,686.2 1894.2,685.8 1894.4,685.3 1894.6,685.0 1894.8,684.6 1895.0,684.4 1895.2,684.1 1895.4,683.9 1895.6,683.8 1895.8,683.7 1896.0,683.6 1896.2,683.6 1896.4,683.6 1896.6,683.7 1896.8,683.8 1897.0,683.9 1897.2,684.1 1897.4,684.3 1897.6,684.6 1897.8,684.9 1898.0,685.3 1898.2,685.7 1898.4,686.2 1898.6,686.7 1898.8,687.2 1899.0,687.8 1899.2,688.4 1899.4,689.1 1899.6,689.8 1899.8,690.6 1900.0,691.4 1900.2,692.2 1900.4,693.2 1900.6,694.1 1900.8,695.1 1901.0,696.2 1901.2,697.3 1901.4,698.4 1901.6,699.6 1901.8,700.9 1902.0,702.2 1902.2,703.5 1902.4,704.9 1902.6,706.4 1902.8,707.9 1903.0,709.5 1903.2,711.2 1903.4,712.8 1903.6,714.6 1903.8,716.4 1904.0,718.3 1904.2,720.3 1904.4,722.3 1904.6,724.4 1904.8,726.5 1905.0,728.7 1905.2,731.0 1905.4,733.4 1905.6,735.8 1905.8,738.4 1906.0,741.0 1906.2,743.7 1906.4,746.5 1906.6,749.4 1906.8,752.3 1907.0,755.4 1907.2,758.6 1907.4,761.9 1907.6,765.2 1907.8,768.7 1908.0,772.4 1908.2,776.1 1908.4,780.0 1908.6,784.0 1908.8,788.2 1909.0,792.5 1909.2,797.0 1909.4,801.7 1909.6,806.5 1909.8,811.5 1910.0,816.7 1910.2,822.2 1910.4,827.9 1910.6,833.8 1910.8,840.0 1911.0,846.5 1911.2,853.3 1911.4,860.5 1911.6,868.0 1911.8,875.9 1912.0,884.3 1912.2,893.3 1912.4,902.7 1912.6,912.8 1912.8,923.7 1913.0,935.4 1913.2,948.0 1913.4,961.7 1913.6,976.8 1913.8,993.5 1914.0,1012.2 1914.2,1033.5 1914.4,1058.0 1914.6,1087.0 1914.8,1122.6 1915.0,1168.4 1915.2,1184.2 1915.4,1184.2 1915.6,1184.2 1915.6,1184.2 1915.8,1184.2 1916.0,1184.2 1916.2,1179.2 1916.4,1133.4 1916.6,1098.0 1916.8,1069.0 1917.0,1044.6 1917.2,1023.4 1917.4,1004.8 1917.6,988.2 1917.8,973.2 1918.0,959.5 1918.2,946.9 1918.4,935.4 1918.6,924.6 1918.8,914.5 1919.0,905.1 1919.2,896.3 1919.4,888.0 1919.6,880.1 1919.8,872.6 1920.0,865.5 1920.2,858.8 1920.4,852.3 1920.6,846.2 1920.8,840.3 1921.0,834.6 1921.2,829.2 1921.4,824.1 1921.6,819.1 1921.8,814.3 1922.0,809.7 1922.2,805.2 1922.4,801.0 1922.6,796.8 1922.8,792.8 1923.0,789.0 1923.2,785.3 1923.4,781.7 1923.6,778.2 1923.8,774.8 1924.0,771.5 1924.2,768.4 1924.4,765.3 1924.6,762.4 1924.8,759.5 1925.0,756.7 1925.2,754.0 1925.4,751.4 1925.6,748.9 1925.8,746.5 1926.0,744.1 1926.2,741.8 1926.4,739.6 1926.6,737.4 1926.8,735.3 1927.0,733.3 1927.2,731.3 1927.4,729.4 1927.6,727.6 1927.8,725.8 1928.0,724.1 1928.2,722.4 1928.4,720.8 1928.6,719.2 1928.8,717.7 1929.0,716.3 1929.2,714.9 1929.4,713.5 1929.6,712.2 1929.8,711.0 1930.0,709.8 1930.2,708.6 1930.4,707.5 1930.6,706.4 1930.8,705.4 1931.0,704.4 1931.2,703.5 1931.4,702.6 1931.6,701.8 1931.8,701.0 1932.0,700.2 1932.2,699.5 1932.4,698.8 1932.6,698.2 1932.8,697.6 1933.0,697.0 1933.2,696.5 1933.4,696.0 1933.6,695.6 1933.8,695.2 1934.0,694.8 1934.2,694.5 1934.4,694.2 1934.6,693.9 1934.8,693.7 1935.0,693.6 1935.2,693.4 1935.4,693.3 1935.6,693.3 1935.8,693.3 1936.0,693.3 1936.2,693.3 1936.4,693.4 1936.6,693.6 1936.8,693.7 1937.0,693.9 1937.2,694.2 1937.4,694.5 1937.6,694.8 1937.8,695.1 1938.0,695.5 1938.2,696.0 1938.4,696.4 1938.6,696.9 1938.8,697.5 1939.0,698.1 1939.2,698.7 1939.4,699.4 1939.6,700.1 1939.8,700.9 1940.0,701.6 1940.2,702.5 1940.4,703.4 1940.6,704.3 1940.8,705.2 1941.0,706.2 1941.2,707.3 1941.4,708.4 1941.6,709.5 1941.8,710.7 1942.0,711.9 1942.2,713.2 1942.4,714.5 1942.6,715.9 1942.8,717.3 1943.0,718.8 1943.2,720.3 1943.4,721.8 1943.6,723.5 1943.8,725.1 1944.0,726.9 1944.2,728.7 1944.4,730.5 1944.6,732.4 1944.8,734.4 1945.0,736.4 1945.2,738.5 1945.4,740.6 1945.6,742.9 1945.8,745.1 1946.0,747.5 1946.2,749.9 1946.4,752.4 1946.6,755.0 1946.8,757.7 1947.0,760.4 1947.2,763.2 1947.4,766.2 1947.6,769.2 1947.8,772.3 1948.0,775.5 1948.2,778.8 1948.4,782.2 1948.6,785.7 1948.8,789.3 1949.0,793.1 1949.2,796.9 1949.4,800.9 1949.6,805.1 1949.8,809.4 1950.0,813.9 1950.2,818.5 1950.4,823.3 1950.6,828.2 1950.8,833.4 1951.0,838.8 1951.2,844.4 1951.4,850.2 1951.6,856.4 1951.8,862.7 1952.0,869.4 1952.2,876.4 1952.4,883.8 1952.6,891.6 1952.8,899.8 1953.0,908.4 1953.2,917.6 1953.4,927.5 1953.6,937.9 1953.8,949.2 1954.0,961.3 1954.2,974.5 1954.4,988.9 1954.6,1004.8 1954.8,1022.5 1955.0,1026.1 1955.2,1026.1 1955.4,1026.1 1955.6,1026.1 1955.8,1026.1 1956.0,1026.1 1956.2,1026.1 1956.4,1026.1 1956.5,1026.1 1956.6,1026.1 1956.8,1026.1 1957.0,1026.1 1957.2,1026.1 1957.4,1026.1 1957.6,1026.1 1957.8,1026.1 1958.0,1026.1 1958.2,1013.7 1958.4,996.1 1958.6,980.4 1958.8,966.1 1959.0,953.0 1959.2,941.0 1959.4,929.8 1959.6,919.4 1959.8,909.8 1960.0,900.7 1960.2,892.1 1960.4,884.0 1960.6,876.4 1960.8,869.2 1961.0,862.3 1961.2,855.7 1961.4,849.5 1961.6,843.5 1961.8,837.8 1962.0,832.3 1962.2,827.1 1962.4,822.0 1962.6,817.2 1962.8,812.5 1963.0,808.1 1963.2,803.8 1963.4,799.6 1963.6,795.6 1963.8,791.8 1964.0,788.0 1964.2,784.4 1964.4,781.0 1964.6,777.6 1964.8,774.4 1965.0,771.2 1965.2,768.2 1965.4,765.3 1965.6,762.4 1965.8,759.7 1966.0,757.0 1966.2,754.5 1966.4,752.0 1966.6,749.6 1966.8,747.3 1967.0,745.0 1967.2,742.9 1967.4,740.8 1967.6,738.7 1967.8,736.8 1968.0,734.9 1968.2,733.1 1968.4,731.3 1968.6,729.6 1968.8,728.0 1969.0,726.4 1969.2,724.9 1969.4,723.4 1969.6,722.0 1969.8,720.6 1970.0,719.3 1970.2,718.1 1970.4,716.9 1970.6,715.8 1970.8,714.7 1971.0,713.6 1971.2,712.6 1971.4,711.7 1971.6,710.8 1971.8,709.9 1972.0,709.1 1972.2,708.4 1972.4,707.7 1972.6,707.0 1972.8,706.4 1973.0,705.8 1973.2,705.3 1973.4,704.8 1973.6,704.4 1973.8,704.0 1974.0,703.7 1974.2,703.4 1974.4,703.1 1974.6,702.9 1974.8,702.7 1975.0,702.6 1975.2,702.5 1975.4,702.4 1975.6,702.4 1975.8,702.5 1976.0,702.5 1976.2,702.6 1976.4,702.8 1976.6,703.0 1976.8,703.3 1977.0,703.6 1977.2,703.9 1977.4,704.3 1977.6,704.7 1977.8,705.2 1978.0,705.7 1978.2,706.2 1978.4,706.8 1978.6,707.4 1978.8,708.1 1979.0,708.9 1979.2,709.6 1979.4,710.5 1979.6,711.3 1979.8,712.2 1980.0,713.2 1980.2,714.2 1980.4,715.3 1980.6,716.4 1980.8,717.5 1981.0,718.7 1981.2,720.0 1981.4,721.3 1981.6,722.7 1981.8,724.1 1982.0,725.6 1982.2,727.1 1982.4,728.7 1982.6,730.3 1982.8,732.0 1983.0,733.8 1983.2,735.6 1983.4,737.5 1983.6,739.5 1983.8,741.5 1984.0,743.6 1984.2,745.7 1984.4,747.9 1984.6,750.2 1984.8,752.6 1985.0,755.1 1985.2,757.6 1985.4,760.2 1985.6,762.9 1985.8,765.7 1986.0,768.6 1986.2,771.6 1986.4,774.6 1986.6,777.8 1986.8,781.1 1987.0,784.5 1987.2,788.0 1987.4,791.6 1987.6,795.4 1987.8,799.2 1988.0,803.3 1988.2,807.4 1988.4,811.8 1988.6,816.2 1988.8,820.9 1989.0,825.7 1989.2,830.7 1989.4,836.0 1989.6,841.4 1989.8,847.1 1990.0,853.0 1990.2,859.2 1990.4,865.7 1990.6,872.5 1990.8,879.7 1991.0,887.2 1991.2,895.2 1991.4,903.6 1991.6,912.5 1991.8,921.9 1992.0,932.1 1992.2,942.9 1992.4,954.6 1992.6,967.2 1992.8,980.9 1993.0,996.0 1993.2,1012.7 1993.4,1031.4 1993.6,1052.6 1993.8,1077.2 1994.0,1106.2 1994.2,1141.7 1994.4,1187.6 1994.6,1241.1 1994.8,1241.1 1995.0,1241.1 1995.0,1241.1 1995.2,1241.1 1995.4,1241.1 1995.6,1186.2 1995.8,1140.4 1996.0,1105.0 1996.2,1076.1 1996.4,1051.6 1996.6,1030.5 1996.8,1011.9 1997.0,995.3 1997.2,980.3 1997.4,966.6 1997.6,954.1 1997.8,942.5 1998.0,931.8 1998.2,921.8 1998.4,912.4 1998.6,903.6 1998.8,895.3 1999.0,887.4 1999.2,880.0 1999.4,872.9 1999.6,866.2 1999.8,859.8 2000.0,853.7 2000.2,847.9 2000.4,842.3 2000.6,837.0 2000.8,831.8 2001.0,826.9 2001.2,822.2 2001.4,817.6 2001.6,813.3 2001.8,809.0 2002.0,805.0 2002.2,801.0 2002.4,797.3 2002.6,793.6 2002.8,790.1 2003.0,786.7 2003.2,783.4 2003.4,780.2 2003.6,777.2 2003.8,774.2 2004.0,771.3 2004.2,768.5 2004.4,765.9 2004.6,763.3 2004.8,760.8 2005.0,758.3 2005.2,756.0 2005.4,753.7 2005.6,751.5 2005.8,749.4 2006.0,747.4 2006.2,745.4 2006.4,743.5 2006.6,741.6 2006.8,739.9 2007.0,738.1 2007.2,736.5 2007.4,734.9 2007.6,733.4 2007.8,731.9 2008.0,730.5 2008.2,729.1 2008.4,727.8 2008.6,726.6 2008.8,725.4 2009.0,724.2 2009.2,723.1 2009.4,722.1 2009.6,721.1 2009.8,720.2 2010.0,719.3 2010.2,718.4 2010.4,717.6 2010.6,716.9 2010.8,716.2 2011.0,715.5 2011.2,714.9 2011.4,714.4 2011.6,713.9 2011.8,713.4 2012.0,713.0 2012.2,712.6 2012.4,712.2 2012.6,711.9 2012.8,711.7 2013.0,711.5 2013.2,711.3 2013.4,711.2 2013.6,711.1 2013.8,711.1 2014.0,711.1 2014.2,711.2 2014.4,711.3 2014.6,711.4 2014.8,711.6 2015.0,711.8 2015.2,712.1 2015.4,712.4 2015.6,712.8 2015.8,713.2 2016.0,713.6 2016.2,714.1 2016.4,714.7 2016.6,715.2 2016.8,715.9 2017.0,716.5 2017.2,717.3 2017.4,718.0 2017.6,718.8 2017.8,719.7 2018.0,720.6 2018.2,721.6 2018.4,722.6 2018.6,723.6 2018.8,724.7 2019.0,725.9 2019.2,727.1 2019.4,728.3 2019.6,729.7 2019.8,731.0 2020.0,732.4 2020.2,733.9 2020.4,735.5 2020.6,737.0 2020.8,738.7 2021.0,740.4 2021.2,742.2 2021.4,744.0 2021.6,745.9 2021.8,747.9 2022.0,749.9 2022.2,752.0 2022.4,754.2 2022.6,756.4 2022.8,758.7 2023.0,761.1 2023.2,763.6 2023.4,766.2 2023.6,768.8 2023.8,771.5 2024.0,774.3 2024.2,777.3 2024.4,780.3 2024.6,783.4 2024.8,786.6 2025.0,789.9 2025.2,793.3 2025.4,796.9 2025.6,800.6 2025.8,804.4 2026.0,808.3 2026.2,812.4 2026.4,816.6 2026.6,821.0 2026.8,825.6 2027.0,830.3 2027.2,835.2 2027.4,840.3 2027.6,845.6 2027.8,851.2 2028.0,857.0 2028.2,863.0 2028.4,869.4 2028.6,876.0 2028.8,883.0 2029.0,890.3 2029.2,898.0 2029.4,906.2 2029.6,914.8 2029.8,924.0 2030.0,933.8 2030.2,944.2 2030.4,955.5 2030.6,967.6 2030.8,980.8 2031.0,995.1 2031.2,1011.0 2031.4,1028.6 2031.6,1048.5 2031.8,1071.3 2032.0,1097.8 2032.2,1129.8 2032.4,1166.1 2032.6,1166.1 2032.8,1166.1 2033.0,1166.1 2033.1,1166.1 2033.2,1166.1 2033.4,1166.1 2033.6,1166.1 2033.8,1166.1 2034.0,1142.6 2034.2,1110.7 2034.4,1084.2 2034.6,1061.5 2034.8,1041.7 2035.0,1024.2 2035.2,1008.4 2035.4,994.0 2035.6,980.9 2035.8,968.9 2036.0,957.7 2036.2,947.3 2036.4,937.6 2036.6,928.4 2036.8,919.8 2037.0,911.7 2037.2,904.1 2037.4,896.8 2037.6,889.8 2037.8,883.2 2038.0,876.9 2038.2,870.9 2038.4,865.1 2038.6,859.6 2038.8,854.3 2039.0,849.2 2039.2,844.3 2039.4,839.6 2039.6,835.1 2039.8,830.7 2040.0,826.5 2040.2,822.4 2040.4,818.5 2040.6,814.7 2040.8,811.0 2041.0,807.4 2041.2,804.0 2041.4,800.7 2041.6,797.4 2041.8,794.3 2042.0,791.3 2042.2,788.4 2042.4,785.5 2042.6,782.8 2042.8,780.1 2043.0,777.5 2043.2,775.0 2043.4,772.6 2043.6,770.2 2043.8,768.0 2044.0,765.7 2044.2,763.6 2044.4,761.5 2044.6,759.5 2044.8,757.6 2045.0,755.7 2045.2,753.8 2045.4,752.1 2045.6,750.3 2045.8,748.7 2046.0,747.1 2046.2,745.5 2046.4,744.0 2046.6,742.6 2046.8,741.2 2047.0,739.8 2047.2,738.5 2047.4,737.3 2047.6,736.1 2047.8,734.9 2048.0,733.8 2048.2,732.8 2048.4,731.7 2048.6,730.8 2048.8,729.8 2049.0,728.9 2049.2,728.1 2049.4,727.3 2049.6,726.5 2049.8,725.8 2050.0,725.1 2050.2,724.4 2050.4,723.8 2050.6,723.3 2050.8,722.7 2051.0,722.3 2051.2,721.8 2051.4,721.4 2051.6,721.0 2051.8,720.7 2052.0,720.4 2052.2,720.1 2052.4,719.9 2052.6,719.7 2052.8,719.6 2053.0,719.5 2053.2,719.4 2053.4,719.4 2053.6,719.4 2053.8,719.4 2054.0,719.5 2054.2,719.6 2054.4,719.8 2054.6,719.9 2054.8,720.2 2055.0,720.4 2055.2,720.7 2055.4,721.1 2055.6,721.4 2055.8,721.8 2056.0,722.3 2056.2,722.8 2056.4,723.3 2056.6,723.9 2056.8,724.5 2057.0,725.1 2057.2,725.8 2057.4,726.5 2057.6,727.3 2057.8,728.1 2058.0,729.0 2058.2,729.8 2058.4,730.8 2058.6,731.7 2058.8,732.8 2059.0,733.8 2059.2,734.9 2059.4,736.1 2059.6,737.2 2059.8,738.5 2060.0,739.8 2060.2,741.1 2060.4,742.5 2060.6,743.9 2060.8,745.4 2061.0,746.9 2061.2,748.5 2061.4,750.1 2061.6,751.8 2061.8,753.5 2062.0,755.3 2062.2,757.2 2062.4,759.1 2062.6,761.0 2062.8,763.1 2063.0,765.2 2063.2,767.3 2063.4,769.5 2063.6,771.8 2063.8,774.2 2064.0,776.6 2064.2,779.1 2064.4,781.7 2064.6,784.4 2064.8,787.1 2065.0,790.0 2065.2,792.9 2065.4,795.9 2065.6,799.0 2065.8,802.2 2066.0,805.5 2066.2,808.9 2066.4,812.4 2066.6,816.0 2066.8,819.8 2067.0,823.7 2067.2,827.7 2067.4,831.8 2067.6,836.1 2067.8,840.6 2068.0,845.2 2068.2,850.0 2068.4,855.0 2068.6,860.1 2068.8,865.5 2069.0,871.1 2069.2,877.0 2069.4,883.1 2069.6,889.5 2069.8,896.1 2070.0,903.1 2070.2,910.5 2070.4,918.3 2070.6,926.5 2070.8,935.1 2071.0,944.3 2071.2,954.2 2071.4,964.6 2071.6,975.9 2071.8,988.0 2072.0,1001.2 2072.2,1015.6 2072.4,1031.5 2072.6,1049.1 2072.8,1063.7 2073.0,1063.7 2073.2,1063.7 2073.4,1063.7 2073.6,1063.7 2073.8,1063.7 2074.0,1063.7 2074.2,1063.7 2074.3,1063.7 2074.4,1063.7 2074.6,1063.7 2074.8,1063.7 2075.0,1063.7 2075.2,1063.7 2075.4,1063.7 2075.6,1063.7 2075.8,1056.4 2076.0,1036.6 2076.2,1019.0 2076.4,1003.3 2076.6,989.0 2076.8,975.9 2077.0,963.9 2077.2,952.7 2077.4,942.4 2077.6,932.7 2077.8,923.6 2078.0,915.0 2078.2,907.0 2078.4,899.3 2078.6,892.1 2078.8,885.2 2079.0,878.6 2079.2,872.4 2079.4,866.4 2079.6,860.7 2079.8,855.3 2080.0,850.0 2080.2,845.0 2080.4,840.2 2080.6,835.5 2080.8,831.1 2081.0,826.8 2081.2,822.6 2081.4,818.6 2081.6,814.8 2081.8,811.1 2082.0,807.5 2082.2,804.0 2082.4,800.7 2082.6,797.5 2082.8,794.4 2083.0,791.3 2083.2,788.4 2083.4,785.6 2083.6,782.9 2083.8,780.2 2084.0,777.7 2084.2,775.2 2084.4,772.9 2084.6,770.6 2084.8,768.3 2085.0,766.2 2085.2,764.1 2085.4,762.1 2085.6,760.2 2085.8,758.3 2086.0,756.5 2086.2,754.8 2086.4,753.1 2086.6,751.5 2086.8,749.9 2087.0,748.4 2087.2,747.0 2087.4,745.6 2087.6,744.3 2087.8,743.0 2088.0,741.8 2088.2,740.6 2088.4,739.5 2088.6,738.5 2088.8,737.5 2089.0,736.5 2089.2,735.6 2089.4,734.7 2089.6,733.9 2089.8,733.2 2090.0,732.5 2090.2,731.8 2090.4,731.2 2090.6,730.6 2090.8,730.1 2091.0,729.6 2091.2,729.2 2091.4,728.8 2091.6,728.4 2091.8,728.1 2092.0,727.9 2092.2,727.7 2092.4,727.5 2092.6,727.4 2092.8,727.3 2093.0,727.3 2093.2,727.3 2093.4,727.3 2093.6,727.4 2093.8,727.5 2094.0,727.7 2094.2,728.0 2094.4,728.2 2094.6,728.5 2094.8,728.9 2095.0,729.3 2095.2,729.8 2095.4,730.3 2095.6,730.8 2095.8,731.4 2096.0,732.0 2096.2,732.7 2096.4,733.4 2096.6,734.2 2096.8,735.0 2097.0,735.9 2097.2,736.8 2097.4,737.7 2097.6,738.7 2097.8,739.8 2098.0,740.9 2098.2,742.1 2098.4,743.3 2098.6,744.6 2098.8,745.9 2099.0,747.3 2099.2,748.7 2099.4,750.2 2099.6,751.7 2099.8,753.3 2100.0,755.0 2100.2,756.7 2100.4,758.5 2100.6,760.4 2100.8,762.3 2101.0,764.3 2101.2,766.3 2101.4,768.4 2101.6,770.6 2101.8,772.9 2102.0,775.3 2102.2,777.7 2102.4,780.2 2102.6,782.8 2102.8,785.4 2103.0,788.2 2103.2,791.1 2103.4,794.0 2103.6,797.0 2103.8,800.2 2104.0,803.4 2104.2,806.8 2104.4,810.3 2104.6,813.9 2104.8,817.6 2105.0,821.5 2105.2,825.5 2105.4,829.6 2105.6,833.9 2105.8,838.4 2106.0,843.0 2106.2,847.8 2106.4,852.8 2106.6,858.1 2106.8,863.5 2107.0,869.1 2107.2,875.1 2107.4,881.2 2107.6,887.7 2107.8,894.5 2108.0,901.7 2108.2,909.2 2108.4,917.1 2108.6,925.5 2108.8,934.4 2109.0,943.8 2109.2,953.9 2109.4,964.8 2109.6,976.4 2109.8,989.0 2110.0,1002.8 2110.2,1017.8 2110.4,1034.5 2110.6,1053.2 2110.8,1074.4 2111.0,1099.0 2111.2,1128.0 2111.4,1163.5 2111.6,1209.4 2111.8,1274.0 2112.0,1384.5 2112.2,1500.0 2112.2,1500.0 2112.4,1391.9 2112.6,1281.5 2112.8,1216.9 2113.0,1171.2 2113.2,1135.7 2113.4,1106.8 2113.6,1082.3 2113.8,1061.2 2114.0,1042.6 2114.2,1026.0 2114.4,1011.0 2114.6,997.3 2114.8,984.8 2115.0,973.2 2115.2,962.5 2115.4,952.4 2115.6,943.1 2115.8,934.3 2116.0,925.9 2116.2,918.1 2116.4,910.7 2116.6,903.6 2116.8,896.9 2117.0,890.5 2117.2,884.4 2117.4,878.6 2117.6,873.0 2117.8,867.6 2118.0,862.5 2118.2,857.6 2118.4,852.8 2118.6,848.3 2118.8,843.9 2119.0,839.7 2119.2,835.6 2119.4,831.7 2119.6,827.9 2119.8,824.3 2120.0,820.7 2120.2,817.3 2120.4,814.1 2120.6,810.9 2120.8,807.8 2121.0,804.8 2121.2,802.0 2121.4,799.2 2121.6,796.5 2121.8,793.9 2122.0,791.4 2122.2,789.0 2122.4,786.7 2122.6,784.4 2122.8,782.2 2123.0,780.1 2123.2,778.0 2123.4,776.1 2123.6,774.2 2123.8,772.3 2124.0,770.6 2124.2,768.8 2124.4,767.2 2124.6,765.6 2124.8,764.1 2125.0,762.6 2125.2,761.2 2125.4,759.9 2125.6,758.6 2125.8,757.3 2126.0,756.1 2126.2,755.0 2126.4,753.9 2126.6,752.9 2126.8,751.9 2127.0,751.0 2127.2,750.1 2127.4,749.2 2127.6,748.5 2127.8,747.7 2128.0,747.0 2128.2,746.4 2128.4,745.8 2128.6,745.2 2128.8,744.7 2129.0,744.3 2129.2,743.9 2129.4,743.5 2129.6,743.2 2129.8,742.9 2130.0,742.7 2130.2,742.5 2130.4,742.3 2130.6,742.2 2130.8,742.1 2131.0,742.1 2131.2,742.2 2131.4,742.2 2131.6,742.3 2131.8,742.5 2132.0,742.7 2132.2,743.0 2132.4,743.3 2132.6,743.6 2132.8,744.0 2133.0,744.4 2133.2,744.9 2133.4,745.4 2133.6,745.9 2133.8,746.5 2134.0,747.2 2134.2,747.9 2134.4,748.6 2134.6,749.4 2134.8,750.3 2135.0,751.2 2135.2,752.1 2135.4,753.1 2135.6,754.1 2135.8,755.2 2136.0,756.3 2136.2,757.5 2136.4,758.8 2136.6,760.1 2136.8,761.4 2137.0,762.8 2137.2,764.3 2137.4,765.8 2137.6,767.4 2137.8,769.0 2138.0,770.7 2138.2,772.4 2138.4,774.3 2138.6,776.1 2138.8,778.1 2139.0,780.1 2139.2,782.2 2139.4,784.3 2139.6,786.6 2139.8,788.9 2140.0,791.3 2140.2,793.7 2140.4,796.3 2140.6,798.9 2140.8,801.6 2141.0,804.4 2141.2,807.3 2141.4,810.3 2141.6,813.4 2141.8,816.6 2142.0,819.9 2142.2,823.3 2142.4,826.9 2142.6,830.5 2142.8,834.3 2143.0,838.2 2143.2,842.3 2143.4,846.5 2143.6,850.9 2143.8,855.5 2144.0,860.2 2144.2,865.1 2144.4,870.2 2144.6,875.5 2144.8,881.0 2145.0,886.8 2145.2,892.9 2145.4,899.2 2145.6,905.8 2145.8,912.8 2146.0,920.1 2146.2,927.8 2146.4,936.0 2146.6,944.6 2146.8,953.8 2147.0,963.5 2147.2,974.0 2147.4,985.2 2147.6,997.3 2147.8,1010.5 2148.0,1024.9 2148.2,1040.7 2148.4,1058.3 2148.6,1078.2 2148.8,1101.0 2149.0,1127.5 2149.2,1159.5 2149.4,1199.5 2149.6,1253.1 2149.8,1334.6 2150.0,1443.9 2150.1,1443.9 2150.2,1443.9 2150.4,1340.5 2150.6,1259.2 2150.8,1205.6 2151.0,1165.6 2151.2,1133.8 2151.4,1107.2 2151.6,1084.6 2151.8,1064.7 2152.0,1047.2 2152.2,1031.4 2152.4,1017.1 2152.6,1004.0 2152.8,991.9 2153.0,980.7 2153.2,970.3 2153.4,960.6 2153.6,951.5 2153.8,942.9 2154.0,934.7 2154.2,927.1 2154.4,919.8 2154.6,912.8 2154.8,906.2 2155.0,899.9 2155.2,893.9 2155.4,888.2 2155.6,882.6 2155.8,877.3 2156.0,872.3 2156.2,867.4 2156.4,862.7 2156.6,858.1 2156.8,853.7 2157.0,849.5 2157.2,845.5 2157.4,841.5 2157.6,837.7 2157.8,834.1 2158.0,830.5 2158.2,827.1 2158.4,823.8 2158.6,820.6 2158.8,817.5 2159.0,814.4 2159.2,811.5 2159.4,808.7 2159.6,806.0 2159.8,803.3 2160.0,800.7 2160.2,798.2 2160.4,795.8 2160.6,793.5 2160.8,791.2 2161.0,789.0 2161.2,786.9 2161.4,784.8 2161.6,782.8 2161.8,780.9 2162.0,779.0 2162.2,777.2 2162.4,775.4 2162.6,773.7 2162.8,772.1 2163.0,770.5 2163.2,769.0 2163.4,767.5 2163.6,766.1 2163.8,764.7 2164.0,763.4 2164.2,762.1 2164.4,760.9 2164.6,759.7 2164.8,758.5 2165.0,757.5 2165.2,756.4 2165.4,755.4 2165.6,754.5 2165.8,753.6 2166.0,752.7 2166.2,751.9 2166.4,751.1 2166.6,750.3 2166.8,749.6 2167.0,749.0 2167.2,748.4 2167.4,747.8 2167.6,747.3 2167.8,746.8 2168.0,746.3 2168.2,745.9 2168.4,745.5 2168.6,745.2 2168.8,744.9 2169.0,744.6 2169.2,744.4 2169.4,744.2 2169.6,744.1 2169.8,744.0 2170.0,743.9 2170.2,743.9 2170.4,743.9 2170.6,743.9 2170.8,744.0 2171.0,744.1 2171.2,744.3 2171.4,744.5 2171.6,744.7 2171.8,745.0 2172.0,745.3 2172.2,745.6 2172.4,746.0 2172.6,746.4 2172.8,746.9 2173.0,747.4 2173.2,748.0 2173.4,748.6 2173.6,749.2 2173.8,749.8 2174.0,750.5 2174.2,751.3 2174.4,752.1 2174.6,752.9 2174.8,753.8 2175.0,754.7 2175.2,755.7 2175.4,756.7 2175.6,757.7 2175.8,758.8 2176.0,759.9 2176.2,761.1 2176.4,762.3 2176.6,763.6 2176.8,764.9 2177.0,766.3 2177.2,767.7 2177.4,769.2 2177.6,770.7 2177.8,772.3 2178.0,773.9 2178.2,775.6 2178.4,777.4 2178.6,779.2 2178.8,781.0 2179.0,782.9 2179.2,784.9 2179.4,786.9 2179.6,789.0 2179.8,791.2 2180.0,793.4 2180.2,795.7 2180.4,798.1 2180.6,800.6 2180.8,803.1 2181.0,805.7 2181.2,808.4 2181.4,811.1 2181.6,814.0 2181.8,816.9 2182.0,820.0 2182.2,823.1 2182.4,826.3 2182.6,829.7 2182.8,833.1 2183.0,836.7 2183.2,840.3 2183.4,844.1 2183.6,848.1 2183.8,852.1 2184.0,856.3 2184.2,860.7 2184.4,865.2 2184.6,869.9 2184.8,874.8 2185.0,879.8 2185.2,885.1 2185.4,890.6 2185.6,896.3 2185.8,902.2 2186.0,908.5 2186.2,915.0 2186.4,921.8 2186.6,929.0 2186.8,936.5 2187.0,944.5 2187.2,952.9 2187.4,961.8 2187.6,971.3 2187.8,981.5 2188.0,992.3 2188.2,1004.0 2188.4,1016.6 2188.6,1030.4 2188.8,1045.5 2189.0,1062.2 2189.2,1078.0 2189.4,1078.0 2189.6,1078.0 2189.8,1078.0 2190.0,1078.0 2190.2,1078.0 2190.4,1078.0 2190.6,1078.0 2190.8,1078.0 2190.8,1078.0 2191.0,1078.0 2191.2,1078.0 2191.4,1078.0 2191.6,1078.0 2191.8,1078.0 2192.0,1078.0 2192.2,1078.0 2192.4,1073.2 2192.6,1054.6 2192.8,1038.0 2193.0,1023.0 2193.2,1009.3 2193.4,996.7 2193.6,985.1 2193.8,974.4 2194.0,964.3 2194.2,954.9 2194.4,946.1 2194.6,937.8 2194.8,929.9 2195.0,922.5 2195.2,915.4 2195.4,908.6 2195.6,902.2 2195.8,896.1 2196.0,890.2 2196.2,884.6 2196.4,879.2 2196.6,874.1 2196.8,869.1 2197.0,864.3 2197.2,859.8 2197.4,855.3 2197.6,851.1 2197.8,847.0 2198.0,843.0 2198.2,839.2 2198.4,835.5 2198.6,832.0 2198.8,828.5 2199.0,825.2 2199.2,822.0 2199.4,818.9 2199.6,815.9 2199.8,812.9 2200.0,810.1 2200.2,807.4 2200.4,804.7 2200.6,802.2 2200.8,799.7 2201.0,797.3 2201.2,795.0 2201.4,792.8 2201.6,790.6 2201.8,788.5 2202.0,786.4 2202.2,784.5 2202.4,782.6 2202.6,780.8 2202.8,779.0 2203.0,777.3 2203.2,775.6" fill="none" stroke="#7E2F8E" stroke-width="3.05" stroke-linejoin="round" stroke-linecap="butt"/>
</g>
<rect x="1712.75" y="62.2" width="480.05" height="409" fill="#fff" stroke="#262626" stroke-width="3.1"/>
<line x1="1730" y1="118.1" x2="1860.8" y2="118.1" stroke="#0072BD" stroke-width="3.4"/>
<text x="1875.2" y="148.9" font-size="78.2" fill="#000">No-MEC</text>
<line x1="1730" y1="216.6" x2="1860.8" y2="216.6" stroke="#D95319" stroke-width="3.4"/>
<text x="1875.2" y="247.4" font-size="78.2" fill="#000">PGA</text>
<line x1="1730" y1="316.2" x2="1860.8" y2="316.2" stroke="#EDB120" stroke-width="3.4"/>
<text x="1875.2" y="346.5" font-size="78.2" fill="#000">SI-MEC</text>
<line x1="1730" y1="414.8" x2="1860.8" y2="414.8" stroke="#7E2F8E" stroke-width="3.4"/>
<text x="1875.2" y="445.0" font-size="78.2" fill="#000">Ours</text>
<g font-size="88" fill="#262626">
<text x="272" y="82.8" text-anchor="end">0</text>
<text x="272" y="266.3" text-anchor="end">-10</text>
<text x="272" y="449.8" text-anchor="end">-20</text>
<text x="272" y="633.3" text-anchor="end">-30</text>
<text x="272" y="816.8" text-anchor="end">-40</text>
<text x="272" y="1000.3" text-anchor="end">-50</text>
<text x="272" y="1183.8" text-anchor="end">-60</text>
<text x="272" y="1367.3" text-anchor="end">-70</text>
<text x="614.8" y="1603.4" text-anchor="middle">-20</text>
<text x="931.9" y="1603.4" text-anchor="middle">-10</text>
<text x="1249.0" y="1603.4" text-anchor="middle">0</text>
<text x="1566.1" y="1603.4" text-anchor="middle">10</text>
<text x="1883.2" y="1603.4" text-anchor="middle">20</text>
<text x="2200.3" y="1603.4" text-anchor="middle">30</text>
</g>
<text x="1251" y="1727" font-size="97" fill="#262626" text-anchor="middle">Azimuth(m)</text>
<text transform="translate(106.1,767.8) rotate(-90)" font-size="97" fill="#262626" text-anchor="middle">Amplitude(dB)</text>
</svg></body></html>
